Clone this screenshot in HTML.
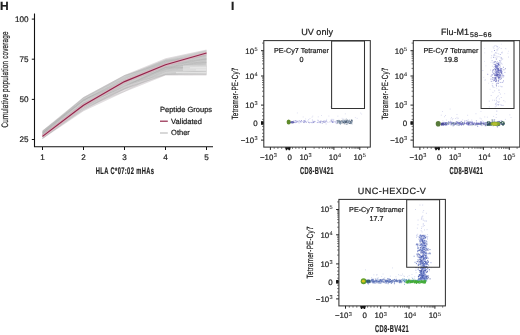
<!DOCTYPE html>
<html><head><meta charset="utf-8"><style>
html,body{margin:0;padding:0;background:#fff;width:520px;height:335px;overflow:hidden}
svg{display:block;will-change:transform}
text{text-rendering:geometricPrecision;font-family:"Liberation Sans",sans-serif;fill:#1e1e1e;stroke:#1e1e1e;stroke-width:0.22px}
</style></head><body>
<svg width="520" height="335" viewBox="0 0 520 335">
<defs><filter id="bl" x="-5%" y="-5%" width="110%" height="110%"><feGaussianBlur stdDeviation="0.35"/></filter></defs>
<rect width="520" height="335" fill="#fff"/>

<text x="0.1" y="10.1" font-size="12" font-weight="700" fill="#000">H</text>
<polygon points="42.5,130.4 83.5,97.0 124.5,75.0 165.5,58.3 206.5,49.5 206.5,75.4 165.5,75.6 124.5,92.0 83.5,111.2 42.5,139.0" fill="#e2dee0" stroke="none"/>
<polygon points="42.5,131.3 83.5,98.0 124.5,76.2 165.5,59.4 206.5,50.6 206.5,74.5 165.5,74.6 124.5,86.0 83.5,107.0 42.5,137.4" fill="#d2d2d2" stroke="none"/>
<g fill="none" stroke="#a0a0a0" stroke-opacity="0.13" stroke-width="0.9" stroke-linejoin="round"><polyline points="42.5,135.5 83.5,102.9 124.5,88.4 165.5,67.8 206.5,66.1"/><polyline points="42.5,134.3 83.5,105.8 124.5,82.0 165.5,67.2 206.5,60.9"/><polyline points="42.5,134.5 83.5,105.7 124.5,82.7 165.5,66.4 206.5,62.3"/><polyline points="42.5,138.4 83.5,109.6 124.5,89.0 165.5,73.6 206.5,71.0"/><polyline points="42.5,135.6 83.5,105.7 124.5,86.3 165.5,67.9 206.5,67.1"/><polyline points="42.5,138.4 83.5,108.0 124.5,91.4 165.5,70.0 206.5,70.4"/><polyline points="42.5,133.8 83.5,99.4 124.5,82.8 165.5,61.7 206.5,54.7"/><polyline points="42.5,133.0 83.5,100.1 124.5,78.8 165.5,61.1 206.5,58.3"/><polyline points="42.5,131.0 83.5,97.6 124.5,75.6 165.5,62.6 206.5,50.6"/><polyline points="42.5,134.7 83.5,103.7 124.5,82.6 165.5,67.1 206.5,62.0"/><polyline points="42.5,136.6 83.5,107.1 124.5,87.9 165.5,69.1 206.5,68.2"/><polyline points="42.5,131.3 83.5,99.8 124.5,80.6 165.5,61.1 206.5,56.3"/><polyline points="42.5,138.4 83.5,109.2 124.5,88.9 165.5,74.6 206.5,73.0"/><polyline points="42.5,136.1 83.5,108.2 124.5,83.8 165.5,74.6 206.5,70.1"/><polyline points="42.5,131.0 83.5,100.6 124.5,78.5 165.5,60.0 206.5,56.0"/><polyline points="42.5,132.8 83.5,101.3 124.5,81.6 165.5,65.1 206.5,58.8"/><polyline points="42.5,136.6 83.5,106.5 124.5,91.4 165.5,71.5 206.5,64.2"/><polyline points="42.5,132.6 83.5,98.3 124.5,77.4 165.5,61.2 206.5,57.1"/><polyline points="42.5,131.6 83.5,98.1 124.5,75.6 165.5,60.4 206.5,55.1"/><polyline points="42.5,138.4 83.5,108.1 124.5,88.2 165.5,74.6 206.5,74.5"/><polyline points="42.5,132.5 83.5,98.5 124.5,75.6 165.5,63.7 206.5,58.9"/><polyline points="42.5,132.4 83.5,101.0 124.5,83.0 165.5,64.8 206.5,61.8"/><polyline points="42.5,134.5 83.5,104.1 124.5,86.8 165.5,65.2 206.5,57.9"/><polyline points="42.5,132.8 83.5,103.1 124.5,81.8 165.5,65.3 206.5,53.0"/><polyline points="42.5,134.0 83.5,99.7 124.5,80.4 165.5,62.4 206.5,59.4"/><polyline points="42.5,135.4 83.5,106.4 124.5,88.9 165.5,70.5 206.5,63.1"/><polyline points="42.5,134.4 83.5,100.7 124.5,80.0 165.5,63.7 206.5,55.5"/><polyline points="42.5,135.8 83.5,103.5 124.5,87.0 165.5,67.7 206.5,62.6"/><polyline points="42.5,132.7 83.5,100.1 124.5,81.9 165.5,63.2 206.5,62.1"/><polyline points="42.5,134.6 83.5,110.4 124.5,85.8 165.5,67.6 206.5,66.7"/><polyline points="42.5,133.3 83.5,97.6 124.5,75.6 165.5,62.3 206.5,53.7"/><polyline points="42.5,131.0 83.5,100.2 124.5,75.9 165.5,61.0 206.5,52.1"/><polyline points="42.5,135.8 83.5,103.5 124.5,85.4 165.5,68.5 206.5,67.2"/><polyline points="42.5,136.6 83.5,106.5 124.5,88.7 165.5,68.9 206.5,65.5"/><polyline points="42.5,134.5 83.5,104.2 124.5,84.2 165.5,67.8 206.5,62.7"/><polyline points="42.5,131.8 83.5,97.6 124.5,76.6 165.5,59.4 206.5,50.6"/><polyline points="42.5,132.8 83.5,100.7 124.5,78.1 165.5,63.8 206.5,55.1"/><polyline points="42.5,137.4 83.5,108.1 124.5,89.1 165.5,71.4 206.5,69.6"/><polyline points="42.5,134.4 83.5,106.4 124.5,87.6 165.5,66.8 206.5,59.0"/><polyline points="42.5,136.5 83.5,105.4 124.5,86.5 165.5,67.2 206.5,63.9"/><polyline points="42.5,138.4 83.5,109.6 124.5,88.3 165.5,74.6 206.5,74.5"/><polyline points="42.5,135.2 83.5,104.3 124.5,83.8 165.5,65.4 206.5,59.7"/><polyline points="42.5,133.2 83.5,103.0 124.5,80.2 165.5,69.8 206.5,54.3"/><polyline points="42.5,138.4 83.5,108.5 124.5,89.2 165.5,74.6 206.5,72.0"/><polyline points="42.5,133.0 83.5,107.1 124.5,80.6 165.5,65.8 206.5,59.1"/><polyline points="42.5,135.7 83.5,104.5 124.5,86.0 165.5,69.5 206.5,60.2"/></g>
<path d="M183,65.5 H206.5 V71 H183 Z" fill="#e0e0e0" fill-opacity="0.8"/>
<path d="M176,72.7 H206.5 M190,67.8 H206.5 M196,69.9 H206.5" stroke="#ececec" stroke-width="0.9"/>
<polyline points="42.5,136.4 83.5,105.2 124.5,81.6 165.5,64.8 206.5,53.0" fill="none" stroke="#e6aec0" stroke-opacity="0.7" stroke-width="2.8" stroke-linejoin="round"/>
<polyline points="42.5,136.4 83.5,105.2 124.5,81.6 165.5,64.8 206.5,53.0" fill="none" stroke="#92264a" stroke-width="1.15" stroke-linejoin="round"/>
<path d="M34.5,13.4 V147.3 M34,146.8 H213" stroke="#111" stroke-width="1.1" fill="none"/>
<path d="M31.8,19.1 H34.5" stroke="#111" stroke-width="1"/>
<text x="28.6" y="21.8" font-size="8.1" text-anchor="end">100</text>
<path d="M31.8,59.2 H34.5" stroke="#111" stroke-width="1"/>
<text x="28.6" y="62.0" font-size="8.1" text-anchor="end">75</text>
<path d="M31.8,99.4 H34.5" stroke="#111" stroke-width="1"/>
<text x="28.6" y="102.1" font-size="8.1" text-anchor="end">50</text>
<path d="M31.8,139.5 H34.5" stroke="#111" stroke-width="1"/>
<text x="28.6" y="142.2" font-size="8.1" text-anchor="end">25</text>
<path d="M42.5,147 V150" stroke="#111" stroke-width="1"/>
<text x="42.5" y="160.3" font-size="8.1" text-anchor="middle">1</text>
<path d="M83.5,147 V150" stroke="#111" stroke-width="1"/>
<text x="83.5" y="160.3" font-size="8.1" text-anchor="middle">2</text>
<path d="M124.5,147 V150" stroke="#111" stroke-width="1"/>
<text x="124.5" y="160.3" font-size="8.1" text-anchor="middle">3</text>
<path d="M165.5,147 V150" stroke="#111" stroke-width="1"/>
<text x="165.5" y="160.3" font-size="8.1" text-anchor="middle">4</text>
<path d="M206.5,147 V150" stroke="#111" stroke-width="1"/>
<text x="206.5" y="160.3" font-size="8.1" text-anchor="middle">5</text>
<text transform="translate(95.8,173.8) scale(0.6,1)" font-size="9.6" font-weight="700" letter-spacing="0.62" fill="#1a1a1a" stroke="#1a1a1a" stroke-width="0.1">HLA C*07:02 mHAs</text>
<text transform="translate(8.2,127.4) rotate(-90) scale(0.668,1)" font-size="9.4" letter-spacing="0.33" fill="#222" stroke="#222" stroke-width="0.3">Cumulative population coverage</text>
<text x="160" y="112.2" font-size="7.5">Peptide Groups</text>
<path d="M160,121.2 H167.8" stroke="#92264a" stroke-width="1.2"/>
<text x="171.1" y="123.7" font-size="7.5">Validated</text>
<path d="M160,133 H167.8" stroke="#cfcfcf" stroke-width="1.6"/>
<text x="171.1" y="135.4" font-size="7.5">Other</text>
<text x="230.9" y="10.1" font-size="12" font-weight="700" fill="#000">I</text>
<text x="317.1" y="34.8" font-size="9.1" text-anchor="middle" letter-spacing="0">UV only</text>
<g filter="url(#bl)">
<rect x="311.9" y="119.5" width="1.0" height="1.0" fill="#9c9cdc" fill-opacity="0.5"/>
<rect x="312.5" y="120.7" width="1.0" height="1.0" fill="#9c9cdc" fill-opacity="0.5"/>
<rect x="314.4" y="120.9" width="1.0" height="1.0" fill="#9c9cdc" fill-opacity="0.5"/>
<rect x="314.5" y="121.1" width="1.0" height="1.0" fill="#9c9cdc" fill-opacity="0.5"/>
<rect x="319.8" y="121.5" width="1.0" height="1.0" fill="#9c9cdc" fill-opacity="0.5"/>
<rect x="305.2" y="121.0" width="1.0" height="1.0" fill="#9c9cdc" fill-opacity="0.5"/>
<rect x="295.6" y="121.9" width="1.0" height="1.0" fill="#9c9cdc" fill-opacity="0.5"/>
<rect x="293.4" y="120.1" width="1.0" height="1.0" fill="#9c9cdc" fill-opacity="0.5"/>
<rect x="335.7" y="122.7" width="1.0" height="1.0" fill="#9c9cdc" fill-opacity="0.5"/>
<rect x="319.2" y="121.1" width="1.0" height="1.0" fill="#9c9cdc" fill-opacity="0.5"/>
<rect x="298.6" y="122.5" width="1.0" height="1.0" fill="#9c9cdc" fill-opacity="0.5"/>
<rect x="294.2" y="121.5" width="1.0" height="1.0" fill="#9c9cdc" fill-opacity="0.5"/>
<rect x="300.1" y="121.4" width="1.0" height="1.0" fill="#9c9cdc" fill-opacity="0.5"/>
<rect x="312.4" y="121.6" width="1.0" height="1.0" fill="#9c9cdc" fill-opacity="0.5"/>
<rect x="311.3" y="122.0" width="1.0" height="1.0" fill="#9c9cdc" fill-opacity="0.5"/>
<rect x="320.3" y="120.5" width="1.0" height="1.0" fill="#9c9cdc" fill-opacity="0.5"/>
<rect x="314.0" y="120.9" width="1.0" height="1.0" fill="#9c9cdc" fill-opacity="0.5"/>
<rect x="304.0" y="120.6" width="1.0" height="1.0" fill="#9c9cdc" fill-opacity="0.5"/>
<rect x="336.4" y="123.1" width="1.0" height="1.0" fill="#9c9cdc" fill-opacity="0.5"/>
<rect x="323.4" y="121.4" width="1.0" height="1.0" fill="#9c9cdc" fill-opacity="0.5"/>
<rect x="305.7" y="121.5" width="1.0" height="1.0" fill="#9c9cdc" fill-opacity="0.5"/>
<rect x="294.7" y="122.1" width="1.0" height="1.0" fill="#9c9cdc" fill-opacity="0.5"/>
<rect x="326.0" y="120.0" width="1.0" height="1.0" fill="#9c9cdc" fill-opacity="0.5"/>
<rect x="308.9" y="122.4" width="1.0" height="1.0" fill="#9c9cdc" fill-opacity="0.5"/>
<rect x="334.6" y="121.4" width="1.0" height="1.0" fill="#9c9cdc" fill-opacity="0.5"/>
<rect x="300.9" y="121.4" width="1.0" height="1.0" fill="#9c9cdc" fill-opacity="0.5"/>
<rect x="332.5" y="118.9" width="1.0" height="1.0" fill="#9c9cdc" fill-opacity="0.5"/>
<rect x="309.4" y="121.9" width="1.0" height="1.0" fill="#9c9cdc" fill-opacity="0.5"/>
<rect x="294.8" y="120.3" width="1.0" height="1.0" fill="#9c9cdc" fill-opacity="0.5"/>
<rect x="303.6" y="120.3" width="1.0" height="1.0" fill="#9c9cdc" fill-opacity="0.5"/>
<rect x="295.4" y="120.2" width="1.0" height="1.0" fill="#9c9cdc" fill-opacity="0.5"/>
<rect x="325.6" y="123.4" width="1.0" height="1.0" fill="#9c9cdc" fill-opacity="0.5"/>
<rect x="296.8" y="121.4" width="1.0" height="1.0" fill="#9c9cdc" fill-opacity="0.5"/>
<rect x="294.2" y="121.8" width="1.0" height="1.0" fill="#9c9cdc" fill-opacity="0.5"/>
<rect x="327.4" y="121.9" width="1.0" height="1.0" fill="#9c9cdc" fill-opacity="0.5"/>
<rect x="311.6" y="122.4" width="1.0" height="1.0" fill="#9c9cdc" fill-opacity="0.5"/>
<rect x="300.1" y="121.3" width="1.0" height="1.0" fill="#9c9cdc" fill-opacity="0.5"/>
<rect x="320.5" y="120.9" width="1.0" height="1.0" fill="#9c9cdc" fill-opacity="0.5"/>
<rect x="296.7" y="120.9" width="1.0" height="1.0" fill="#9c9cdc" fill-opacity="0.5"/>
<rect x="303.6" y="121.7" width="1.0" height="1.0" fill="#9c9cdc" fill-opacity="0.5"/>
<rect x="335.2" y="121.7" width="1.0" height="1.0" fill="#9c9cdc" fill-opacity="0.5"/>
<rect x="331.3" y="120.7" width="1.0" height="1.0" fill="#9c9cdc" fill-opacity="0.5"/>
<rect x="301.0" y="120.0" width="1.0" height="1.0" fill="#9c9cdc" fill-opacity="0.5"/>
<rect x="320.4" y="122.5" width="1.0" height="1.0" fill="#9c9cdc" fill-opacity="0.5"/>
<rect x="296.0" y="122.0" width="1.0" height="1.0" fill="#9c9cdc" fill-opacity="0.5"/>
<rect x="303.1" y="121.4" width="1.0" height="1.0" fill="#9c9cdc" fill-opacity="0.5"/>
<rect x="326.3" y="121.0" width="1.0" height="1.0" fill="#9c9cdc" fill-opacity="0.5"/>
<rect x="294.8" y="122.1" width="1.0" height="1.0" fill="#9c9cdc" fill-opacity="0.5"/>
<rect x="295.6" y="120.8" width="1.0" height="1.0" fill="#9c9cdc" fill-opacity="0.5"/>
<rect x="318.6" y="121.1" width="1.0" height="1.0" fill="#9c9cdc" fill-opacity="0.5"/>
<rect x="308.2" y="119.2" width="1.0" height="1.0" fill="#9c9cdc" fill-opacity="0.5"/>
<rect x="313.3" y="122.1" width="1.0" height="1.0" fill="#9c9cdc" fill-opacity="0.5"/>
<rect x="317.4" y="121.8" width="1.0" height="1.0" fill="#9c9cdc" fill-opacity="0.5"/>
<rect x="298.4" y="121.0" width="1.0" height="1.0" fill="#9c9cdc" fill-opacity="0.5"/>
<rect x="332.4" y="121.7" width="1.0" height="1.0" fill="#9c9cdc" fill-opacity="0.5"/>
<rect x="300.0" y="120.8" width="1.0" height="1.0" fill="#9c9cdc" fill-opacity="0.5"/>
<rect x="324.8" y="122.0" width="1.0" height="1.0" fill="#9c9cdc" fill-opacity="0.5"/>
<rect x="334.3" y="121.2" width="1.0" height="1.0" fill="#9c9cdc" fill-opacity="0.5"/>
<rect x="331.2" y="120.7" width="1.0" height="1.0" fill="#9c9cdc" fill-opacity="0.5"/>
<rect x="296.2" y="120.8" width="1.0" height="1.0" fill="#9c9cdc" fill-opacity="0.5"/>
<rect x="293.2" y="122.0" width="1.0" height="1.0" fill="#9c9cdc" fill-opacity="0.5"/>
<rect x="323.2" y="121.2" width="1.0" height="1.0" fill="#9c9cdc" fill-opacity="0.5"/>
<rect x="303.1" y="121.9" width="1.0" height="1.0" fill="#9c9cdc" fill-opacity="0.5"/>
<rect x="304.7" y="120.3" width="1.0" height="1.0" fill="#9c9cdc" fill-opacity="0.5"/>
<rect x="299.4" y="121.3" width="1.0" height="1.0" fill="#9c9cdc" fill-opacity="0.5"/>
<rect x="301.8" y="121.1" width="1.0" height="1.0" fill="#9c9cdc" fill-opacity="0.5"/>
<rect x="316.7" y="122.1" width="1.0" height="1.0" fill="#9c9cdc" fill-opacity="0.5"/>
<rect x="304.1" y="120.4" width="1.0" height="1.0" fill="#9c9cdc" fill-opacity="0.5"/>
<rect x="332.8" y="121.4" width="1.0" height="1.0" fill="#9c9cdc" fill-opacity="0.5"/>
<rect x="303.6" y="121.6" width="1.0" height="1.0" fill="#9c9cdc" fill-opacity="0.5"/>
<rect x="311.6" y="121.9" width="1.0" height="1.0" fill="#9c9cdc" fill-opacity="0.5"/>
<rect x="308.1" y="121.6" width="1.0" height="1.0" fill="#9c9cdc" fill-opacity="0.5"/>
<rect x="317.2" y="122.0" width="1.0" height="1.0" fill="#9c9cdc" fill-opacity="0.5"/>
<rect x="331.6" y="122.0" width="1.0" height="1.0" fill="#9c9cdc" fill-opacity="0.5"/>
<rect x="335.6" y="120.6" width="1.0" height="1.0" fill="#9c9cdc" fill-opacity="0.5"/>
<rect x="317.8" y="120.2" width="1.0" height="1.0" fill="#9c9cdc" fill-opacity="0.5"/>
<rect x="297.8" y="121.6" width="1.0" height="1.0" fill="#9c9cdc" fill-opacity="0.5"/>
<rect x="332.5" y="121.4" width="1.0" height="1.0" fill="#9c9cdc" fill-opacity="0.5"/>
<rect x="323.0" y="121.6" width="1.0" height="1.0" fill="#9c9cdc" fill-opacity="0.5"/>
<rect x="320.1" y="121.4" width="1.0" height="1.0" fill="#9c9cdc" fill-opacity="0.5"/>
<rect x="313.2" y="121.3" width="1.0" height="1.0" fill="#9c9cdc" fill-opacity="0.5"/>
<rect x="336.5" y="120.6" width="1.0" height="1.0" fill="#9c9cdc" fill-opacity="0.5"/>
<rect x="294.9" y="120.0" width="1.0" height="1.0" fill="#9c9cdc" fill-opacity="0.5"/>
<rect x="332.0" y="121.0" width="1.0" height="1.0" fill="#9c9cdc" fill-opacity="0.5"/>
<rect x="324.7" y="120.9" width="1.0" height="1.0" fill="#9c9cdc" fill-opacity="0.5"/>
<rect x="332.7" y="119.9" width="1.0" height="1.0" fill="#9c9cdc" fill-opacity="0.5"/>
<rect x="307.3" y="120.6" width="1.0" height="1.0" fill="#9c9cdc" fill-opacity="0.5"/>
<rect x="330.7" y="119.6" width="1.0" height="1.0" fill="#9c9cdc" fill-opacity="0.5"/>
<rect x="310.3" y="121.9" width="1.0" height="1.0" fill="#9c9cdc" fill-opacity="0.5"/>
<rect x="317.3" y="119.7" width="1.0" height="1.0" fill="#9c9cdc" fill-opacity="0.5"/>
<rect x="320.5" y="120.7" width="1.0" height="1.0" fill="#6a6ab8" fill-opacity="0.45"/>
<rect x="319.9" y="122.0" width="1.0" height="1.0" fill="#6a6ab8" fill-opacity="0.45"/>
<rect x="298.7" y="120.0" width="1.0" height="1.0" fill="#6a6ab8" fill-opacity="0.45"/>
<rect x="330.7" y="119.7" width="1.0" height="1.0" fill="#6a6ab8" fill-opacity="0.45"/>
<rect x="324.6" y="120.5" width="1.0" height="1.0" fill="#6a6ab8" fill-opacity="0.45"/>
<rect x="318.7" y="122.1" width="1.0" height="1.0" fill="#6a6ab8" fill-opacity="0.45"/>
<rect x="313.1" y="121.6" width="1.0" height="1.0" fill="#6a6ab8" fill-opacity="0.45"/>
<rect x="325.5" y="121.2" width="1.0" height="1.0" fill="#6a6ab8" fill-opacity="0.45"/>
<rect x="296.7" y="120.8" width="1.0" height="1.0" fill="#6a6ab8" fill-opacity="0.45"/>
<rect x="304.7" y="120.9" width="1.0" height="1.0" fill="#6a6ab8" fill-opacity="0.45"/>
<rect x="323.4" y="120.4" width="1.0" height="1.0" fill="#6a6ab8" fill-opacity="0.45"/>
<rect x="332.3" y="121.4" width="1.0" height="1.0" fill="#6a6ab8" fill-opacity="0.45"/>
<rect x="305.7" y="122.0" width="1.0" height="1.0" fill="#6a6ab8" fill-opacity="0.45"/>
<rect x="322.6" y="121.4" width="1.0" height="1.0" fill="#6a6ab8" fill-opacity="0.45"/>
<rect x="303.6" y="122.1" width="1.0" height="1.0" fill="#6a6ab8" fill-opacity="0.45"/>
<rect x="321.9" y="122.7" width="1.0" height="1.0" fill="#6a6ab8" fill-opacity="0.45"/>
<rect x="313.2" y="121.9" width="1.0" height="1.0" fill="#6a6ab8" fill-opacity="0.45"/>
<rect x="322.1" y="121.0" width="1.0" height="1.0" fill="#6a6ab8" fill-opacity="0.45"/>
<rect x="303.4" y="120.2" width="1.0" height="1.0" fill="#6a6ab8" fill-opacity="0.45"/>
<rect x="332.1" y="121.9" width="1.0" height="1.0" fill="#6a6ab8" fill-opacity="0.45"/>
<rect x="330.7" y="120.7" width="1.0" height="1.0" fill="#6a6ab8" fill-opacity="0.45"/>
<rect x="308.2" y="122.0" width="1.0" height="1.0" fill="#6a6ab8" fill-opacity="0.45"/>
<rect x="300.9" y="120.1" width="1.0" height="1.0" fill="#6a6ab8" fill-opacity="0.45"/>
<rect x="329.4" y="121.4" width="1.0" height="1.0" fill="#6a6ab8" fill-opacity="0.45"/>
<rect x="323.9" y="121.9" width="1.0" height="1.0" fill="#6a6ab8" fill-opacity="0.45"/>
<rect x="339.1" y="121.2" width="1.0" height="1.0" fill="#3e4e68" fill-opacity="0.6"/>
<rect x="343.5" y="121.3" width="1.0" height="1.0" fill="#3e4e68" fill-opacity="0.6"/>
<rect x="342.9" y="122.0" width="1.0" height="1.0" fill="#3e4e68" fill-opacity="0.6"/>
<rect x="346.2" y="120.6" width="1.0" height="1.0" fill="#3e4e68" fill-opacity="0.6"/>
<rect x="349.5" y="121.4" width="1.0" height="1.0" fill="#3e4e68" fill-opacity="0.6"/>
<rect x="351.7" y="121.1" width="1.0" height="1.0" fill="#3e4e68" fill-opacity="0.6"/>
<rect x="337.0" y="121.5" width="1.0" height="1.0" fill="#3e4e68" fill-opacity="0.6"/>
<rect x="350.0" y="122.8" width="1.0" height="1.0" fill="#3e4e68" fill-opacity="0.6"/>
<rect x="345.3" y="121.8" width="1.0" height="1.0" fill="#3e4e68" fill-opacity="0.6"/>
<rect x="341.3" y="121.4" width="1.0" height="1.0" fill="#3e4e68" fill-opacity="0.6"/>
<rect x="338.6" y="121.2" width="1.0" height="1.0" fill="#3e4e68" fill-opacity="0.6"/>
<rect x="343.5" y="123.1" width="1.0" height="1.0" fill="#3e4e68" fill-opacity="0.6"/>
<rect x="340.2" y="121.7" width="1.0" height="1.0" fill="#3e4e68" fill-opacity="0.6"/>
<rect x="338.7" y="122.6" width="1.0" height="1.0" fill="#3e4e68" fill-opacity="0.6"/>
<rect x="343.4" y="121.8" width="1.0" height="1.0" fill="#3e4e68" fill-opacity="0.6"/>
<rect x="346.3" y="120.5" width="1.0" height="1.0" fill="#3e4e68" fill-opacity="0.6"/>
<rect x="351.4" y="120.0" width="1.0" height="1.0" fill="#3e4e68" fill-opacity="0.6"/>
<rect x="347.1" y="121.7" width="1.0" height="1.0" fill="#3e4e68" fill-opacity="0.6"/>
<rect x="339.3" y="122.4" width="1.0" height="1.0" fill="#3e4e68" fill-opacity="0.6"/>
<rect x="336.7" y="120.0" width="1.0" height="1.0" fill="#3e4e68" fill-opacity="0.6"/>
<rect x="339.3" y="121.6" width="1.0" height="1.0" fill="#3e4e68" fill-opacity="0.6"/>
<rect x="340.7" y="120.6" width="1.0" height="1.0" fill="#3e4e68" fill-opacity="0.6"/>
<rect x="344.6" y="122.5" width="1.0" height="1.0" fill="#3e4e68" fill-opacity="0.6"/>
<rect x="346.0" y="121.4" width="1.0" height="1.0" fill="#3e4e68" fill-opacity="0.6"/>
<rect x="348.8" y="120.5" width="1.0" height="1.0" fill="#3e4e68" fill-opacity="0.6"/>
<rect x="350.5" y="123.2" width="1.0" height="1.0" fill="#3e4e68" fill-opacity="0.6"/>
<rect x="347.7" y="122.5" width="1.0" height="1.0" fill="#3e4e68" fill-opacity="0.6"/>
<rect x="338.5" y="120.2" width="1.0" height="1.0" fill="#3e4e68" fill-opacity="0.6"/>
<rect x="350.6" y="121.8" width="1.0" height="1.0" fill="#3e4e68" fill-opacity="0.6"/>
<rect x="342.3" y="119.7" width="1.0" height="1.0" fill="#3e4e68" fill-opacity="0.6"/>
<rect x="348.8" y="120.6" width="1.0" height="1.0" fill="#3e4e68" fill-opacity="0.6"/>
<rect x="351.1" y="120.1" width="1.0" height="1.0" fill="#3e4e68" fill-opacity="0.6"/>
<rect x="339.7" y="121.7" width="1.0" height="1.0" fill="#3e4e68" fill-opacity="0.6"/>
<rect x="347.7" y="121.9" width="1.0" height="1.0" fill="#3e4e68" fill-opacity="0.6"/>
<rect x="347.6" y="120.2" width="1.0" height="1.0" fill="#3e4e68" fill-opacity="0.6"/>
<rect x="339.8" y="123.4" width="1.0" height="1.0" fill="#3e4e68" fill-opacity="0.6"/>
<rect x="351.6" y="119.9" width="1.0" height="1.0" fill="#3e4e68" fill-opacity="0.6"/>
<rect x="344.8" y="121.6" width="1.0" height="1.0" fill="#3e4e68" fill-opacity="0.6"/>
<rect x="350.6" y="120.6" width="1.0" height="1.0" fill="#3e4e68" fill-opacity="0.6"/>
<rect x="349.8" y="121.2" width="1.0" height="1.0" fill="#3e4e68" fill-opacity="0.6"/>
<rect x="343.3" y="121.7" width="1.0" height="1.0" fill="#3e4e68" fill-opacity="0.6"/>
<rect x="345.0" y="121.5" width="1.0" height="1.0" fill="#3e4e68" fill-opacity="0.6"/>
<rect x="336.9" y="120.4" width="1.0" height="1.0" fill="#3e4e68" fill-opacity="0.6"/>
<rect x="349.0" y="122.9" width="1.0" height="1.0" fill="#3e4e68" fill-opacity="0.6"/>
<rect x="339.2" y="122.0" width="1.0" height="1.0" fill="#3e4e68" fill-opacity="0.6"/>
<rect x="341.7" y="121.5" width="1.0" height="1.0" fill="#3e4e68" fill-opacity="0.6"/>
<rect x="338.8" y="120.9" width="1.0" height="1.0" fill="#3e4e68" fill-opacity="0.6"/>
<rect x="344.5" y="121.1" width="1.0" height="1.0" fill="#3e4e68" fill-opacity="0.6"/>
<rect x="347.2" y="119.7" width="1.0" height="1.0" fill="#3e4e68" fill-opacity="0.6"/>
<rect x="351.2" y="119.2" width="1.0" height="1.0" fill="#3e4e68" fill-opacity="0.6"/>
<rect x="337.8" y="121.5" width="1.0" height="1.0" fill="#3e4e68" fill-opacity="0.6"/>
<rect x="339.9" y="120.7" width="1.0" height="1.0" fill="#3e4e68" fill-opacity="0.6"/>
<rect x="347.8" y="121.3" width="1.0" height="1.0" fill="#3e4e68" fill-opacity="0.6"/>
<rect x="346.4" y="119.7" width="1.0" height="1.0" fill="#3e4e68" fill-opacity="0.6"/>
<rect x="345.2" y="121.2" width="1.0" height="1.0" fill="#3e4e68" fill-opacity="0.6"/>
<rect x="341.3" y="120.1" width="1.0" height="1.0" fill="#3e4e68" fill-opacity="0.6"/>
<rect x="350.5" y="122.6" width="1.0" height="1.0" fill="#3e4e68" fill-opacity="0.6"/>
<rect x="339.7" y="122.8" width="1.0" height="1.0" fill="#3e4e68" fill-opacity="0.6"/>
<rect x="344.6" y="119.5" width="1.0" height="1.0" fill="#3e4e68" fill-opacity="0.6"/>
<rect x="345.4" y="121.7" width="1.0" height="1.0" fill="#3e4e68" fill-opacity="0.6"/>
<rect x="344.3" y="122.5" width="1.0" height="1.0" fill="#3e4e68" fill-opacity="0.6"/>
<rect x="345.9" y="123.7" width="1.0" height="1.0" fill="#3e4e68" fill-opacity="0.6"/>
<rect x="344.5" y="121.8" width="1.0" height="1.0" fill="#3e4e68" fill-opacity="0.6"/>
<rect x="342.7" y="121.8" width="1.0" height="1.0" fill="#3e4e68" fill-opacity="0.6"/>
<rect x="344.1" y="120.3" width="1.0" height="1.0" fill="#3e4e68" fill-opacity="0.6"/>
<rect x="347.2" y="122.4" width="1.0" height="1.0" fill="#3e4e68" fill-opacity="0.6"/>
<rect x="342.9" y="121.9" width="1.0" height="1.0" fill="#3e4e68" fill-opacity="0.6"/>
<rect x="351.3" y="122.0" width="1.0" height="1.0" fill="#3e4e68" fill-opacity="0.6"/>
<rect x="343.8" y="121.1" width="1.0" height="1.0" fill="#3e4e68" fill-opacity="0.6"/>
<rect x="338.5" y="119.9" width="1.0" height="1.0" fill="#3e4e68" fill-opacity="0.6"/>
<rect x="350.5" y="122.1" width="1.0" height="1.0" fill="#3e4e68" fill-opacity="0.6"/>
<rect x="343.9" y="121.2" width="1.0" height="1.0" fill="#3e4e68" fill-opacity="0.6"/>
<rect x="346.1" y="121.9" width="1.0" height="1.0" fill="#3e4e68" fill-opacity="0.6"/>
<rect x="350.8" y="122.5" width="1.0" height="1.0" fill="#3e4e68" fill-opacity="0.6"/>
<rect x="336.9" y="122.5" width="1.0" height="1.0" fill="#3e4e68" fill-opacity="0.6"/>
<rect x="339.5" y="121.6" width="1.0" height="1.0" fill="#3e4e68" fill-opacity="0.6"/>
<rect x="341.5" y="122.8" width="1.0" height="1.0" fill="#3e4e68" fill-opacity="0.6"/>
<rect x="342.0" y="121.1" width="1.0" height="1.0" fill="#3e4e68" fill-opacity="0.6"/>
<rect x="347.8" y="121.1" width="1.0" height="1.0" fill="#3e4e68" fill-opacity="0.6"/>
<rect x="338.4" y="120.7" width="1.0" height="1.0" fill="#3e4e68" fill-opacity="0.6"/>
<rect x="339.6" y="121.4" width="1.0" height="1.0" fill="#3e4e68" fill-opacity="0.6"/>
<rect x="344.7" y="120.6" width="1.0" height="1.0" fill="#3e4e68" fill-opacity="0.6"/>
<rect x="342.9" y="121.7" width="1.0" height="1.0" fill="#3e4e68" fill-opacity="0.6"/>
<rect x="344.7" y="121.7" width="1.0" height="1.0" fill="#3e4e68" fill-opacity="0.6"/>
<rect x="346.3" y="121.9" width="1.0" height="1.0" fill="#3e4e68" fill-opacity="0.6"/>
<rect x="346.4" y="119.7" width="1.0" height="1.0" fill="#3e4e68" fill-opacity="0.6"/>
<rect x="346.0" y="121.1" width="1.0" height="1.0" fill="#3e4e68" fill-opacity="0.6"/>
<rect x="349.8" y="121.6" width="1.0" height="1.0" fill="#3e4e68" fill-opacity="0.6"/>
<rect x="349.1" y="122.9" width="1.0" height="1.0" fill="#3e4e68" fill-opacity="0.6"/>
<rect x="350.5" y="121.1" width="1.0" height="1.0" fill="#3e4e68" fill-opacity="0.6"/>
<rect x="350.8" y="122.3" width="1.0" height="1.0" fill="#8aa0b8" fill-opacity="0.55"/>
<rect x="339.9" y="123.7" width="1.0" height="1.0" fill="#8aa0b8" fill-opacity="0.55"/>
<rect x="338.6" y="121.4" width="1.0" height="1.0" fill="#8aa0b8" fill-opacity="0.55"/>
<rect x="340.2" y="121.3" width="1.0" height="1.0" fill="#8aa0b8" fill-opacity="0.55"/>
<rect x="338.0" y="120.6" width="1.0" height="1.0" fill="#8aa0b8" fill-opacity="0.55"/>
<rect x="349.4" y="119.7" width="1.0" height="1.0" fill="#8aa0b8" fill-opacity="0.55"/>
<rect x="338.5" y="122.3" width="1.0" height="1.0" fill="#8aa0b8" fill-opacity="0.55"/>
<rect x="342.7" y="121.3" width="1.0" height="1.0" fill="#8aa0b8" fill-opacity="0.55"/>
<rect x="339.6" y="121.2" width="1.0" height="1.0" fill="#8aa0b8" fill-opacity="0.55"/>
<rect x="347.1" y="123.9" width="1.0" height="1.0" fill="#8aa0b8" fill-opacity="0.55"/>
<rect x="338.3" y="119.9" width="1.0" height="1.0" fill="#8aa0b8" fill-opacity="0.55"/>
<rect x="344.3" y="121.5" width="1.0" height="1.0" fill="#8aa0b8" fill-opacity="0.55"/>
<rect x="347.1" y="120.1" width="1.0" height="1.0" fill="#8aa0b8" fill-opacity="0.55"/>
<rect x="339.4" y="121.9" width="1.0" height="1.0" fill="#8aa0b8" fill-opacity="0.55"/>
<rect x="337.1" y="121.6" width="1.0" height="1.0" fill="#8aa0b8" fill-opacity="0.55"/>
<rect x="345.1" y="120.0" width="1.0" height="1.0" fill="#8aa0b8" fill-opacity="0.55"/>
<rect x="338.8" y="121.3" width="1.0" height="1.0" fill="#8aa0b8" fill-opacity="0.55"/>
<rect x="339.4" y="122.0" width="1.0" height="1.0" fill="#8aa0b8" fill-opacity="0.55"/>
<rect x="351.8" y="123.4" width="1.0" height="1.0" fill="#8aa0b8" fill-opacity="0.55"/>
<rect x="350.9" y="121.7" width="1.0" height="1.0" fill="#8aa0b8" fill-opacity="0.55"/>
<rect x="351.2" y="121.6" width="1.0" height="1.0" fill="#8aa0b8" fill-opacity="0.55"/>
<rect x="343.7" y="121.5" width="1.0" height="1.0" fill="#8aa0b8" fill-opacity="0.55"/>
<rect x="343.7" y="120.4" width="1.0" height="1.0" fill="#8aa0b8" fill-opacity="0.55"/>
<rect x="344.5" y="120.1" width="1.0" height="1.0" fill="#8aa0b8" fill-opacity="0.55"/>
<rect x="336.7" y="122.0" width="1.0" height="1.0" fill="#8aa0b8" fill-opacity="0.55"/>
<rect x="347.4" y="121.8" width="1.0" height="1.0" fill="#8aa0b8" fill-opacity="0.55"/>
<rect x="343.5" y="120.8" width="1.0" height="1.0" fill="#8aa0b8" fill-opacity="0.55"/>
<rect x="348.0" y="120.8" width="1.0" height="1.0" fill="#8aa0b8" fill-opacity="0.55"/>
<rect x="339.1" y="121.8" width="1.0" height="1.0" fill="#8aa0b8" fill-opacity="0.55"/>
<rect x="344.4" y="123.7" width="1.0" height="1.0" fill="#8aa0b8" fill-opacity="0.55"/>
<rect x="348.9" y="121.6" width="1.0" height="1.0" fill="#8aa0b8" fill-opacity="0.55"/>
<rect x="347.4" y="122.4" width="1.0" height="1.0" fill="#8aa0b8" fill-opacity="0.55"/>
<rect x="342.8" y="120.2" width="1.0" height="1.0" fill="#8aa0b8" fill-opacity="0.55"/>
<rect x="345.8" y="118.3" width="1.0" height="1.0" fill="#8aa0b8" fill-opacity="0.55"/>
<rect x="349.0" y="121.3" width="1.0" height="1.0" fill="#8aa0b8" fill-opacity="0.55"/>
<rect x="340.5" y="122.9" width="1.0" height="1.0" fill="#8aa0b8" fill-opacity="0.55"/>
<rect x="348.6" y="120.4" width="1.0" height="1.0" fill="#8aa0b8" fill-opacity="0.55"/>
<rect x="349.1" y="119.5" width="1.0" height="1.0" fill="#8aa0b8" fill-opacity="0.55"/>
<rect x="350.1" y="122.7" width="1.0" height="1.0" fill="#8aa0b8" fill-opacity="0.55"/>
<rect x="347.3" y="121.6" width="1.0" height="1.0" fill="#8aa0b8" fill-opacity="0.55"/>
<rect x="342.8" y="119.5" width="1.0" height="1.0" fill="#8aa0b8" fill-opacity="0.55"/>
<rect x="347.7" y="122.3" width="1.0" height="1.0" fill="#8aa0b8" fill-opacity="0.55"/>
<rect x="343.8" y="121.8" width="1.0" height="1.0" fill="#8aa0b8" fill-opacity="0.55"/>
<rect x="336.7" y="120.4" width="1.0" height="1.0" fill="#8aa0b8" fill-opacity="0.55"/>
<rect x="346.2" y="122.6" width="1.0" height="1.0" fill="#8aa0b8" fill-opacity="0.55"/>
<rect x="340.1" y="122.9" width="1.0" height="1.0" fill="#8aa0b8" fill-opacity="0.55"/>
<rect x="341.7" y="120.8" width="1.0" height="1.0" fill="#8aa0b8" fill-opacity="0.55"/>
<rect x="346.7" y="120.2" width="1.0" height="1.0" fill="#8aa0b8" fill-opacity="0.55"/>
<rect x="342.5" y="120.8" width="1.0" height="1.0" fill="#8aa0b8" fill-opacity="0.55"/>
<rect x="352.0" y="120.3" width="1.0" height="1.0" fill="#8aa0b8" fill-opacity="0.55"/>
<rect x="344.9" y="113.4" width="0.9" height="0.9" fill="#b8bce4" fill-opacity="0.5"/>
<rect x="360.2" y="112.6" width="0.9" height="0.9" fill="#b8bce4" fill-opacity="0.5"/>
<rect x="343.3" y="118.5" width="0.9" height="0.9" fill="#b8bce4" fill-opacity="0.5"/>
<rect x="309.5" y="118.1" width="0.9" height="0.9" fill="#b8bce4" fill-opacity="0.5"/>
<rect x="305.2" y="118.5" width="0.9" height="0.9" fill="#b8bce4" fill-opacity="0.5"/>
<rect x="317.8" y="116.4" width="0.9" height="0.9" fill="#b8bce4" fill-opacity="0.5"/>
<rect x="354.9" y="117.2" width="0.9" height="0.9" fill="#b8bce4" fill-opacity="0.5"/>
<rect x="330.1" y="106.4" width="0.9" height="0.9" fill="#b8bce4" fill-opacity="0.5"/>
<rect x="331.3" y="118.8" width="0.9" height="0.9" fill="#b8bce4" fill-opacity="0.5"/>
<rect x="361.2" y="113.6" width="0.9" height="0.9" fill="#b8bce4" fill-opacity="0.5"/>
<rect x="296.9" y="112.5" width="0.9" height="0.9" fill="#b8bce4" fill-opacity="0.5"/>
<rect x="333.4" y="119.4" width="0.9" height="0.9" fill="#b8bce4" fill-opacity="0.5"/>
<rect x="356.7" y="117.9" width="0.9" height="0.9" fill="#b8bce4" fill-opacity="0.5"/>
<rect x="302.7" y="116.5" width="0.9" height="0.9" fill="#b8bce4" fill-opacity="0.5"/>
<rect x="326.2" y="118.9" width="0.9" height="0.9" fill="#b8bce4" fill-opacity="0.5"/>
<rect x="334.3" y="108.2" width="0.9" height="0.9" fill="#b8bce4" fill-opacity="0.5"/>
<rect x="321.0" y="115.1" width="0.9" height="0.9" fill="#b8bce4" fill-opacity="0.5"/>
<rect x="328.4" y="115.6" width="0.9" height="0.9" fill="#b8bce4" fill-opacity="0.5"/>
<rect x="311.6" y="116.7" width="0.9" height="0.9" fill="#b8bce4" fill-opacity="0.5"/>
<rect x="337.4" y="115.7" width="0.9" height="0.9" fill="#b8bce4" fill-opacity="0.5"/>
<rect x="341.7" y="117.9" width="0.9" height="0.9" fill="#b8bce4" fill-opacity="0.5"/>
<rect x="312.3" y="115.7" width="0.9" height="0.9" fill="#b8bce4" fill-opacity="0.5"/>
<ellipse cx="288.7" cy="122.0" rx="2.1" ry="2.5" fill="#5e8a2c" fill-opacity="1"/>
<ellipse cx="292.3" cy="122.3" rx="1.9" ry="1.2" fill="#3a3a96" fill-opacity="0.75"/>
</g>
<rect x="263.8" y="40.6" width="106.5" height="106.5" fill="none" stroke="#333" stroke-width="1.05"/>
<path d="M331.6,40.9 V108.4 H364.5 V40.9 Z" fill="none" stroke="#333" stroke-width="1.05"/>
<path d="M270.4,147.1 v2.8" stroke="#222" stroke-width="1"/>
<path d="M289.2,147.1 v2.8" stroke="#222" stroke-width="1"/>
<path d="M305.6,147.1 v2.8" stroke="#222" stroke-width="1"/>
<path d="M333.9,147.1 v2.8" stroke="#222" stroke-width="1"/>
<path d="M359.8,147.1 v2.8" stroke="#222" stroke-width="1"/>
<path d="M263.8,140.1 h-2.8" stroke="#222" stroke-width="1"/>
<path d="M263.8,123.0 h-2.8" stroke="#222" stroke-width="1"/>
<path d="M263.8,105.1 h-2.8" stroke="#222" stroke-width="1"/>
<path d="M263.8,76.0 h-2.8" stroke="#222" stroke-width="1"/>
<path d="M263.8,50.7 h-2.8" stroke="#222" stroke-width="1"/>
<path d="M314.1,147.1 v1.7" stroke="#444" stroke-width="0.8"/>
<path d="M263.8,96.3 h-1.7" stroke="#444" stroke-width="0.8"/>
<path d="M319.1,147.1 v1.7" stroke="#444" stroke-width="0.8"/>
<path d="M263.8,91.2 h-1.7" stroke="#444" stroke-width="0.8"/>
<path d="M322.6,147.1 v1.7" stroke="#444" stroke-width="0.8"/>
<path d="M263.8,87.6 h-1.7" stroke="#444" stroke-width="0.8"/>
<path d="M325.4,147.1 v1.7" stroke="#444" stroke-width="0.8"/>
<path d="M263.8,84.8 h-1.7" stroke="#444" stroke-width="0.8"/>
<path d="M327.6,147.1 v1.7" stroke="#444" stroke-width="0.8"/>
<path d="M263.8,82.5 h-1.7" stroke="#444" stroke-width="0.8"/>
<path d="M329.5,147.1 v1.7" stroke="#444" stroke-width="0.8"/>
<path d="M263.8,80.5 h-1.7" stroke="#444" stroke-width="0.8"/>
<path d="M331.2,147.1 v1.7" stroke="#444" stroke-width="0.8"/>
<path d="M263.8,78.8 h-1.7" stroke="#444" stroke-width="0.8"/>
<path d="M332.6,147.1 v1.7" stroke="#444" stroke-width="0.8"/>
<path d="M263.8,77.3 h-1.7" stroke="#444" stroke-width="0.8"/>
<path d="M341.7,147.1 v1.7" stroke="#444" stroke-width="0.8"/>
<path d="M263.8,68.4 h-1.7" stroke="#444" stroke-width="0.8"/>
<path d="M346.3,147.1 v1.7" stroke="#444" stroke-width="0.8"/>
<path d="M263.8,63.9 h-1.7" stroke="#444" stroke-width="0.8"/>
<path d="M349.5,147.1 v1.7" stroke="#444" stroke-width="0.8"/>
<path d="M263.8,60.8 h-1.7" stroke="#444" stroke-width="0.8"/>
<path d="M352.0,147.1 v1.7" stroke="#444" stroke-width="0.8"/>
<path d="M263.8,58.3 h-1.7" stroke="#444" stroke-width="0.8"/>
<path d="M354.1,147.1 v1.7" stroke="#444" stroke-width="0.8"/>
<path d="M263.8,56.3 h-1.7" stroke="#444" stroke-width="0.8"/>
<path d="M355.8,147.1 v1.7" stroke="#444" stroke-width="0.8"/>
<path d="M263.8,54.6 h-1.7" stroke="#444" stroke-width="0.8"/>
<path d="M357.3,147.1 v1.7" stroke="#444" stroke-width="0.8"/>
<path d="M263.8,53.2 h-1.7" stroke="#444" stroke-width="0.8"/>
<path d="M358.6,147.1 v1.7" stroke="#444" stroke-width="0.8"/>
<path d="M263.8,51.9 h-1.7" stroke="#444" stroke-width="0.8"/>
<path d="M367.6,147.1 v1.7" stroke="#444" stroke-width="0.8"/>
<path d="M263.8,43.1 h-1.7" stroke="#444" stroke-width="0.8"/>
<path d="M292.5,147.1 v1.7" stroke="#444" stroke-width="0.8"/>
<path d="M263.8,119.4 h-1.7" stroke="#444" stroke-width="0.8"/>
<path d="M295.8,147.1 v1.7" stroke="#444" stroke-width="0.8"/>
<path d="M263.8,115.8 h-1.7" stroke="#444" stroke-width="0.8"/>
<path d="M299.0,147.1 v1.7" stroke="#444" stroke-width="0.8"/>
<path d="M263.8,112.3 h-1.7" stroke="#444" stroke-width="0.8"/>
<path d="M302.3,147.1 v1.7" stroke="#444" stroke-width="0.8"/>
<path d="M263.8,108.7 h-1.7" stroke="#444" stroke-width="0.8"/>
<path d="M285.4,147.1 v1.7" stroke="#444" stroke-width="0.8"/>
<path d="M263.8,126.4 h-1.7" stroke="#444" stroke-width="0.8"/>
<path d="M281.7,147.1 v1.7" stroke="#444" stroke-width="0.8"/>
<path d="M263.8,129.8 h-1.7" stroke="#444" stroke-width="0.8"/>
<path d="M277.9,147.1 v1.7" stroke="#444" stroke-width="0.8"/>
<path d="M263.8,133.3 h-1.7" stroke="#444" stroke-width="0.8"/>
<path d="M274.2,147.1 v1.7" stroke="#444" stroke-width="0.8"/>
<path d="M263.8,136.7 h-1.7" stroke="#444" stroke-width="0.8"/>
<text x="259.9" y="159.6" font-size="7.9">−10<tspan dx="0.4" dy="-2.9" font-size="5.6" stroke-width="0.05">3</tspan></text>
<text x="289.6" y="159.6" font-size="7.9" text-anchor="middle">0</text>
<text x="299.4" y="159.6" font-size="7.9">10<tspan dx="0.4" dy="-2.9" font-size="5.6" stroke-width="0.05">3</tspan></text>
<text x="328.8" y="159.6" font-size="7.9">10<tspan dx="0.4" dy="-2.9" font-size="5.6" stroke-width="0.05">4</tspan></text>
<text x="353.6" y="159.6" font-size="7.9">10<tspan dx="0.4" dy="-2.9" font-size="5.6" stroke-width="0.05">5</tspan></text>
<text x="257.6" y="142.9" font-size="7.9" text-anchor="end">−10<tspan dx="0.4" dy="-2.9" font-size="5.6" stroke-width="0.05">3</tspan></text>
<text x="257.6" y="125.8" font-size="7.9" text-anchor="end">0</text>
<text x="257.6" y="107.9" font-size="7.9" text-anchor="end">10<tspan dx="0.4" dy="-2.9" font-size="5.6" stroke-width="0.05">3</tspan></text>
<text x="257.6" y="78.8" font-size="7.9" text-anchor="end">10<tspan dx="0.4" dy="-2.9" font-size="5.6" stroke-width="0.05">4</tspan></text>
<text x="257.6" y="53.5" font-size="7.9" text-anchor="end">10<tspan dx="0.4" dy="-2.9" font-size="5.6" stroke-width="0.05">5</tspan></text>
<text transform="translate(300.0,173.5) scale(0.57,1)" font-size="10.0" font-weight="700" letter-spacing="0.6" fill="#262626" stroke="none">CD8-BV421</text>
<text transform="translate(238.2,119.6) rotate(-90) scale(0.69,1)" font-size="9.0" letter-spacing="0.4" fill="#222" stroke="#222" stroke-width="0.25">Tetramer-PE-Cy7</text>
<text x="301.5" y="53.2" font-size="7.2" text-anchor="middle">PE-Cy7 Tetramer</text>
<text x="301.5" y="62.0" font-size="7.2" text-anchor="middle">0</text>
<path d="M285.4,147.3 h5.4 l-0.8,3 h-1.2 l-0.9,-1.6 l-0.9,1.6 h-1.2 z" fill="#151515"/>
<rect x="261.0" y="121.2" width="2.4" height="3.6" fill="#151515"/>
<text x="441" y="34.8" font-size="9.0">Flu-M1<tspan dx="0.9" dy="2.4" font-size="6.9" letter-spacing="0.6">58–66</tspan></text>
<g filter="url(#bl)">
<rect x="442.5" y="123.1" width="1.1" height="1.1" fill="#7c7cc8" fill-opacity="0.6"/>
<rect x="448.1" y="123.1" width="1.1" height="1.1" fill="#7c7cc8" fill-opacity="0.6"/>
<rect x="484.4" y="122.1" width="1.1" height="1.1" fill="#7c7cc8" fill-opacity="0.6"/>
<rect x="477.1" y="125.9" width="1.1" height="1.1" fill="#7c7cc8" fill-opacity="0.6"/>
<rect x="486.7" y="124.0" width="1.1" height="1.1" fill="#7c7cc8" fill-opacity="0.6"/>
<rect x="444.1" y="123.9" width="1.1" height="1.1" fill="#7c7cc8" fill-opacity="0.6"/>
<rect x="463.9" y="122.5" width="1.1" height="1.1" fill="#7c7cc8" fill-opacity="0.6"/>
<rect x="488.1" y="123.1" width="1.1" height="1.1" fill="#7c7cc8" fill-opacity="0.6"/>
<rect x="486.4" y="124.3" width="1.1" height="1.1" fill="#7c7cc8" fill-opacity="0.6"/>
<rect x="475.9" y="120.3" width="1.1" height="1.1" fill="#7c7cc8" fill-opacity="0.6"/>
<rect x="480.5" y="123.6" width="1.1" height="1.1" fill="#7c7cc8" fill-opacity="0.6"/>
<rect x="470.0" y="124.1" width="1.1" height="1.1" fill="#7c7cc8" fill-opacity="0.6"/>
<rect x="462.8" y="124.0" width="1.1" height="1.1" fill="#7c7cc8" fill-opacity="0.6"/>
<rect x="450.4" y="124.2" width="1.1" height="1.1" fill="#7c7cc8" fill-opacity="0.6"/>
<rect x="446.5" y="123.4" width="1.1" height="1.1" fill="#7c7cc8" fill-opacity="0.6"/>
<rect x="462.2" y="122.5" width="1.1" height="1.1" fill="#7c7cc8" fill-opacity="0.6"/>
<rect x="453.3" y="122.1" width="1.1" height="1.1" fill="#7c7cc8" fill-opacity="0.6"/>
<rect x="469.0" y="121.5" width="1.1" height="1.1" fill="#7c7cc8" fill-opacity="0.6"/>
<rect x="466.5" y="123.9" width="1.1" height="1.1" fill="#7c7cc8" fill-opacity="0.6"/>
<rect x="489.3" y="124.6" width="1.1" height="1.1" fill="#7c7cc8" fill-opacity="0.6"/>
<rect x="452.1" y="122.6" width="1.1" height="1.1" fill="#7c7cc8" fill-opacity="0.6"/>
<rect x="446.0" y="124.4" width="1.1" height="1.1" fill="#7c7cc8" fill-opacity="0.6"/>
<rect x="471.1" y="122.0" width="1.1" height="1.1" fill="#7c7cc8" fill-opacity="0.6"/>
<rect x="458.1" y="122.8" width="1.1" height="1.1" fill="#7c7cc8" fill-opacity="0.6"/>
<rect x="468.1" y="124.6" width="1.1" height="1.1" fill="#7c7cc8" fill-opacity="0.6"/>
<rect x="469.4" y="121.9" width="1.1" height="1.1" fill="#7c7cc8" fill-opacity="0.6"/>
<rect x="449.8" y="121.8" width="1.1" height="1.1" fill="#7c7cc8" fill-opacity="0.6"/>
<rect x="452.6" y="125.3" width="1.1" height="1.1" fill="#7c7cc8" fill-opacity="0.6"/>
<rect x="483.5" y="122.8" width="1.1" height="1.1" fill="#7c7cc8" fill-opacity="0.6"/>
<rect x="442.4" y="123.8" width="1.1" height="1.1" fill="#7c7cc8" fill-opacity="0.6"/>
<rect x="461.3" y="123.3" width="1.1" height="1.1" fill="#7c7cc8" fill-opacity="0.6"/>
<rect x="471.0" y="124.0" width="1.1" height="1.1" fill="#7c7cc8" fill-opacity="0.6"/>
<rect x="444.0" y="123.8" width="1.1" height="1.1" fill="#7c7cc8" fill-opacity="0.6"/>
<rect x="444.7" y="122.5" width="1.1" height="1.1" fill="#7c7cc8" fill-opacity="0.6"/>
<rect x="471.4" y="121.9" width="1.1" height="1.1" fill="#7c7cc8" fill-opacity="0.6"/>
<rect x="458.7" y="122.4" width="1.1" height="1.1" fill="#7c7cc8" fill-opacity="0.6"/>
<rect x="457.3" y="123.1" width="1.1" height="1.1" fill="#7c7cc8" fill-opacity="0.6"/>
<rect x="476.9" y="123.3" width="1.1" height="1.1" fill="#7c7cc8" fill-opacity="0.6"/>
<rect x="446.3" y="122.7" width="1.1" height="1.1" fill="#7c7cc8" fill-opacity="0.6"/>
<rect x="480.1" y="121.8" width="1.1" height="1.1" fill="#7c7cc8" fill-opacity="0.6"/>
<rect x="450.9" y="121.8" width="1.1" height="1.1" fill="#7c7cc8" fill-opacity="0.6"/>
<rect x="461.2" y="123.0" width="1.1" height="1.1" fill="#7c7cc8" fill-opacity="0.6"/>
<rect x="458.5" y="124.9" width="1.1" height="1.1" fill="#7c7cc8" fill-opacity="0.6"/>
<rect x="472.5" y="123.9" width="1.1" height="1.1" fill="#7c7cc8" fill-opacity="0.6"/>
<rect x="467.3" y="123.0" width="1.1" height="1.1" fill="#7c7cc8" fill-opacity="0.6"/>
<rect x="477.0" y="124.0" width="1.1" height="1.1" fill="#7c7cc8" fill-opacity="0.6"/>
<rect x="458.5" y="122.5" width="1.1" height="1.1" fill="#7c7cc8" fill-opacity="0.6"/>
<rect x="445.2" y="123.3" width="1.1" height="1.1" fill="#7c7cc8" fill-opacity="0.6"/>
<rect x="444.5" y="122.8" width="1.1" height="1.1" fill="#7c7cc8" fill-opacity="0.6"/>
<rect x="468.1" y="121.5" width="1.1" height="1.1" fill="#7c7cc8" fill-opacity="0.6"/>
<rect x="455.1" y="123.2" width="1.1" height="1.1" fill="#7c7cc8" fill-opacity="0.6"/>
<rect x="478.4" y="123.7" width="1.1" height="1.1" fill="#7c7cc8" fill-opacity="0.6"/>
<rect x="472.9" y="123.4" width="1.1" height="1.1" fill="#7c7cc8" fill-opacity="0.6"/>
<rect x="444.5" y="122.5" width="1.1" height="1.1" fill="#7c7cc8" fill-opacity="0.6"/>
<rect x="474.5" y="124.6" width="1.1" height="1.1" fill="#7c7cc8" fill-opacity="0.6"/>
<rect x="454.3" y="123.6" width="1.1" height="1.1" fill="#7c7cc8" fill-opacity="0.6"/>
<rect x="476.0" y="123.8" width="1.1" height="1.1" fill="#7c7cc8" fill-opacity="0.6"/>
<rect x="458.4" y="124.2" width="1.1" height="1.1" fill="#7c7cc8" fill-opacity="0.6"/>
<rect x="468.3" y="124.1" width="1.1" height="1.1" fill="#7c7cc8" fill-opacity="0.6"/>
<rect x="485.5" y="125.1" width="1.1" height="1.1" fill="#7c7cc8" fill-opacity="0.6"/>
<rect x="461.9" y="122.2" width="1.1" height="1.1" fill="#7c7cc8" fill-opacity="0.6"/>
<rect x="479.8" y="122.8" width="1.1" height="1.1" fill="#7c7cc8" fill-opacity="0.6"/>
<rect x="460.0" y="123.9" width="1.1" height="1.1" fill="#7c7cc8" fill-opacity="0.6"/>
<rect x="486.2" y="123.6" width="1.1" height="1.1" fill="#7c7cc8" fill-opacity="0.6"/>
<rect x="458.2" y="122.6" width="1.1" height="1.1" fill="#7c7cc8" fill-opacity="0.6"/>
<rect x="458.4" y="122.4" width="1.1" height="1.1" fill="#7c7cc8" fill-opacity="0.6"/>
<rect x="459.4" y="123.8" width="1.1" height="1.1" fill="#7c7cc8" fill-opacity="0.6"/>
<rect x="450.0" y="121.4" width="1.1" height="1.1" fill="#7c7cc8" fill-opacity="0.6"/>
<rect x="466.9" y="122.4" width="1.1" height="1.1" fill="#7c7cc8" fill-opacity="0.6"/>
<rect x="481.4" y="122.5" width="1.1" height="1.1" fill="#7c7cc8" fill-opacity="0.6"/>
<rect x="477.6" y="122.8" width="1.1" height="1.1" fill="#7c7cc8" fill-opacity="0.6"/>
<rect x="483.6" y="123.0" width="1.1" height="1.1" fill="#7c7cc8" fill-opacity="0.6"/>
<rect x="465.7" y="123.3" width="1.1" height="1.1" fill="#7c7cc8" fill-opacity="0.6"/>
<rect x="467.1" y="120.7" width="1.1" height="1.1" fill="#7c7cc8" fill-opacity="0.6"/>
<rect x="472.4" y="122.0" width="1.1" height="1.1" fill="#7c7cc8" fill-opacity="0.6"/>
<rect x="479.9" y="124.2" width="1.1" height="1.1" fill="#7c7cc8" fill-opacity="0.6"/>
<rect x="479.1" y="123.5" width="1.1" height="1.1" fill="#7c7cc8" fill-opacity="0.6"/>
<rect x="444.6" y="124.5" width="1.1" height="1.1" fill="#7c7cc8" fill-opacity="0.6"/>
<rect x="484.5" y="123.9" width="1.1" height="1.1" fill="#7c7cc8" fill-opacity="0.6"/>
<rect x="444.6" y="122.7" width="1.1" height="1.1" fill="#7c7cc8" fill-opacity="0.6"/>
<rect x="477.0" y="122.6" width="1.1" height="1.1" fill="#7c7cc8" fill-opacity="0.6"/>
<rect x="472.3" y="123.1" width="1.1" height="1.1" fill="#7c7cc8" fill-opacity="0.6"/>
<rect x="478.0" y="123.8" width="1.1" height="1.1" fill="#7c7cc8" fill-opacity="0.6"/>
<rect x="466.0" y="123.1" width="1.1" height="1.1" fill="#7c7cc8" fill-opacity="0.6"/>
<rect x="457.0" y="122.1" width="1.1" height="1.1" fill="#7c7cc8" fill-opacity="0.6"/>
<rect x="487.9" y="122.5" width="1.1" height="1.1" fill="#7c7cc8" fill-opacity="0.6"/>
<rect x="466.8" y="122.0" width="1.1" height="1.1" fill="#7c7cc8" fill-opacity="0.6"/>
<rect x="475.8" y="122.5" width="1.1" height="1.1" fill="#7c7cc8" fill-opacity="0.6"/>
<rect x="460.6" y="120.9" width="1.1" height="1.1" fill="#7c7cc8" fill-opacity="0.6"/>
<rect x="480.9" y="122.1" width="1.1" height="1.1" fill="#7c7cc8" fill-opacity="0.6"/>
<rect x="479.9" y="121.4" width="1.1" height="1.1" fill="#7c7cc8" fill-opacity="0.6"/>
<rect x="481.3" y="125.0" width="1.1" height="1.1" fill="#7c7cc8" fill-opacity="0.6"/>
<rect x="471.8" y="121.4" width="1.1" height="1.1" fill="#7c7cc8" fill-opacity="0.6"/>
<rect x="466.1" y="122.6" width="1.1" height="1.1" fill="#7c7cc8" fill-opacity="0.6"/>
<rect x="461.1" y="121.3" width="1.1" height="1.1" fill="#7c7cc8" fill-opacity="0.6"/>
<rect x="461.1" y="124.0" width="1.1" height="1.1" fill="#7c7cc8" fill-opacity="0.6"/>
<rect x="489.0" y="124.4" width="1.1" height="1.1" fill="#7c7cc8" fill-opacity="0.6"/>
<rect x="458.9" y="123.4" width="1.1" height="1.1" fill="#7c7cc8" fill-opacity="0.6"/>
<rect x="461.3" y="123.6" width="1.1" height="1.1" fill="#7c7cc8" fill-opacity="0.6"/>
<rect x="454.8" y="123.4" width="1.1" height="1.1" fill="#7c7cc8" fill-opacity="0.6"/>
<rect x="455.6" y="123.0" width="1.1" height="1.1" fill="#7c7cc8" fill-opacity="0.6"/>
<rect x="446.1" y="122.0" width="1.1" height="1.1" fill="#7c7cc8" fill-opacity="0.6"/>
<rect x="449.2" y="121.7" width="1.1" height="1.1" fill="#7c7cc8" fill-opacity="0.6"/>
<rect x="443.5" y="121.8" width="1.1" height="1.1" fill="#7c7cc8" fill-opacity="0.6"/>
<rect x="485.0" y="123.4" width="1.1" height="1.1" fill="#7c7cc8" fill-opacity="0.6"/>
<rect x="442.2" y="123.5" width="1.1" height="1.1" fill="#7c7cc8" fill-opacity="0.6"/>
<rect x="451.1" y="123.5" width="1.1" height="1.1" fill="#7c7cc8" fill-opacity="0.6"/>
<rect x="452.0" y="122.8" width="1.1" height="1.1" fill="#7c7cc8" fill-opacity="0.6"/>
<rect x="451.4" y="121.7" width="1.1" height="1.1" fill="#7c7cc8" fill-opacity="0.6"/>
<rect x="449.5" y="122.9" width="1.1" height="1.1" fill="#7c7cc8" fill-opacity="0.6"/>
<rect x="477.6" y="123.7" width="1.1" height="1.1" fill="#7c7cc8" fill-opacity="0.6"/>
<rect x="455.7" y="121.3" width="1.1" height="1.1" fill="#7c7cc8" fill-opacity="0.6"/>
<rect x="463.9" y="122.5" width="1.1" height="1.1" fill="#7c7cc8" fill-opacity="0.6"/>
<rect x="453.2" y="124.7" width="1.1" height="1.1" fill="#7c7cc8" fill-opacity="0.6"/>
<rect x="457.2" y="121.6" width="1.1" height="1.1" fill="#7c7cc8" fill-opacity="0.6"/>
<rect x="467.3" y="124.2" width="1.1" height="1.1" fill="#7c7cc8" fill-opacity="0.6"/>
<rect x="451.3" y="122.7" width="1.1" height="1.1" fill="#7c7cc8" fill-opacity="0.6"/>
<rect x="442.9" y="124.8" width="1.1" height="1.1" fill="#7c7cc8" fill-opacity="0.6"/>
<rect x="459.3" y="122.5" width="1.1" height="1.1" fill="#7c7cc8" fill-opacity="0.6"/>
<rect x="466.3" y="122.3" width="1.1" height="1.1" fill="#7c7cc8" fill-opacity="0.6"/>
<rect x="489.0" y="123.0" width="1.1" height="1.1" fill="#7c7cc8" fill-opacity="0.6"/>
<rect x="472.7" y="123.1" width="1.1" height="1.1" fill="#7c7cc8" fill-opacity="0.6"/>
<rect x="463.6" y="123.2" width="1.1" height="1.1" fill="#7c7cc8" fill-opacity="0.6"/>
<rect x="458.7" y="123.5" width="1.1" height="1.1" fill="#7c7cc8" fill-opacity="0.6"/>
<rect x="470.1" y="121.5" width="1.1" height="1.1" fill="#7c7cc8" fill-opacity="0.6"/>
<rect x="448.2" y="123.5" width="1.1" height="1.1" fill="#7c7cc8" fill-opacity="0.6"/>
<rect x="453.2" y="123.8" width="1.1" height="1.1" fill="#7c7cc8" fill-opacity="0.6"/>
<rect x="483.0" y="121.6" width="1.1" height="1.1" fill="#7c7cc8" fill-opacity="0.6"/>
<rect x="489.1" y="122.9" width="1.1" height="1.1" fill="#7c7cc8" fill-opacity="0.6"/>
<rect x="453.5" y="122.5" width="1.1" height="1.1" fill="#7c7cc8" fill-opacity="0.6"/>
<rect x="478.2" y="122.9" width="1.1" height="1.1" fill="#7c7cc8" fill-opacity="0.6"/>
<rect x="440.5" y="123.9" width="1.1" height="1.1" fill="#7c7cc8" fill-opacity="0.6"/>
<rect x="480.7" y="121.3" width="1.1" height="1.1" fill="#7c7cc8" fill-opacity="0.6"/>
<rect x="444.5" y="122.9" width="1.1" height="1.1" fill="#7c7cc8" fill-opacity="0.6"/>
<rect x="445.2" y="124.6" width="1.1" height="1.1" fill="#7c7cc8" fill-opacity="0.6"/>
<rect x="464.0" y="120.6" width="1.1" height="1.1" fill="#7c7cc8" fill-opacity="0.6"/>
<rect x="469.2" y="123.5" width="1.1" height="1.1" fill="#7c7cc8" fill-opacity="0.6"/>
<rect x="482.5" y="122.5" width="1.1" height="1.1" fill="#7c7cc8" fill-opacity="0.6"/>
<rect x="460.9" y="124.7" width="1.1" height="1.1" fill="#7c7cc8" fill-opacity="0.6"/>
<rect x="485.4" y="124.6" width="1.1" height="1.1" fill="#7c7cc8" fill-opacity="0.6"/>
<rect x="450.7" y="124.1" width="1.1" height="1.1" fill="#7c7cc8" fill-opacity="0.6"/>
<rect x="467.1" y="122.5" width="1.1" height="1.1" fill="#7c7cc8" fill-opacity="0.6"/>
<rect x="481.2" y="123.0" width="1.1" height="1.1" fill="#7c7cc8" fill-opacity="0.6"/>
<rect x="455.7" y="122.9" width="1.1" height="1.1" fill="#7c7cc8" fill-opacity="0.6"/>
<rect x="455.4" y="123.4" width="1.1" height="1.1" fill="#7c7cc8" fill-opacity="0.6"/>
<rect x="463.3" y="122.8" width="1.1" height="1.1" fill="#7c7cc8" fill-opacity="0.6"/>
<rect x="474.1" y="122.1" width="1.1" height="1.1" fill="#7c7cc8" fill-opacity="0.6"/>
<rect x="445.6" y="122.2" width="1.1" height="1.1" fill="#7c7cc8" fill-opacity="0.6"/>
<rect x="487.8" y="123.7" width="1.1" height="1.1" fill="#7c7cc8" fill-opacity="0.6"/>
<rect x="481.1" y="123.0" width="1.1" height="1.1" fill="#7c7cc8" fill-opacity="0.6"/>
<rect x="458.9" y="122.9" width="1.1" height="1.1" fill="#7c7cc8" fill-opacity="0.6"/>
<rect x="475.2" y="123.2" width="1.1" height="1.1" fill="#7c7cc8" fill-opacity="0.6"/>
<rect x="462.9" y="124.3" width="1.1" height="1.1" fill="#7c7cc8" fill-opacity="0.6"/>
<rect x="441.0" y="124.8" width="1.1" height="1.1" fill="#7c7cc8" fill-opacity="0.6"/>
<rect x="450.6" y="123.0" width="1.1" height="1.1" fill="#7c7cc8" fill-opacity="0.6"/>
<rect x="470.6" y="122.8" width="1.1" height="1.1" fill="#7c7cc8" fill-opacity="0.6"/>
<rect x="466.9" y="124.0" width="1.1" height="1.1" fill="#7c7cc8" fill-opacity="0.6"/>
<rect x="455.1" y="122.5" width="1.1" height="1.1" fill="#7c7cc8" fill-opacity="0.6"/>
<rect x="473.1" y="123.9" width="1.1" height="1.1" fill="#7c7cc8" fill-opacity="0.6"/>
<rect x="453.0" y="123.6" width="1.1" height="1.1" fill="#7c7cc8" fill-opacity="0.6"/>
<rect x="456.6" y="124.6" width="1.1" height="1.1" fill="#7c7cc8" fill-opacity="0.6"/>
<rect x="486.8" y="121.6" width="1.1" height="1.1" fill="#7c7cc8" fill-opacity="0.6"/>
<rect x="456.7" y="122.4" width="1.1" height="1.1" fill="#7c7cc8" fill-opacity="0.6"/>
<rect x="481.0" y="123.5" width="1.1" height="1.1" fill="#7c7cc8" fill-opacity="0.6"/>
<rect x="445.1" y="123.4" width="1.1" height="1.1" fill="#7c7cc8" fill-opacity="0.6"/>
<rect x="473.7" y="122.9" width="1.1" height="1.1" fill="#7c7cc8" fill-opacity="0.6"/>
<rect x="460.2" y="122.4" width="1.1" height="1.1" fill="#7c7cc8" fill-opacity="0.6"/>
<rect x="481.5" y="122.7" width="1.1" height="1.1" fill="#7c7cc8" fill-opacity="0.6"/>
<rect x="451.6" y="122.8" width="1.1" height="1.1" fill="#7c7cc8" fill-opacity="0.6"/>
<rect x="448.1" y="123.8" width="1.1" height="1.1" fill="#7c7cc8" fill-opacity="0.6"/>
<rect x="444.0" y="123.8" width="1.1" height="1.1" fill="#7c7cc8" fill-opacity="0.6"/>
<rect x="485.6" y="122.0" width="1.1" height="1.1" fill="#7c7cc8" fill-opacity="0.6"/>
<rect x="472.2" y="123.6" width="1.1" height="1.1" fill="#7c7cc8" fill-opacity="0.6"/>
<rect x="478.0" y="123.5" width="1.1" height="1.1" fill="#7c7cc8" fill-opacity="0.6"/>
<rect x="456.7" y="122.2" width="1.1" height="1.1" fill="#7c7cc8" fill-opacity="0.6"/>
<rect x="460.6" y="124.1" width="1.1" height="1.1" fill="#7c7cc8" fill-opacity="0.6"/>
<rect x="474.7" y="123.1" width="1.1" height="1.1" fill="#7c7cc8" fill-opacity="0.6"/>
<rect x="488.6" y="123.4" width="1.1" height="1.1" fill="#7c7cc8" fill-opacity="0.6"/>
<rect x="470.3" y="121.6" width="1.1" height="1.1" fill="#7c7cc8" fill-opacity="0.6"/>
<rect x="441.4" y="122.6" width="1.1" height="1.1" fill="#7c7cc8" fill-opacity="0.6"/>
<rect x="472.3" y="123.8" width="1.1" height="1.1" fill="#7c7cc8" fill-opacity="0.6"/>
<rect x="445.7" y="122.2" width="1.1" height="1.1" fill="#7c7cc8" fill-opacity="0.6"/>
<rect x="479.1" y="123.9" width="1.1" height="1.1" fill="#7c7cc8" fill-opacity="0.6"/>
<rect x="480.9" y="122.6" width="1.1" height="1.1" fill="#7c7cc8" fill-opacity="0.6"/>
<rect x="478.0" y="122.7" width="1.1" height="1.1" fill="#7c7cc8" fill-opacity="0.6"/>
<rect x="484.7" y="122.2" width="1.1" height="1.1" fill="#7c7cc8" fill-opacity="0.6"/>
<rect x="465.0" y="122.8" width="1.1" height="1.1" fill="#7c7cc8" fill-opacity="0.6"/>
<rect x="447.4" y="122.4" width="1.1" height="1.1" fill="#7c7cc8" fill-opacity="0.6"/>
<rect x="465.7" y="120.2" width="1.1" height="1.1" fill="#7c7cc8" fill-opacity="0.6"/>
<rect x="475.5" y="123.4" width="1.1" height="1.1" fill="#7c7cc8" fill-opacity="0.6"/>
<rect x="486.7" y="122.5" width="1.1" height="1.1" fill="#7c7cc8" fill-opacity="0.6"/>
<rect x="471.2" y="123.2" width="1.1" height="1.1" fill="#7c7cc8" fill-opacity="0.6"/>
<rect x="452.4" y="123.4" width="1.1" height="1.1" fill="#7c7cc8" fill-opacity="0.6"/>
<rect x="468.7" y="122.8" width="1.1" height="1.1" fill="#7c7cc8" fill-opacity="0.6"/>
<rect x="486.0" y="122.2" width="1.1" height="1.1" fill="#7c7cc8" fill-opacity="0.6"/>
<rect x="458.1" y="122.5" width="1.1" height="1.1" fill="#7c7cc8" fill-opacity="0.6"/>
<rect x="488.2" y="123.2" width="1.1" height="1.1" fill="#7c7cc8" fill-opacity="0.6"/>
<rect x="447.1" y="124.1" width="1.1" height="1.1" fill="#7c7cc8" fill-opacity="0.6"/>
<rect x="467.9" y="122.3" width="1.1" height="1.1" fill="#7c7cc8" fill-opacity="0.6"/>
<rect x="467.9" y="122.9" width="1.1" height="1.1" fill="#7c7cc8" fill-opacity="0.6"/>
<rect x="487.1" y="124.8" width="1.0" height="1.0" fill="#4a4aa4" fill-opacity="0.55"/>
<rect x="479.3" y="122.8" width="1.0" height="1.0" fill="#4a4aa4" fill-opacity="0.55"/>
<rect x="479.6" y="122.9" width="1.0" height="1.0" fill="#4a4aa4" fill-opacity="0.55"/>
<rect x="455.5" y="123.6" width="1.0" height="1.0" fill="#4a4aa4" fill-opacity="0.55"/>
<rect x="468.3" y="122.7" width="1.0" height="1.0" fill="#4a4aa4" fill-opacity="0.55"/>
<rect x="479.9" y="123.5" width="1.0" height="1.0" fill="#4a4aa4" fill-opacity="0.55"/>
<rect x="445.9" y="124.0" width="1.0" height="1.0" fill="#4a4aa4" fill-opacity="0.55"/>
<rect x="443.9" y="124.1" width="1.0" height="1.0" fill="#4a4aa4" fill-opacity="0.55"/>
<rect x="484.8" y="125.2" width="1.0" height="1.0" fill="#4a4aa4" fill-opacity="0.55"/>
<rect x="472.1" y="122.7" width="1.0" height="1.0" fill="#4a4aa4" fill-opacity="0.55"/>
<rect x="475.7" y="124.2" width="1.0" height="1.0" fill="#4a4aa4" fill-opacity="0.55"/>
<rect x="459.7" y="121.9" width="1.0" height="1.0" fill="#4a4aa4" fill-opacity="0.55"/>
<rect x="443.2" y="122.3" width="1.0" height="1.0" fill="#4a4aa4" fill-opacity="0.55"/>
<rect x="451.5" y="122.7" width="1.0" height="1.0" fill="#4a4aa4" fill-opacity="0.55"/>
<rect x="459.9" y="123.2" width="1.0" height="1.0" fill="#4a4aa4" fill-opacity="0.55"/>
<rect x="468.1" y="123.5" width="1.0" height="1.0" fill="#4a4aa4" fill-opacity="0.55"/>
<rect x="454.4" y="124.0" width="1.0" height="1.0" fill="#4a4aa4" fill-opacity="0.55"/>
<rect x="468.1" y="122.5" width="1.0" height="1.0" fill="#4a4aa4" fill-opacity="0.55"/>
<rect x="444.2" y="124.1" width="1.0" height="1.0" fill="#4a4aa4" fill-opacity="0.55"/>
<rect x="472.7" y="124.3" width="1.0" height="1.0" fill="#4a4aa4" fill-opacity="0.55"/>
<rect x="469.5" y="124.7" width="1.0" height="1.0" fill="#4a4aa4" fill-opacity="0.55"/>
<rect x="463.6" y="122.2" width="1.0" height="1.0" fill="#4a4aa4" fill-opacity="0.55"/>
<rect x="473.5" y="123.7" width="1.0" height="1.0" fill="#4a4aa4" fill-opacity="0.55"/>
<rect x="476.6" y="123.1" width="1.0" height="1.0" fill="#4a4aa4" fill-opacity="0.55"/>
<rect x="487.3" y="122.2" width="1.0" height="1.0" fill="#4a4aa4" fill-opacity="0.55"/>
<rect x="480.2" y="123.6" width="1.0" height="1.0" fill="#4a4aa4" fill-opacity="0.55"/>
<rect x="462.0" y="122.5" width="1.0" height="1.0" fill="#4a4aa4" fill-opacity="0.55"/>
<rect x="468.0" y="123.9" width="1.0" height="1.0" fill="#4a4aa4" fill-opacity="0.55"/>
<rect x="466.1" y="122.6" width="1.0" height="1.0" fill="#4a4aa4" fill-opacity="0.55"/>
<rect x="462.0" y="123.7" width="1.0" height="1.0" fill="#4a4aa4" fill-opacity="0.55"/>
<rect x="445.0" y="122.7" width="1.0" height="1.0" fill="#4a4aa4" fill-opacity="0.55"/>
<rect x="475.2" y="124.2" width="1.0" height="1.0" fill="#4a4aa4" fill-opacity="0.55"/>
<rect x="469.4" y="122.3" width="1.0" height="1.0" fill="#4a4aa4" fill-opacity="0.55"/>
<rect x="476.3" y="122.7" width="1.0" height="1.0" fill="#4a4aa4" fill-opacity="0.55"/>
<rect x="445.6" y="124.1" width="1.0" height="1.0" fill="#4a4aa4" fill-opacity="0.55"/>
<rect x="448.1" y="122.2" width="1.0" height="1.0" fill="#4a4aa4" fill-opacity="0.55"/>
<rect x="460.4" y="123.4" width="1.0" height="1.0" fill="#4a4aa4" fill-opacity="0.55"/>
<rect x="444.8" y="122.8" width="1.0" height="1.0" fill="#4a4aa4" fill-opacity="0.55"/>
<rect x="453.3" y="122.2" width="1.0" height="1.0" fill="#4a4aa4" fill-opacity="0.55"/>
<rect x="456.3" y="122.6" width="1.0" height="1.0" fill="#4a4aa4" fill-opacity="0.55"/>
<rect x="445.6" y="123.5" width="1.0" height="1.0" fill="#4a4aa4" fill-opacity="0.55"/>
<rect x="483.5" y="124.3" width="1.0" height="1.0" fill="#4a4aa4" fill-opacity="0.55"/>
<rect x="481.5" y="122.9" width="1.0" height="1.0" fill="#4a4aa4" fill-opacity="0.55"/>
<rect x="461.5" y="123.3" width="1.0" height="1.0" fill="#4a4aa4" fill-opacity="0.55"/>
<rect x="476.1" y="122.6" width="1.0" height="1.0" fill="#4a4aa4" fill-opacity="0.55"/>
<rect x="468.0" y="123.4" width="1.0" height="1.0" fill="#4a4aa4" fill-opacity="0.55"/>
<rect x="478.2" y="122.9" width="1.0" height="1.0" fill="#4a4aa4" fill-opacity="0.55"/>
<rect x="448.1" y="121.2" width="1.0" height="1.0" fill="#4a4aa4" fill-opacity="0.55"/>
<rect x="442.5" y="122.6" width="1.0" height="1.0" fill="#4a4aa4" fill-opacity="0.55"/>
<rect x="453.5" y="122.9" width="1.0" height="1.0" fill="#4a4aa4" fill-opacity="0.55"/>
<rect x="445.3" y="123.8" width="1.0" height="1.0" fill="#4a4aa4" fill-opacity="0.55"/>
<rect x="482.8" y="123.4" width="1.0" height="1.0" fill="#4a4aa4" fill-opacity="0.55"/>
<rect x="458.5" y="122.4" width="1.0" height="1.0" fill="#4a4aa4" fill-opacity="0.55"/>
<rect x="468.8" y="123.3" width="1.0" height="1.0" fill="#4a4aa4" fill-opacity="0.55"/>
<rect x="482.9" y="123.2" width="1.0" height="1.0" fill="#4a4aa4" fill-opacity="0.55"/>
<rect x="456.4" y="121.2" width="1.0" height="1.0" fill="#4a4aa4" fill-opacity="0.55"/>
<rect x="486.5" y="123.1" width="1.0" height="1.0" fill="#4a4aa4" fill-opacity="0.55"/>
<rect x="463.8" y="123.3" width="1.0" height="1.0" fill="#4a4aa4" fill-opacity="0.55"/>
<rect x="484.0" y="123.7" width="1.0" height="1.0" fill="#4a4aa4" fill-opacity="0.55"/>
<rect x="482.9" y="123.6" width="1.0" height="1.0" fill="#4a4aa4" fill-opacity="0.55"/>
<rect x="458.4" y="124.7" width="1.0" height="1.0" fill="#5a8a6a" fill-opacity="0.45"/>
<rect x="463.3" y="124.0" width="1.0" height="1.0" fill="#5a8a6a" fill-opacity="0.45"/>
<rect x="485.3" y="124.7" width="1.0" height="1.0" fill="#5a8a6a" fill-opacity="0.45"/>
<rect x="452.0" y="122.7" width="1.0" height="1.0" fill="#5a8a6a" fill-opacity="0.45"/>
<rect x="480.5" y="122.7" width="1.0" height="1.0" fill="#5a8a6a" fill-opacity="0.45"/>
<rect x="445.6" y="124.2" width="1.0" height="1.0" fill="#5a8a6a" fill-opacity="0.45"/>
<rect x="456.6" y="124.0" width="1.0" height="1.0" fill="#5a8a6a" fill-opacity="0.45"/>
<rect x="481.3" y="124.1" width="1.0" height="1.0" fill="#5a8a6a" fill-opacity="0.45"/>
<rect x="449.2" y="122.1" width="1.0" height="1.0" fill="#5a8a6a" fill-opacity="0.45"/>
<rect x="472.7" y="124.0" width="1.0" height="1.0" fill="#5a8a6a" fill-opacity="0.45"/>
<rect x="446.8" y="122.7" width="1.0" height="1.0" fill="#5a8a6a" fill-opacity="0.45"/>
<rect x="452.9" y="122.6" width="1.0" height="1.0" fill="#5a8a6a" fill-opacity="0.45"/>
<rect x="451.8" y="124.4" width="1.0" height="1.0" fill="#5a8a6a" fill-opacity="0.45"/>
<rect x="451.1" y="123.2" width="1.0" height="1.0" fill="#5a8a6a" fill-opacity="0.45"/>
<rect x="476.7" y="124.4" width="1.0" height="1.0" fill="#5a8a6a" fill-opacity="0.45"/>
<rect x="459.1" y="122.1" width="1.0" height="1.0" fill="#5a8a6a" fill-opacity="0.45"/>
<rect x="468.3" y="121.5" width="1.0" height="1.0" fill="#5a8a6a" fill-opacity="0.45"/>
<rect x="453.1" y="122.5" width="1.0" height="1.0" fill="#5a8a6a" fill-opacity="0.45"/>
<rect x="471.5" y="125.1" width="1.0" height="1.0" fill="#5a8a6a" fill-opacity="0.45"/>
<rect x="455.1" y="122.9" width="1.0" height="1.0" fill="#5a8a6a" fill-opacity="0.45"/>
<rect x="484.8" y="122.8" width="1.0" height="1.0" fill="#5a8a6a" fill-opacity="0.45"/>
<rect x="462.0" y="122.0" width="1.0" height="1.0" fill="#5a8a6a" fill-opacity="0.45"/>
<rect x="445.4" y="122.9" width="1.0" height="1.0" fill="#5a8a6a" fill-opacity="0.45"/>
<rect x="468.7" y="123.0" width="1.0" height="1.0" fill="#5a8a6a" fill-opacity="0.45"/>
<rect x="477.2" y="123.8" width="1.0" height="1.0" fill="#5a8a6a" fill-opacity="0.45"/>
<rect x="447.2" y="122.8" width="1.0" height="1.0" fill="#5a8a6a" fill-opacity="0.45"/>
<rect x="453.8" y="124.6" width="1.0" height="1.0" fill="#5a8a6a" fill-opacity="0.45"/>
<rect x="455.2" y="122.5" width="1.0" height="1.0" fill="#5a8a6a" fill-opacity="0.45"/>
<rect x="481.2" y="122.9" width="1.0" height="1.0" fill="#5a8a6a" fill-opacity="0.45"/>
<rect x="485.0" y="124.1" width="1.0" height="1.0" fill="#5a8a6a" fill-opacity="0.45"/>
<rect x="493.6" y="119.8" width="0.9" height="0.9" fill="#b0b4e0" fill-opacity="0.55"/>
<rect x="467.2" y="114.8" width="0.9" height="0.9" fill="#b0b4e0" fill-opacity="0.55"/>
<rect x="452.5" y="118.1" width="0.9" height="0.9" fill="#b0b4e0" fill-opacity="0.55"/>
<rect x="479.6" y="117.7" width="0.9" height="0.9" fill="#b0b4e0" fill-opacity="0.55"/>
<rect x="486.9" y="116.7" width="0.9" height="0.9" fill="#b0b4e0" fill-opacity="0.55"/>
<rect x="495.9" y="114.1" width="0.9" height="0.9" fill="#b0b4e0" fill-opacity="0.55"/>
<rect x="500.4" y="120.4" width="0.9" height="0.9" fill="#b0b4e0" fill-opacity="0.55"/>
<rect x="488.8" y="106.5" width="0.9" height="0.9" fill="#b0b4e0" fill-opacity="0.55"/>
<rect x="452.1" y="119.3" width="0.9" height="0.9" fill="#b0b4e0" fill-opacity="0.55"/>
<rect x="495.7" y="117.0" width="0.9" height="0.9" fill="#b0b4e0" fill-opacity="0.55"/>
<rect x="456.5" y="114.1" width="0.9" height="0.9" fill="#b0b4e0" fill-opacity="0.55"/>
<rect x="471.3" y="119.6" width="0.9" height="0.9" fill="#b0b4e0" fill-opacity="0.55"/>
<rect x="496.5" y="110.7" width="0.9" height="0.9" fill="#b0b4e0" fill-opacity="0.55"/>
<rect x="456.5" y="116.9" width="0.9" height="0.9" fill="#b0b4e0" fill-opacity="0.55"/>
<rect x="481.3" y="120.9" width="0.9" height="0.9" fill="#b0b4e0" fill-opacity="0.55"/>
<rect x="475.5" y="113.3" width="0.9" height="0.9" fill="#b0b4e0" fill-opacity="0.55"/>
<rect x="491.0" y="119.4" width="0.9" height="0.9" fill="#b0b4e0" fill-opacity="0.55"/>
<rect x="480.8" y="118.5" width="0.9" height="0.9" fill="#b0b4e0" fill-opacity="0.55"/>
<rect x="450.5" y="118.4" width="0.9" height="0.9" fill="#b0b4e0" fill-opacity="0.55"/>
<rect x="440.8" y="114.7" width="0.9" height="0.9" fill="#b0b4e0" fill-opacity="0.55"/>
<rect x="471.4" y="121.0" width="0.9" height="0.9" fill="#b0b4e0" fill-opacity="0.55"/>
<rect x="458.5" y="120.5" width="0.9" height="0.9" fill="#b0b4e0" fill-opacity="0.55"/>
<rect x="504.9" y="118.9" width="0.9" height="0.9" fill="#b0b4e0" fill-opacity="0.55"/>
<rect x="480.5" y="110.9" width="0.9" height="0.9" fill="#b0b4e0" fill-opacity="0.55"/>
<rect x="456.7" y="118.3" width="0.9" height="0.9" fill="#b0b4e0" fill-opacity="0.55"/>
<rect x="450.1" y="120.5" width="0.9" height="0.9" fill="#b0b4e0" fill-opacity="0.55"/>
<rect x="462.2" y="119.5" width="0.9" height="0.9" fill="#b0b4e0" fill-opacity="0.55"/>
<rect x="484.3" y="116.5" width="0.9" height="0.9" fill="#b0b4e0" fill-opacity="0.55"/>
<rect x="481.9" y="120.4" width="0.9" height="0.9" fill="#b0b4e0" fill-opacity="0.55"/>
<rect x="445.9" y="119.6" width="0.9" height="0.9" fill="#b0b4e0" fill-opacity="0.55"/>
<rect x="457.9" y="117.8" width="0.9" height="0.9" fill="#b0b4e0" fill-opacity="0.55"/>
<rect x="451.1" y="117.0" width="0.9" height="0.9" fill="#b0b4e0" fill-opacity="0.55"/>
<rect x="496.2" y="110.6" width="0.9" height="0.9" fill="#b0b4e0" fill-opacity="0.55"/>
<rect x="444.0" y="116.3" width="0.9" height="0.9" fill="#b0b4e0" fill-opacity="0.55"/>
<rect x="455.1" y="118.1" width="0.9" height="0.9" fill="#b0b4e0" fill-opacity="0.55"/>
<rect x="509.4" y="114.4" width="0.9" height="0.9" fill="#b0b4e0" fill-opacity="0.55"/>
<rect x="494.4" y="119.3" width="0.9" height="0.9" fill="#b0b4e0" fill-opacity="0.55"/>
<rect x="510.6" y="117.1" width="0.9" height="0.9" fill="#b0b4e0" fill-opacity="0.55"/>
<rect x="493.2" y="115.9" width="0.9" height="0.9" fill="#b0b4e0" fill-opacity="0.55"/>
<rect x="442.4" y="120.4" width="0.9" height="0.9" fill="#b0b4e0" fill-opacity="0.55"/>
<rect x="449.7" y="108.6" width="0.9" height="0.9" fill="#b0b4e0" fill-opacity="0.55"/>
<rect x="467.8" y="119.3" width="0.9" height="0.9" fill="#b0b4e0" fill-opacity="0.55"/>
<rect x="445.1" y="115.1" width="0.9" height="0.9" fill="#b0b4e0" fill-opacity="0.55"/>
<rect x="442.0" y="111.0" width="0.9" height="0.9" fill="#b0b4e0" fill-opacity="0.55"/>
<rect x="492.4" y="120.9" width="0.9" height="0.9" fill="#b0b4e0" fill-opacity="0.55"/>
<rect x="490.5" y="123.0" width="1.1" height="1.1" fill="#2c5848" fill-opacity="0.75"/>
<rect x="490.7" y="124.6" width="1.1" height="1.1" fill="#2c5848" fill-opacity="0.75"/>
<rect x="494.5" y="124.1" width="1.1" height="1.1" fill="#2c5848" fill-opacity="0.75"/>
<rect x="492.3" y="122.6" width="1.1" height="1.1" fill="#2c5848" fill-opacity="0.75"/>
<rect x="503.6" y="122.8" width="1.1" height="1.1" fill="#2c5848" fill-opacity="0.75"/>
<rect x="493.5" y="122.8" width="1.1" height="1.1" fill="#2c5848" fill-opacity="0.75"/>
<rect x="497.8" y="124.1" width="1.1" height="1.1" fill="#2c5848" fill-opacity="0.75"/>
<rect x="498.6" y="123.4" width="1.1" height="1.1" fill="#2c5848" fill-opacity="0.75"/>
<rect x="501.6" y="120.9" width="1.1" height="1.1" fill="#2c5848" fill-opacity="0.75"/>
<rect x="494.5" y="121.7" width="1.1" height="1.1" fill="#2c5848" fill-opacity="0.75"/>
<rect x="493.3" y="123.7" width="1.1" height="1.1" fill="#2c5848" fill-opacity="0.75"/>
<rect x="500.1" y="122.1" width="1.1" height="1.1" fill="#2c5848" fill-opacity="0.75"/>
<rect x="490.2" y="122.6" width="1.1" height="1.1" fill="#2c5848" fill-opacity="0.75"/>
<rect x="496.1" y="123.7" width="1.1" height="1.1" fill="#2c5848" fill-opacity="0.75"/>
<rect x="489.3" y="123.3" width="1.1" height="1.1" fill="#2c5848" fill-opacity="0.75"/>
<rect x="494.6" y="123.8" width="1.1" height="1.1" fill="#2c5848" fill-opacity="0.75"/>
<rect x="491.8" y="119.5" width="1.1" height="1.1" fill="#2c5848" fill-opacity="0.75"/>
<rect x="498.3" y="124.3" width="1.1" height="1.1" fill="#2c5848" fill-opacity="0.75"/>
<rect x="501.5" y="123.4" width="1.1" height="1.1" fill="#2c5848" fill-opacity="0.75"/>
<rect x="487.7" y="124.2" width="1.1" height="1.1" fill="#2c5848" fill-opacity="0.75"/>
<rect x="498.5" y="122.4" width="1.1" height="1.1" fill="#2c5848" fill-opacity="0.75"/>
<rect x="486.8" y="123.8" width="1.1" height="1.1" fill="#2c5848" fill-opacity="0.75"/>
<rect x="489.6" y="123.0" width="1.1" height="1.1" fill="#2c5848" fill-opacity="0.75"/>
<rect x="502.6" y="124.2" width="1.1" height="1.1" fill="#2c5848" fill-opacity="0.75"/>
<rect x="499.0" y="122.9" width="1.1" height="1.1" fill="#2c5848" fill-opacity="0.75"/>
<rect x="489.1" y="124.2" width="1.1" height="1.1" fill="#2c5848" fill-opacity="0.75"/>
<rect x="502.8" y="121.7" width="1.1" height="1.1" fill="#2c5848" fill-opacity="0.75"/>
<rect x="499.1" y="124.6" width="1.1" height="1.1" fill="#2c5848" fill-opacity="0.75"/>
<rect x="502.3" y="124.1" width="1.1" height="1.1" fill="#2c5848" fill-opacity="0.75"/>
<rect x="493.2" y="123.2" width="1.1" height="1.1" fill="#2c5848" fill-opacity="0.75"/>
<rect x="487.9" y="123.8" width="1.1" height="1.1" fill="#2c5848" fill-opacity="0.75"/>
<rect x="499.9" y="122.3" width="1.1" height="1.1" fill="#2c5848" fill-opacity="0.75"/>
<rect x="495.5" y="124.2" width="1.1" height="1.1" fill="#2c5848" fill-opacity="0.75"/>
<rect x="490.6" y="123.5" width="1.1" height="1.1" fill="#2c5848" fill-opacity="0.75"/>
<rect x="487.2" y="124.0" width="1.1" height="1.1" fill="#2c5848" fill-opacity="0.75"/>
<rect x="487.0" y="124.4" width="1.1" height="1.1" fill="#2c5848" fill-opacity="0.75"/>
<rect x="491.9" y="121.7" width="1.1" height="1.1" fill="#2c5848" fill-opacity="0.75"/>
<rect x="488.8" y="123.7" width="1.1" height="1.1" fill="#2c5848" fill-opacity="0.75"/>
<rect x="498.8" y="122.9" width="1.1" height="1.1" fill="#2c5848" fill-opacity="0.75"/>
<rect x="498.1" y="125.0" width="1.1" height="1.1" fill="#2c5848" fill-opacity="0.75"/>
<rect x="489.0" y="123.3" width="1.1" height="1.1" fill="#2c5848" fill-opacity="0.75"/>
<rect x="498.9" y="124.0" width="1.1" height="1.1" fill="#2c5848" fill-opacity="0.75"/>
<rect x="493.5" y="121.2" width="1.1" height="1.1" fill="#2c5848" fill-opacity="0.75"/>
<rect x="490.4" y="124.6" width="1.1" height="1.1" fill="#2c5848" fill-opacity="0.75"/>
<rect x="491.6" y="122.6" width="1.1" height="1.1" fill="#2c5848" fill-opacity="0.75"/>
<rect x="487.2" y="123.7" width="1.1" height="1.1" fill="#2c5848" fill-opacity="0.75"/>
<rect x="486.9" y="122.0" width="1.1" height="1.1" fill="#2c5848" fill-opacity="0.75"/>
<rect x="500.6" y="121.9" width="1.1" height="1.1" fill="#2c5848" fill-opacity="0.75"/>
<rect x="503.5" y="122.5" width="1.1" height="1.1" fill="#2c5848" fill-opacity="0.75"/>
<rect x="502.5" y="124.8" width="1.1" height="1.1" fill="#2c5848" fill-opacity="0.75"/>
<rect x="490.2" y="122.4" width="1.1" height="1.1" fill="#2c5848" fill-opacity="0.75"/>
<rect x="503.2" y="121.4" width="1.1" height="1.1" fill="#2c5848" fill-opacity="0.75"/>
<rect x="501.6" y="123.2" width="1.1" height="1.1" fill="#2c5848" fill-opacity="0.75"/>
<rect x="488.0" y="124.7" width="1.1" height="1.1" fill="#2c5848" fill-opacity="0.75"/>
<rect x="493.9" y="122.7" width="1.1" height="1.1" fill="#2c5848" fill-opacity="0.75"/>
<rect x="493.2" y="123.3" width="1.1" height="1.1" fill="#2c5848" fill-opacity="0.75"/>
<rect x="492.2" y="122.1" width="1.1" height="1.1" fill="#2c5848" fill-opacity="0.75"/>
<rect x="489.2" y="123.1" width="1.1" height="1.1" fill="#2c5848" fill-opacity="0.75"/>
<rect x="493.5" y="122.3" width="1.1" height="1.1" fill="#2c5848" fill-opacity="0.75"/>
<rect x="498.1" y="123.2" width="1.1" height="1.1" fill="#2c5848" fill-opacity="0.75"/>
<rect x="490.6" y="124.0" width="1.1" height="1.1" fill="#2c5848" fill-opacity="0.75"/>
<rect x="493.8" y="123.7" width="1.1" height="1.1" fill="#2c5848" fill-opacity="0.75"/>
<rect x="489.1" y="121.4" width="1.1" height="1.1" fill="#2c5848" fill-opacity="0.75"/>
<rect x="496.1" y="122.1" width="1.1" height="1.1" fill="#2c5848" fill-opacity="0.75"/>
<rect x="498.7" y="124.2" width="1.1" height="1.1" fill="#2c5848" fill-opacity="0.75"/>
<rect x="492.8" y="123.2" width="1.1" height="1.1" fill="#2c5848" fill-opacity="0.75"/>
<rect x="487.6" y="122.7" width="1.1" height="1.1" fill="#2c5848" fill-opacity="0.75"/>
<rect x="495.1" y="123.3" width="1.1" height="1.1" fill="#2c5848" fill-opacity="0.75"/>
<rect x="496.7" y="122.0" width="1.1" height="1.1" fill="#2c5848" fill-opacity="0.75"/>
<rect x="490.9" y="123.3" width="1.1" height="1.1" fill="#2c5848" fill-opacity="0.75"/>
<rect x="486.9" y="121.6" width="1.1" height="1.1" fill="#2c5848" fill-opacity="0.75"/>
<rect x="496.4" y="125.1" width="1.1" height="1.1" fill="#2c5848" fill-opacity="0.75"/>
<rect x="491.0" y="122.7" width="1.1" height="1.1" fill="#2c5848" fill-opacity="0.75"/>
<rect x="494.7" y="122.4" width="1.1" height="1.1" fill="#2c5848" fill-opacity="0.75"/>
<rect x="497.2" y="124.1" width="1.1" height="1.1" fill="#2c5848" fill-opacity="0.75"/>
<rect x="496.5" y="122.7" width="1.1" height="1.1" fill="#2c5848" fill-opacity="0.75"/>
<rect x="502.9" y="123.3" width="1.1" height="1.1" fill="#2c5848" fill-opacity="0.75"/>
<rect x="497.3" y="121.4" width="1.1" height="1.1" fill="#2c5848" fill-opacity="0.75"/>
<rect x="493.6" y="122.2" width="1.1" height="1.1" fill="#2c5848" fill-opacity="0.75"/>
<rect x="501.0" y="123.5" width="1.1" height="1.1" fill="#2c5848" fill-opacity="0.75"/>
<rect x="501.8" y="121.1" width="1.1" height="1.1" fill="#2c5848" fill-opacity="0.75"/>
<rect x="487.1" y="124.8" width="1.1" height="1.1" fill="#2c5848" fill-opacity="0.75"/>
<rect x="488.8" y="122.0" width="1.1" height="1.1" fill="#2c5848" fill-opacity="0.75"/>
<rect x="492.8" y="123.0" width="1.1" height="1.1" fill="#2c5848" fill-opacity="0.75"/>
<rect x="503.5" y="123.5" width="1.1" height="1.1" fill="#2c5848" fill-opacity="0.75"/>
<rect x="490.4" y="123.7" width="1.1" height="1.1" fill="#2c5848" fill-opacity="0.75"/>
<rect x="498.4" y="123.1" width="1.1" height="1.1" fill="#2c5848" fill-opacity="0.75"/>
<rect x="496.0" y="123.1" width="1.1" height="1.1" fill="#2c5848" fill-opacity="0.75"/>
<rect x="493.3" y="123.1" width="1.1" height="1.1" fill="#2c5848" fill-opacity="0.75"/>
<rect x="497.8" y="124.4" width="1.1" height="1.1" fill="#2c5848" fill-opacity="0.75"/>
<rect x="496.0" y="122.0" width="1.1" height="1.1" fill="#2c5848" fill-opacity="0.75"/>
<rect x="501.0" y="122.0" width="1.1" height="1.1" fill="#2c5848" fill-opacity="0.75"/>
<rect x="503.4" y="122.5" width="1.1" height="1.1" fill="#2c5848" fill-opacity="0.75"/>
<rect x="502.0" y="124.0" width="1.1" height="1.1" fill="#2c5848" fill-opacity="0.75"/>
<rect x="491.9" y="122.7" width="1.1" height="1.1" fill="#2c5848" fill-opacity="0.75"/>
<rect x="498.5" y="121.2" width="1.1" height="1.1" fill="#2c5848" fill-opacity="0.75"/>
<rect x="503.3" y="123.4" width="1.1" height="1.1" fill="#2c5848" fill-opacity="0.75"/>
<rect x="497.3" y="122.4" width="1.1" height="1.1" fill="#2c5848" fill-opacity="0.75"/>
<rect x="495.0" y="122.0" width="1.1" height="1.1" fill="#2c5848" fill-opacity="0.75"/>
<rect x="491.4" y="122.6" width="1.1" height="1.1" fill="#2c5848" fill-opacity="0.75"/>
<rect x="499.6" y="122.2" width="1.1" height="1.1" fill="#2c5848" fill-opacity="0.75"/>
<rect x="490.8" y="122.9" width="1.1" height="1.1" fill="#2c5848" fill-opacity="0.75"/>
<rect x="492.1" y="123.7" width="1.1" height="1.1" fill="#2c5848" fill-opacity="0.75"/>
<rect x="488.7" y="124.3" width="1.1" height="1.1" fill="#2c5848" fill-opacity="0.75"/>
<rect x="487.6" y="123.6" width="1.1" height="1.1" fill="#2c5848" fill-opacity="0.75"/>
<rect x="498.8" y="123.3" width="1.1" height="1.1" fill="#2c5848" fill-opacity="0.75"/>
<rect x="488.4" y="121.1" width="1.1" height="1.1" fill="#2c5848" fill-opacity="0.75"/>
<rect x="494.9" y="123.7" width="1.1" height="1.1" fill="#2c5848" fill-opacity="0.75"/>
<rect x="489.3" y="124.7" width="1.1" height="1.1" fill="#2c5848" fill-opacity="0.75"/>
<rect x="487.4" y="121.2" width="1.1" height="1.1" fill="#2c5848" fill-opacity="0.75"/>
<rect x="491.6" y="120.8" width="1.0" height="1.0" fill="#383888" fill-opacity="0.65"/>
<rect x="493.8" y="123.0" width="1.0" height="1.0" fill="#383888" fill-opacity="0.65"/>
<rect x="499.0" y="123.1" width="1.0" height="1.0" fill="#383888" fill-opacity="0.65"/>
<rect x="492.7" y="125.2" width="1.0" height="1.0" fill="#383888" fill-opacity="0.65"/>
<rect x="492.8" y="123.2" width="1.0" height="1.0" fill="#383888" fill-opacity="0.65"/>
<rect x="500.8" y="120.6" width="1.0" height="1.0" fill="#383888" fill-opacity="0.65"/>
<rect x="496.6" y="121.3" width="1.0" height="1.0" fill="#383888" fill-opacity="0.65"/>
<rect x="497.5" y="124.1" width="1.0" height="1.0" fill="#383888" fill-opacity="0.65"/>
<rect x="500.8" y="123.3" width="1.0" height="1.0" fill="#383888" fill-opacity="0.65"/>
<rect x="493.5" y="122.5" width="1.0" height="1.0" fill="#383888" fill-opacity="0.65"/>
<rect x="498.2" y="123.2" width="1.0" height="1.0" fill="#383888" fill-opacity="0.65"/>
<rect x="487.7" y="123.9" width="1.0" height="1.0" fill="#383888" fill-opacity="0.65"/>
<rect x="496.9" y="126.3" width="1.0" height="1.0" fill="#383888" fill-opacity="0.65"/>
<rect x="489.6" y="121.9" width="1.0" height="1.0" fill="#383888" fill-opacity="0.65"/>
<rect x="498.5" y="121.5" width="1.0" height="1.0" fill="#383888" fill-opacity="0.65"/>
<rect x="493.8" y="124.0" width="1.0" height="1.0" fill="#383888" fill-opacity="0.65"/>
<rect x="502.4" y="123.5" width="1.0" height="1.0" fill="#383888" fill-opacity="0.65"/>
<rect x="498.9" y="123.1" width="1.0" height="1.0" fill="#383888" fill-opacity="0.65"/>
<rect x="489.4" y="124.1" width="1.0" height="1.0" fill="#383888" fill-opacity="0.65"/>
<rect x="499.2" y="123.4" width="1.0" height="1.0" fill="#383888" fill-opacity="0.65"/>
<rect x="503.4" y="123.9" width="1.0" height="1.0" fill="#383888" fill-opacity="0.65"/>
<rect x="487.9" y="123.9" width="1.0" height="1.0" fill="#383888" fill-opacity="0.65"/>
<rect x="496.2" y="121.9" width="1.0" height="1.0" fill="#383888" fill-opacity="0.65"/>
<rect x="492.4" y="123.2" width="1.0" height="1.0" fill="#383888" fill-opacity="0.65"/>
<rect x="500.3" y="123.7" width="1.0" height="1.0" fill="#383888" fill-opacity="0.65"/>
<rect x="493.8" y="122.2" width="1.0" height="1.0" fill="#383888" fill-opacity="0.65"/>
<rect x="497.4" y="123.5" width="1.0" height="1.0" fill="#383888" fill-opacity="0.65"/>
<rect x="493.7" y="119.5" width="1.0" height="1.0" fill="#383888" fill-opacity="0.65"/>
<rect x="498.6" y="120.9" width="1.0" height="1.0" fill="#383888" fill-opacity="0.65"/>
<rect x="489.9" y="122.4" width="1.0" height="1.0" fill="#383888" fill-opacity="0.65"/>
<ellipse cx="495.3" cy="123.8" rx="4.8" ry="2.1" fill="#8aac2c" fill-opacity="0.95"/>
<ellipse cx="494.8" cy="123.9" rx="2.6" ry="1.3" fill="#bcc030" fill-opacity="0.9"/>
<ellipse cx="438.2" cy="123.8" rx="2.5" ry="2.8" fill="#587a3a" fill-opacity="1"/>
<ellipse cx="442.4" cy="123.9" rx="1.7" ry="1.5" fill="#30307e" fill-opacity="0.8"/>
<rect x="497.7" y="74.3" width="1.0" height="1.0" fill="#4a4ca8" fill-opacity="0.55"/>
<rect x="499.4" y="66.8" width="1.0" height="1.0" fill="#5a5cb8" fill-opacity="0.55"/>
<rect x="496.8" y="72.6" width="1.0" height="1.0" fill="#7478c8" fill-opacity="0.55"/>
<rect x="495.0" y="69.3" width="1.0" height="1.0" fill="#4a4ca8" fill-opacity="0.55"/>
<rect x="496.8" y="76.1" width="1.0" height="1.0" fill="#4a4ca8" fill-opacity="0.55"/>
<rect x="498.2" y="79.3" width="1.0" height="1.0" fill="#7478c8" fill-opacity="0.55"/>
<rect x="498.1" y="72.3" width="1.0" height="1.0" fill="#4a4ca8" fill-opacity="0.55"/>
<rect x="497.0" y="71.0" width="1.0" height="1.0" fill="#4a4ca8" fill-opacity="0.55"/>
<rect x="487.2" y="73.8" width="1.0" height="1.0" fill="#5a5cb8" fill-opacity="0.55"/>
<rect x="500.1" y="71.2" width="1.0" height="1.0" fill="#5a5cb8" fill-opacity="0.55"/>
<rect x="492.6" y="77.5" width="1.0" height="1.0" fill="#4a4ca8" fill-opacity="0.55"/>
<rect x="495.2" y="69.9" width="1.0" height="1.0" fill="#7478c8" fill-opacity="0.55"/>
<rect x="494.9" y="63.9" width="1.0" height="1.0" fill="#4a4ca8" fill-opacity="0.55"/>
<rect x="498.0" y="76.5" width="1.0" height="1.0" fill="#5a5cb8" fill-opacity="0.55"/>
<rect x="500.2" y="71.2" width="1.0" height="1.0" fill="#7478c8" fill-opacity="0.55"/>
<rect x="502.6" y="75.2" width="1.0" height="1.0" fill="#5a5cb8" fill-opacity="0.55"/>
<rect x="492.9" y="69.1" width="1.0" height="1.0" fill="#4a4ca8" fill-opacity="0.55"/>
<rect x="494.0" y="79.9" width="1.0" height="1.0" fill="#4a4ca8" fill-opacity="0.55"/>
<rect x="500.1" y="74.3" width="1.0" height="1.0" fill="#5a5cb8" fill-opacity="0.55"/>
<rect x="499.6" y="73.9" width="1.0" height="1.0" fill="#7478c8" fill-opacity="0.55"/>
<rect x="496.9" y="76.4" width="1.0" height="1.0" fill="#7478c8" fill-opacity="0.55"/>
<rect x="494.6" y="71.7" width="1.0" height="1.0" fill="#7478c8" fill-opacity="0.55"/>
<rect x="499.4" y="61.7" width="1.0" height="1.0" fill="#5a5cb8" fill-opacity="0.55"/>
<rect x="500.2" y="68.6" width="1.0" height="1.0" fill="#7478c8" fill-opacity="0.55"/>
<rect x="491.9" y="79.1" width="1.0" height="1.0" fill="#7478c8" fill-opacity="0.55"/>
<rect x="500.9" y="72.8" width="1.0" height="1.0" fill="#5a5cb8" fill-opacity="0.55"/>
<rect x="495.0" y="80.8" width="1.0" height="1.0" fill="#7478c8" fill-opacity="0.55"/>
<rect x="494.2" y="61.6" width="1.0" height="1.0" fill="#4a4ca8" fill-opacity="0.55"/>
<rect x="494.9" y="66.4" width="1.0" height="1.0" fill="#4a4ca8" fill-opacity="0.55"/>
<rect x="496.0" y="85.4" width="1.0" height="1.0" fill="#4a4ca8" fill-opacity="0.55"/>
<rect x="495.2" y="68.7" width="1.0" height="1.0" fill="#5a5cb8" fill-opacity="0.55"/>
<rect x="497.0" y="67.0" width="1.0" height="1.0" fill="#7478c8" fill-opacity="0.55"/>
<rect x="498.8" y="75.6" width="1.0" height="1.0" fill="#5a5cb8" fill-opacity="0.55"/>
<rect x="497.7" y="74.3" width="1.0" height="1.0" fill="#5a5cb8" fill-opacity="0.55"/>
<rect x="495.8" y="74.5" width="1.0" height="1.0" fill="#5a5cb8" fill-opacity="0.55"/>
<rect x="500.5" y="72.0" width="1.0" height="1.0" fill="#4a4ca8" fill-opacity="0.55"/>
<rect x="503.0" y="80.4" width="1.0" height="1.0" fill="#5a5cb8" fill-opacity="0.55"/>
<rect x="498.9" y="72.0" width="1.0" height="1.0" fill="#5a5cb8" fill-opacity="0.55"/>
<rect x="497.1" y="68.4" width="1.0" height="1.0" fill="#4a4ca8" fill-opacity="0.55"/>
<rect x="490.4" y="78.6" width="1.0" height="1.0" fill="#5a5cb8" fill-opacity="0.55"/>
<rect x="492.1" y="71.6" width="1.0" height="1.0" fill="#5a5cb8" fill-opacity="0.55"/>
<rect x="497.5" y="69.2" width="1.0" height="1.0" fill="#4a4ca8" fill-opacity="0.55"/>
<rect x="499.5" y="69.6" width="1.0" height="1.0" fill="#5a5cb8" fill-opacity="0.55"/>
<rect x="497.7" y="63.7" width="1.0" height="1.0" fill="#5a5cb8" fill-opacity="0.55"/>
<rect x="499.6" y="78.9" width="1.0" height="1.0" fill="#4a4ca8" fill-opacity="0.55"/>
<rect x="497.9" y="70.3" width="1.0" height="1.0" fill="#7478c8" fill-opacity="0.55"/>
<rect x="492.6" y="62.4" width="1.0" height="1.0" fill="#7478c8" fill-opacity="0.55"/>
<rect x="494.7" y="65.9" width="1.0" height="1.0" fill="#7478c8" fill-opacity="0.55"/>
<rect x="498.4" y="70.0" width="1.0" height="1.0" fill="#7478c8" fill-opacity="0.55"/>
<rect x="495.9" y="64.9" width="1.0" height="1.0" fill="#7478c8" fill-opacity="0.55"/>
<rect x="491.7" y="74.0" width="1.0" height="1.0" fill="#7478c8" fill-opacity="0.55"/>
<rect x="497.6" y="80.2" width="1.0" height="1.0" fill="#7478c8" fill-opacity="0.55"/>
<rect x="503.4" y="75.4" width="1.0" height="1.0" fill="#7478c8" fill-opacity="0.55"/>
<rect x="494.9" y="66.4" width="1.0" height="1.0" fill="#7478c8" fill-opacity="0.55"/>
<rect x="498.0" y="72.1" width="1.0" height="1.0" fill="#4a4ca8" fill-opacity="0.55"/>
<rect x="499.0" y="77.5" width="1.0" height="1.0" fill="#4a4ca8" fill-opacity="0.55"/>
<rect x="496.9" y="65.9" width="1.0" height="1.0" fill="#7478c8" fill-opacity="0.55"/>
<rect x="493.5" y="73.1" width="1.0" height="1.0" fill="#5a5cb8" fill-opacity="0.55"/>
<rect x="498.1" y="69.0" width="1.0" height="1.0" fill="#4a4ca8" fill-opacity="0.55"/>
<rect x="498.5" y="74.2" width="1.0" height="1.0" fill="#7478c8" fill-opacity="0.55"/>
<rect x="497.5" y="68.0" width="1.0" height="1.0" fill="#5a5cb8" fill-opacity="0.55"/>
<rect x="498.1" y="64.1" width="1.0" height="1.0" fill="#4a4ca8" fill-opacity="0.55"/>
<rect x="502.5" y="76.7" width="1.0" height="1.0" fill="#7478c8" fill-opacity="0.55"/>
<rect x="495.2" y="78.1" width="1.0" height="1.0" fill="#4a4ca8" fill-opacity="0.55"/>
<rect x="493.7" y="73.8" width="1.0" height="1.0" fill="#4a4ca8" fill-opacity="0.55"/>
<rect x="497.9" y="76.5" width="1.0" height="1.0" fill="#7478c8" fill-opacity="0.55"/>
<rect x="497.2" y="74.6" width="1.0" height="1.0" fill="#4a4ca8" fill-opacity="0.55"/>
<rect x="497.9" y="64.2" width="1.0" height="1.0" fill="#5a5cb8" fill-opacity="0.55"/>
<rect x="500.2" y="74.8" width="1.0" height="1.0" fill="#5a5cb8" fill-opacity="0.55"/>
<rect x="497.6" y="63.4" width="1.0" height="1.0" fill="#5a5cb8" fill-opacity="0.55"/>
<rect x="497.6" y="67.9" width="1.0" height="1.0" fill="#4a4ca8" fill-opacity="0.55"/>
<rect x="498.2" y="76.8" width="1.0" height="1.0" fill="#4a4ca8" fill-opacity="0.55"/>
<rect x="499.1" y="70.2" width="1.0" height="1.0" fill="#4a4ca8" fill-opacity="0.55"/>
<rect x="498.5" y="74.3" width="1.0" height="1.0" fill="#4a4ca8" fill-opacity="0.55"/>
<rect x="501.4" y="73.4" width="1.0" height="1.0" fill="#4a4ca8" fill-opacity="0.55"/>
<rect x="498.0" y="70.0" width="1.0" height="1.0" fill="#7478c8" fill-opacity="0.55"/>
<rect x="498.2" y="80.3" width="1.0" height="1.0" fill="#7478c8" fill-opacity="0.55"/>
<rect x="500.8" y="69.9" width="1.0" height="1.0" fill="#4a4ca8" fill-opacity="0.55"/>
<rect x="493.2" y="79.8" width="1.0" height="1.0" fill="#7478c8" fill-opacity="0.55"/>
<rect x="495.5" y="79.9" width="1.0" height="1.0" fill="#4a4ca8" fill-opacity="0.55"/>
<rect x="496.0" y="67.8" width="1.0" height="1.0" fill="#5a5cb8" fill-opacity="0.55"/>
<rect x="497.7" y="74.6" width="1.0" height="1.0" fill="#7478c8" fill-opacity="0.55"/>
<rect x="496.4" y="70.6" width="1.0" height="1.0" fill="#4a4ca8" fill-opacity="0.55"/>
<rect x="502.2" y="81.8" width="1.0" height="1.0" fill="#7478c8" fill-opacity="0.55"/>
<rect x="495.3" y="67.6" width="1.0" height="1.0" fill="#5a5cb8" fill-opacity="0.55"/>
<rect x="501.5" y="71.2" width="1.0" height="1.0" fill="#7478c8" fill-opacity="0.55"/>
<rect x="495.9" y="58.6" width="1.0" height="1.0" fill="#4a4ca8" fill-opacity="0.55"/>
<rect x="497.4" y="73.9" width="1.0" height="1.0" fill="#4a4ca8" fill-opacity="0.55"/>
<rect x="492.3" y="77.0" width="1.0" height="1.0" fill="#4a4ca8" fill-opacity="0.55"/>
<rect x="496.8" y="74.9" width="1.0" height="1.0" fill="#5a5cb8" fill-opacity="0.55"/>
<rect x="499.6" y="69.4" width="1.0" height="1.0" fill="#7478c8" fill-opacity="0.55"/>
<rect x="494.2" y="75.2" width="1.0" height="1.0" fill="#5a5cb8" fill-opacity="0.55"/>
<rect x="495.8" y="84.4" width="1.0" height="1.0" fill="#4a4ca8" fill-opacity="0.55"/>
<rect x="498.2" y="70.7" width="1.0" height="1.0" fill="#7478c8" fill-opacity="0.55"/>
<rect x="490.6" y="75.7" width="1.0" height="1.0" fill="#4a4ca8" fill-opacity="0.55"/>
<rect x="498.0" y="77.9" width="1.0" height="1.0" fill="#5a5cb8" fill-opacity="0.55"/>
<rect x="496.1" y="72.3" width="1.0" height="1.0" fill="#4a4ca8" fill-opacity="0.55"/>
<rect x="495.2" y="79.0" width="1.0" height="1.0" fill="#7478c8" fill-opacity="0.55"/>
<rect x="499.4" y="70.0" width="1.0" height="1.0" fill="#7478c8" fill-opacity="0.55"/>
<rect x="501.1" y="72.2" width="1.0" height="1.0" fill="#5a5cb8" fill-opacity="0.55"/>
<rect x="495.8" y="73.3" width="1.0" height="1.0" fill="#4a4ca8" fill-opacity="0.55"/>
<rect x="495.3" y="74.9" width="1.0" height="1.0" fill="#5a5cb8" fill-opacity="0.55"/>
<rect x="499.5" y="60.1" width="1.0" height="1.0" fill="#7478c8" fill-opacity="0.55"/>
<rect x="500.5" y="77.3" width="1.0" height="1.0" fill="#4a4ca8" fill-opacity="0.55"/>
<rect x="498.1" y="69.8" width="1.0" height="1.0" fill="#4a4ca8" fill-opacity="0.55"/>
<rect x="497.8" y="71.7" width="1.0" height="1.0" fill="#7478c8" fill-opacity="0.55"/>
<rect x="495.8" y="66.3" width="1.0" height="1.0" fill="#5a5cb8" fill-opacity="0.55"/>
<rect x="496.3" y="68.2" width="1.0" height="1.0" fill="#5a5cb8" fill-opacity="0.55"/>
<rect x="495.0" y="77.0" width="1.0" height="1.0" fill="#4a4ca8" fill-opacity="0.55"/>
<rect x="492.9" y="72.7" width="1.0" height="1.0" fill="#5a5cb8" fill-opacity="0.55"/>
<rect x="504.9" y="68.2" width="1.0" height="1.0" fill="#4a4ca8" fill-opacity="0.55"/>
<rect x="495.2" y="73.4" width="1.0" height="1.0" fill="#7478c8" fill-opacity="0.55"/>
<rect x="494.0" y="50.0" width="1.0" height="1.0" fill="#5a5cb8" fill-opacity="0.55"/>
<rect x="501.3" y="71.5" width="1.0" height="1.0" fill="#7478c8" fill-opacity="0.55"/>
<rect x="500.3" y="68.2" width="1.0" height="1.0" fill="#7478c8" fill-opacity="0.55"/>
<rect x="497.8" y="77.5" width="1.0" height="1.0" fill="#5a5cb8" fill-opacity="0.55"/>
<rect x="495.8" y="71.2" width="1.0" height="1.0" fill="#5a5cb8" fill-opacity="0.55"/>
<rect x="504.4" y="71.9" width="1.0" height="1.0" fill="#7478c8" fill-opacity="0.55"/>
<rect x="493.7" y="64.0" width="1.0" height="1.0" fill="#4a4ca8" fill-opacity="0.55"/>
<rect x="493.1" y="56.8" width="1.0" height="1.0" fill="#4a4ca8" fill-opacity="0.55"/>
<rect x="497.3" y="68.3" width="1.0" height="1.0" fill="#4a4ca8" fill-opacity="0.55"/>
<rect x="498.7" y="76.7" width="1.0" height="1.0" fill="#4a4ca8" fill-opacity="0.55"/>
<rect x="502.9" y="66.8" width="1.0" height="1.0" fill="#5a5cb8" fill-opacity="0.55"/>
<rect x="499.4" y="75.7" width="1.0" height="1.0" fill="#7478c8" fill-opacity="0.55"/>
<rect x="495.7" y="70.8" width="1.0" height="1.0" fill="#5a5cb8" fill-opacity="0.55"/>
<rect x="496.0" y="78.8" width="1.0" height="1.0" fill="#5a5cb8" fill-opacity="0.55"/>
<rect x="499.0" y="73.5" width="1.0" height="1.0" fill="#7478c8" fill-opacity="0.55"/>
<rect x="500.1" y="75.6" width="1.0" height="1.0" fill="#4a4ca8" fill-opacity="0.55"/>
<rect x="495.8" y="75.4" width="1.0" height="1.0" fill="#7478c8" fill-opacity="0.55"/>
<rect x="496.3" y="72.6" width="1.0" height="1.0" fill="#5a5cb8" fill-opacity="0.55"/>
<rect x="495.6" y="69.4" width="1.0" height="1.0" fill="#5a5cb8" fill-opacity="0.55"/>
<rect x="491.6" y="74.7" width="1.0" height="1.0" fill="#5a5cb8" fill-opacity="0.55"/>
<rect x="498.4" y="64.3" width="1.0" height="1.0" fill="#5a5cb8" fill-opacity="0.55"/>
<rect x="500.6" y="70.0" width="1.0" height="1.0" fill="#4a4ca8" fill-opacity="0.55"/>
<rect x="491.6" y="60.2" width="1.0" height="1.0" fill="#7478c8" fill-opacity="0.55"/>
<rect x="500.0" y="70.0" width="1.0" height="1.0" fill="#5a5cb8" fill-opacity="0.55"/>
<rect x="497.8" y="83.0" width="1.0" height="1.0" fill="#5a5cb8" fill-opacity="0.55"/>
<rect x="496.7" y="61.3" width="1.0" height="1.0" fill="#5a5cb8" fill-opacity="0.55"/>
<rect x="496.0" y="80.2" width="1.0" height="1.0" fill="#4a4ca8" fill-opacity="0.55"/>
<rect x="499.0" y="75.0" width="1.0" height="1.0" fill="#7478c8" fill-opacity="0.55"/>
<rect x="493.6" y="61.6" width="1.0" height="1.0" fill="#5a5cb8" fill-opacity="0.55"/>
<rect x="495.2" y="75.0" width="1.0" height="1.0" fill="#5a5cb8" fill-opacity="0.55"/>
<rect x="497.0" y="74.7" width="1.0" height="1.0" fill="#4a4ca8" fill-opacity="0.55"/>
<rect x="495.5" y="78.1" width="1.0" height="1.0" fill="#7478c8" fill-opacity="0.55"/>
<rect x="500.8" y="71.1" width="1.0" height="1.0" fill="#5a5cb8" fill-opacity="0.55"/>
<rect x="494.0" y="68.3" width="1.0" height="1.0" fill="#5a5cb8" fill-opacity="0.55"/>
<rect x="495.2" y="74.9" width="1.0" height="1.0" fill="#7478c8" fill-opacity="0.55"/>
<rect x="495.4" y="68.8" width="1.0" height="1.0" fill="#5a5cb8" fill-opacity="0.55"/>
<rect x="494.1" y="74.7" width="1.0" height="1.0" fill="#4a4ca8" fill-opacity="0.55"/>
<rect x="495.5" y="66.8" width="1.0" height="1.0" fill="#5a5cb8" fill-opacity="0.55"/>
<rect x="502.3" y="75.3" width="1.0" height="1.0" fill="#5a5cb8" fill-opacity="0.55"/>
<rect x="498.6" y="77.0" width="1.0" height="1.0" fill="#4a4ca8" fill-opacity="0.55"/>
<rect x="495.4" y="74.2" width="1.0" height="1.0" fill="#5a5cb8" fill-opacity="0.55"/>
<rect x="496.9" y="69.9" width="1.0" height="1.0" fill="#4a4ca8" fill-opacity="0.55"/>
<rect x="495.0" y="72.0" width="1.0" height="1.0" fill="#7478c8" fill-opacity="0.55"/>
<rect x="492.5" y="69.7" width="1.0" height="1.0" fill="#4a4ca8" fill-opacity="0.55"/>
<rect x="490.8" y="80.9" width="1.0" height="1.0" fill="#5a5cb8" fill-opacity="0.55"/>
<rect x="496.1" y="65.9" width="1.0" height="1.0" fill="#5a5cb8" fill-opacity="0.55"/>
<rect x="494.5" y="78.1" width="1.0" height="1.0" fill="#4a4ca8" fill-opacity="0.55"/>
<rect x="498.2" y="67.7" width="1.0" height="1.0" fill="#7478c8" fill-opacity="0.55"/>
<rect x="498.8" y="72.9" width="1.0" height="1.0" fill="#5a5cb8" fill-opacity="0.55"/>
<rect x="492.3" y="70.4" width="1.0" height="1.0" fill="#5a5cb8" fill-opacity="0.55"/>
<rect x="498.3" y="68.0" width="1.0" height="1.0" fill="#7478c8" fill-opacity="0.55"/>
<rect x="496.4" y="83.0" width="1.0" height="1.0" fill="#4a4ca8" fill-opacity="0.55"/>
<rect x="495.4" y="66.5" width="1.0" height="1.0" fill="#5a5cb8" fill-opacity="0.55"/>
<rect x="496.1" y="81.1" width="1.0" height="1.0" fill="#5a5cb8" fill-opacity="0.55"/>
<rect x="495.4" y="74.3" width="1.0" height="1.0" fill="#4a4ca8" fill-opacity="0.55"/>
<rect x="495.9" y="76.5" width="1.0" height="1.0" fill="#5a5cb8" fill-opacity="0.55"/>
<rect x="498.1" y="62.4" width="1.0" height="1.0" fill="#5a5cb8" fill-opacity="0.55"/>
<rect x="500.5" y="71.5" width="1.0" height="1.0" fill="#4a4ca8" fill-opacity="0.55"/>
<rect x="494.5" y="65.7" width="1.0" height="1.0" fill="#4a4ca8" fill-opacity="0.55"/>
<rect x="496.7" y="70.4" width="1.0" height="1.0" fill="#7478c8" fill-opacity="0.55"/>
<rect x="497.2" y="62.9" width="1.0" height="1.0" fill="#5a5cb8" fill-opacity="0.55"/>
<rect x="498.6" y="64.9" width="1.0" height="1.0" fill="#4a4ca8" fill-opacity="0.55"/>
<rect x="493.5" y="54.6" width="1.0" height="1.0" fill="#5a5cb8" fill-opacity="0.55"/>
<rect x="497.7" y="73.9" width="1.0" height="1.0" fill="#7478c8" fill-opacity="0.55"/>
<rect x="497.1" y="65.2" width="1.0" height="1.0" fill="#4a4ca8" fill-opacity="0.55"/>
<rect x="494.8" y="61.0" width="1.0" height="1.0" fill="#4a4ca8" fill-opacity="0.55"/>
<rect x="495.1" y="81.1" width="1.0" height="1.0" fill="#5a5cb8" fill-opacity="0.55"/>
<rect x="500.8" y="57.5" width="1.0" height="1.0" fill="#4a4ca8" fill-opacity="0.55"/>
<rect x="495.3" y="64.4" width="1.0" height="1.0" fill="#5a5cb8" fill-opacity="0.55"/>
<rect x="496.3" y="65.2" width="1.0" height="1.0" fill="#7478c8" fill-opacity="0.55"/>
<rect x="500.7" y="69.1" width="1.0" height="1.0" fill="#5a5cb8" fill-opacity="0.55"/>
<rect x="499.2" y="74.8" width="1.0" height="1.0" fill="#5a5cb8" fill-opacity="0.55"/>
<rect x="497.9" y="68.7" width="1.0" height="1.0" fill="#4a4ca8" fill-opacity="0.55"/>
<rect x="496.4" y="71.8" width="1.0" height="1.0" fill="#4a4ca8" fill-opacity="0.55"/>
<rect x="498.9" y="69.7" width="1.0" height="1.0" fill="#7478c8" fill-opacity="0.55"/>
<rect x="500.1" y="68.2" width="1.0" height="1.0" fill="#7478c8" fill-opacity="0.55"/>
<rect x="498.1" y="64.1" width="1.0" height="1.0" fill="#4a4ca8" fill-opacity="0.55"/>
<rect x="500.9" y="78.1" width="1.0" height="1.0" fill="#5a5cb8" fill-opacity="0.55"/>
<rect x="497.5" y="65.8" width="1.0" height="1.0" fill="#5a5cb8" fill-opacity="0.55"/>
<rect x="496.1" y="74.7" width="1.0" height="1.0" fill="#4a4ca8" fill-opacity="0.55"/>
<rect x="493.4" y="79.7" width="1.0" height="1.0" fill="#7478c8" fill-opacity="0.55"/>
<rect x="494.2" y="77.0" width="1.0" height="1.0" fill="#4a4ca8" fill-opacity="0.55"/>
<rect x="494.7" y="78.2" width="1.0" height="1.0" fill="#4a4ca8" fill-opacity="0.55"/>
<rect x="496.3" y="65.2" width="1.0" height="1.0" fill="#5a5cb8" fill-opacity="0.55"/>
<rect x="496.4" y="67.0" width="1.0" height="1.0" fill="#4a4ca8" fill-opacity="0.55"/>
<rect x="495.3" y="76.9" width="1.0" height="1.0" fill="#5a5cb8" fill-opacity="0.55"/>
<rect x="497.1" y="73.9" width="1.0" height="1.0" fill="#4a4ca8" fill-opacity="0.55"/>
<rect x="493.8" y="78.7" width="1.0" height="1.0" fill="#4a4ca8" fill-opacity="0.55"/>
<rect x="498.0" y="70.2" width="1.0" height="1.0" fill="#5a5cb8" fill-opacity="0.55"/>
<rect x="503.4" y="69.3" width="1.0" height="1.0" fill="#4a4ca8" fill-opacity="0.55"/>
<rect x="496.0" y="73.6" width="1.0" height="1.0" fill="#5a5cb8" fill-opacity="0.55"/>
<rect x="497.1" y="68.5" width="1.0" height="1.0" fill="#4a4ca8" fill-opacity="0.55"/>
<rect x="495.4" y="71.5" width="1.0" height="1.0" fill="#7478c8" fill-opacity="0.55"/>
<rect x="496.1" y="74.6" width="1.0" height="1.0" fill="#4a4ca8" fill-opacity="0.55"/>
<rect x="496.3" y="74.7" width="1.0" height="1.0" fill="#4a4ca8" fill-opacity="0.55"/>
<rect x="497.6" y="68.7" width="1.0" height="1.0" fill="#5a5cb8" fill-opacity="0.55"/>
<rect x="497.5" y="75.7" width="1.0" height="1.0" fill="#7478c8" fill-opacity="0.55"/>
<rect x="496.9" y="65.5" width="1.0" height="1.0" fill="#5a5cb8" fill-opacity="0.55"/>
<rect x="497.5" y="62.9" width="1.0" height="1.0" fill="#4a4ca8" fill-opacity="0.55"/>
<rect x="496.1" y="65.8" width="1.0" height="1.0" fill="#7478c8" fill-opacity="0.55"/>
<rect x="498.5" y="63.2" width="1.0" height="1.0" fill="#7478c8" fill-opacity="0.55"/>
<rect x="498.5" y="71.1" width="1.0" height="1.0" fill="#4a4ca8" fill-opacity="0.55"/>
<rect x="500.7" y="72.5" width="1.0" height="1.0" fill="#4a4ca8" fill-opacity="0.55"/>
<rect x="495.9" y="66.9" width="1.0" height="1.0" fill="#7478c8" fill-opacity="0.55"/>
<rect x="499.4" y="77.0" width="1.0" height="1.0" fill="#4a4ca8" fill-opacity="0.55"/>
<rect x="502.2" y="73.6" width="1.0" height="1.0" fill="#7478c8" fill-opacity="0.55"/>
<rect x="498.8" y="76.8" width="1.0" height="1.0" fill="#7478c8" fill-opacity="0.55"/>
<rect x="499.5" y="64.4" width="1.0" height="1.0" fill="#7478c8" fill-opacity="0.55"/>
<rect x="497.6" y="67.8" width="1.0" height="1.0" fill="#7478c8" fill-opacity="0.55"/>
<rect x="496.0" y="63.2" width="1.0" height="1.0" fill="#7478c8" fill-opacity="0.55"/>
<rect x="497.0" y="73.7" width="1.0" height="1.0" fill="#4a4ca8" fill-opacity="0.55"/>
<rect x="495.0" y="64.9" width="1.0" height="1.0" fill="#4a4ca8" fill-opacity="0.55"/>
<rect x="494.4" y="73.3" width="1.0" height="1.0" fill="#7478c8" fill-opacity="0.55"/>
<rect x="498.0" y="80.6" width="1.0" height="1.0" fill="#4a4ca8" fill-opacity="0.55"/>
<rect x="494.6" y="69.1" width="1.0" height="1.0" fill="#5a5cb8" fill-opacity="0.55"/>
<rect x="500.4" y="75.2" width="1.0" height="1.0" fill="#7478c8" fill-opacity="0.55"/>
<rect x="501.1" y="68.0" width="1.0" height="1.0" fill="#5a5cb8" fill-opacity="0.55"/>
<rect x="497.0" y="72.0" width="1.0" height="1.0" fill="#7478c8" fill-opacity="0.55"/>
<rect x="497.9" y="104.1" width="0.9" height="0.9" fill="#9a9ed8" fill-opacity="0.5"/>
<rect x="500.0" y="65.8" width="0.9" height="0.9" fill="#9a9ed8" fill-opacity="0.5"/>
<rect x="501.8" y="52.4" width="0.9" height="0.9" fill="#9a9ed8" fill-opacity="0.5"/>
<rect x="495.1" y="52.4" width="0.9" height="0.9" fill="#9a9ed8" fill-opacity="0.5"/>
<rect x="501.6" y="69.6" width="0.9" height="0.9" fill="#9a9ed8" fill-opacity="0.5"/>
<rect x="502.8" y="104.9" width="0.9" height="0.9" fill="#9a9ed8" fill-opacity="0.5"/>
<rect x="500.7" y="105.0" width="0.9" height="0.9" fill="#9a9ed8" fill-opacity="0.5"/>
<rect x="494.6" y="71.1" width="0.9" height="0.9" fill="#9a9ed8" fill-opacity="0.5"/>
<rect x="501.5" y="86.4" width="0.9" height="0.9" fill="#9a9ed8" fill-opacity="0.5"/>
<rect x="499.6" y="82.1" width="0.9" height="0.9" fill="#9a9ed8" fill-opacity="0.5"/>
<rect x="498.0" y="101.8" width="0.9" height="0.9" fill="#9a9ed8" fill-opacity="0.5"/>
<rect x="495.6" y="52.3" width="0.9" height="0.9" fill="#9a9ed8" fill-opacity="0.5"/>
<rect x="496.4" y="55.7" width="0.9" height="0.9" fill="#9a9ed8" fill-opacity="0.5"/>
<rect x="495.9" y="102.8" width="0.9" height="0.9" fill="#9a9ed8" fill-opacity="0.5"/>
<rect x="503.3" y="100.2" width="0.9" height="0.9" fill="#9a9ed8" fill-opacity="0.5"/>
<rect x="500.8" y="59.7" width="0.9" height="0.9" fill="#9a9ed8" fill-opacity="0.5"/>
<rect x="496.5" y="57.4" width="0.9" height="0.9" fill="#9a9ed8" fill-opacity="0.5"/>
<rect x="498.8" y="77.6" width="0.9" height="0.9" fill="#9a9ed8" fill-opacity="0.5"/>
<rect x="498.9" y="98.5" width="0.9" height="0.9" fill="#9a9ed8" fill-opacity="0.5"/>
<rect x="499.9" y="93.6" width="0.9" height="0.9" fill="#9a9ed8" fill-opacity="0.5"/>
<rect x="500.2" y="81.9" width="0.9" height="0.9" fill="#9a9ed8" fill-opacity="0.5"/>
<rect x="485.1" y="79.5" width="0.9" height="0.9" fill="#9a9ed8" fill-opacity="0.5"/>
<rect x="495.9" y="100.1" width="0.9" height="0.9" fill="#9a9ed8" fill-opacity="0.5"/>
<rect x="498.8" y="92.0" width="0.9" height="0.9" fill="#9a9ed8" fill-opacity="0.5"/>
<rect x="498.2" y="53.4" width="0.9" height="0.9" fill="#9a9ed8" fill-opacity="0.5"/>
<rect x="495.9" y="62.3" width="0.9" height="0.9" fill="#9a9ed8" fill-opacity="0.5"/>
<rect x="500.5" y="62.5" width="0.9" height="0.9" fill="#9a9ed8" fill-opacity="0.5"/>
<rect x="496.5" y="52.9" width="0.9" height="0.9" fill="#9a9ed8" fill-opacity="0.5"/>
<rect x="491.2" y="55.3" width="0.9" height="0.9" fill="#9a9ed8" fill-opacity="0.5"/>
<rect x="492.5" y="91.9" width="0.9" height="0.9" fill="#9a9ed8" fill-opacity="0.5"/>
<rect x="499.8" y="85.8" width="0.9" height="0.9" fill="#9a9ed8" fill-opacity="0.5"/>
<rect x="498.5" y="103.9" width="0.9" height="0.9" fill="#9a9ed8" fill-opacity="0.5"/>
<rect x="494.7" y="57.2" width="0.9" height="0.9" fill="#9a9ed8" fill-opacity="0.5"/>
<rect x="498.3" y="65.6" width="0.9" height="0.9" fill="#9a9ed8" fill-opacity="0.5"/>
<rect x="490.8" y="57.4" width="0.9" height="0.9" fill="#9a9ed8" fill-opacity="0.5"/>
<rect x="501.6" y="58.8" width="0.9" height="0.9" fill="#9a9ed8" fill-opacity="0.5"/>
<rect x="492.8" y="46.6" width="0.9" height="0.9" fill="#9a9ed8" fill-opacity="0.5"/>
<rect x="501.0" y="76.4" width="0.9" height="0.9" fill="#9a9ed8" fill-opacity="0.5"/>
<rect x="491.9" y="65.7" width="0.9" height="0.9" fill="#9a9ed8" fill-opacity="0.5"/>
<rect x="490.0" y="69.6" width="0.9" height="0.9" fill="#9a9ed8" fill-opacity="0.5"/>
<rect x="497.7" y="56.2" width="0.9" height="0.9" fill="#9a9ed8" fill-opacity="0.5"/>
<rect x="500.6" y="57.5" width="0.9" height="0.9" fill="#9a9ed8" fill-opacity="0.5"/>
<rect x="498.9" y="101.4" width="0.9" height="0.9" fill="#9a9ed8" fill-opacity="0.5"/>
<rect x="501.7" y="82.0" width="0.9" height="0.9" fill="#9a9ed8" fill-opacity="0.5"/>
<rect x="492.6" y="81.1" width="0.9" height="0.9" fill="#9a9ed8" fill-opacity="0.5"/>
<rect x="494.6" y="45.0" width="0.9" height="0.9" fill="#9a9ed8" fill-opacity="0.5"/>
<rect x="500.7" y="63.1" width="0.9" height="0.9" fill="#9a9ed8" fill-opacity="0.5"/>
<rect x="498.5" y="90.1" width="0.9" height="0.9" fill="#9a9ed8" fill-opacity="0.5"/>
<rect x="499.4" y="56.4" width="0.9" height="0.9" fill="#9a9ed8" fill-opacity="0.5"/>
<rect x="497.3" y="49.4" width="0.9" height="0.9" fill="#9a9ed8" fill-opacity="0.5"/>
<rect x="492.9" y="86.7" width="0.9" height="0.9" fill="#9a9ed8" fill-opacity="0.5"/>
<rect x="496.7" y="46.4" width="0.9" height="0.9" fill="#9a9ed8" fill-opacity="0.5"/>
<rect x="500.2" y="78.6" width="0.9" height="0.9" fill="#9a9ed8" fill-opacity="0.5"/>
<rect x="500.8" y="48.0" width="0.9" height="0.9" fill="#9a9ed8" fill-opacity="0.5"/>
<rect x="505.3" y="48.2" width="0.9" height="0.9" fill="#9a9ed8" fill-opacity="0.5"/>
<rect x="482.4" y="70.0" width="0.9" height="0.9" fill="#9a9ed8" fill-opacity="0.5"/>
<rect x="498.0" y="85.8" width="0.9" height="0.9" fill="#9a9ed8" fill-opacity="0.5"/>
<rect x="508.0" y="56.6" width="0.9" height="0.9" fill="#9a9ed8" fill-opacity="0.5"/>
<rect x="488.8" y="100.7" width="0.9" height="0.9" fill="#9a9ed8" fill-opacity="0.5"/>
<rect x="493.5" y="47.8" width="0.9" height="0.9" fill="#9a9ed8" fill-opacity="0.5"/>
<rect x="497.8" y="104.9" width="0.9" height="0.9" fill="#9a9ed8" fill-opacity="0.5"/>
<rect x="496.1" y="45.6" width="0.9" height="0.9" fill="#9a9ed8" fill-opacity="0.5"/>
<rect x="494.9" y="103.7" width="0.9" height="0.9" fill="#9a9ed8" fill-opacity="0.5"/>
<rect x="497.7" y="47.8" width="0.9" height="0.9" fill="#9a9ed8" fill-opacity="0.5"/>
<rect x="494.2" y="53.6" width="0.9" height="0.9" fill="#9a9ed8" fill-opacity="0.5"/>
<rect x="496.9" y="63.6" width="0.9" height="0.9" fill="#9a9ed8" fill-opacity="0.5"/>
<rect x="501.0" y="52.3" width="0.9" height="0.9" fill="#9a9ed8" fill-opacity="0.5"/>
<rect x="501.7" y="63.7" width="0.9" height="0.9" fill="#9a9ed8" fill-opacity="0.5"/>
<rect x="497.2" y="46.2" width="0.9" height="0.9" fill="#9a9ed8" fill-opacity="0.5"/>
<rect x="502.3" y="58.5" width="0.9" height="0.9" fill="#9a9ed8" fill-opacity="0.5"/>
<rect x="500.8" y="97.0" width="0.9" height="0.9" fill="#9a9ed8" fill-opacity="0.5"/>
<rect x="493.2" y="66.7" width="0.9" height="0.9" fill="#9a9ed8" fill-opacity="0.5"/>
<rect x="498.5" y="89.3" width="0.9" height="0.9" fill="#9a9ed8" fill-opacity="0.5"/>
<rect x="495.8" y="98.4" width="0.9" height="0.9" fill="#9a9ed8" fill-opacity="0.5"/>
<rect x="495.9" y="105.5" width="0.9" height="0.9" fill="#9a9ed8" fill-opacity="0.5"/>
<rect x="491.4" y="51.3" width="0.9" height="0.9" fill="#9a9ed8" fill-opacity="0.5"/>
<rect x="494.2" y="63.8" width="0.9" height="0.9" fill="#9a9ed8" fill-opacity="0.5"/>
<rect x="495.3" y="76.4" width="0.9" height="0.9" fill="#9a9ed8" fill-opacity="0.5"/>
<rect x="490.7" y="95.0" width="0.9" height="0.9" fill="#9a9ed8" fill-opacity="0.5"/>
<rect x="499.0" y="60.0" width="0.9" height="0.9" fill="#9a9ed8" fill-opacity="0.5"/>
<rect x="496.4" y="49.4" width="0.9" height="0.9" fill="#9a9ed8" fill-opacity="0.5"/>
<rect x="496.2" y="101.6" width="0.9" height="0.9" fill="#9a9ed8" fill-opacity="0.5"/>
<rect x="501.7" y="105.0" width="0.9" height="0.9" fill="#9a9ed8" fill-opacity="0.5"/>
<rect x="494.6" y="55.3" width="0.9" height="0.9" fill="#9a9ed8" fill-opacity="0.5"/>
<rect x="495.7" y="104.4" width="0.9" height="0.9" fill="#9a9ed8" fill-opacity="0.5"/>
<rect x="495.5" y="74.0" width="0.9" height="0.9" fill="#9a9ed8" fill-opacity="0.5"/>
<rect x="494.0" y="99.8" width="0.9" height="0.9" fill="#9a9ed8" fill-opacity="0.5"/>
<rect x="494.8" y="106.4" width="0.9" height="0.9" fill="#9a9ed8" fill-opacity="0.5"/>
<rect x="498.7" y="74.3" width="0.9" height="0.9" fill="#9a9ed8" fill-opacity="0.5"/>
<rect x="497.2" y="73.1" width="0.9" height="0.9" fill="#9a9ed8" fill-opacity="0.5"/>
<rect x="492.3" y="86.3" width="0.9" height="0.9" fill="#9a9ed8" fill-opacity="0.5"/>
<rect x="498.5" y="77.8" width="0.9" height="0.9" fill="#9a9ed8" fill-opacity="0.5"/>
<rect x="500.2" y="61.3" width="0.9" height="0.9" fill="#9a9ed8" fill-opacity="0.5"/>
<rect x="497.8" y="95.4" width="0.9" height="0.9" fill="#9a9ed8" fill-opacity="0.5"/>
<rect x="500.5" y="104.1" width="0.9" height="0.9" fill="#9a9ed8" fill-opacity="0.5"/>
<rect x="497.3" y="104.1" width="0.9" height="0.9" fill="#9a9ed8" fill-opacity="0.5"/>
<rect x="497.5" y="82.1" width="0.9" height="0.9" fill="#9a9ed8" fill-opacity="0.5"/>
<rect x="497.1" y="65.1" width="0.9" height="0.9" fill="#9a9ed8" fill-opacity="0.5"/>
<rect x="500.0" y="54.0" width="0.9" height="0.9" fill="#9a9ed8" fill-opacity="0.5"/>
<rect x="496.2" y="97.0" width="0.9" height="0.9" fill="#9a9ed8" fill-opacity="0.5"/>
<rect x="495.7" y="79.0" width="0.9" height="0.9" fill="#9a9ed8" fill-opacity="0.5"/>
<rect x="494.2" y="90.4" width="0.9" height="0.9" fill="#9a9ed8" fill-opacity="0.5"/>
<rect x="499.7" y="54.0" width="0.9" height="0.9" fill="#9a9ed8" fill-opacity="0.5"/>
<rect x="500.5" y="82.1" width="0.9" height="0.9" fill="#9a9ed8" fill-opacity="0.5"/>
<rect x="494.4" y="70.6" width="0.9" height="0.9" fill="#9a9ed8" fill-opacity="0.5"/>
<rect x="495.3" y="103.4" width="0.9" height="0.9" fill="#9a9ed8" fill-opacity="0.5"/>
<rect x="494.5" y="74.5" width="0.9" height="0.9" fill="#9a9ed8" fill-opacity="0.5"/>
<rect x="492.2" y="99.7" width="0.9" height="0.9" fill="#9a9ed8" fill-opacity="0.5"/>
<rect x="492.2" y="85.0" width="0.9" height="0.9" fill="#9a9ed8" fill-opacity="0.5"/>
<rect x="497.7" y="101.5" width="0.9" height="0.9" fill="#9a9ed8" fill-opacity="0.5"/>
<rect x="504.7" y="101.4" width="0.9" height="0.9" fill="#b8bce6" fill-opacity="0.45"/>
<rect x="491.6" y="78.0" width="0.9" height="0.9" fill="#b8bce6" fill-opacity="0.45"/>
<rect x="494.3" y="87.1" width="0.9" height="0.9" fill="#b8bce6" fill-opacity="0.45"/>
<rect x="492.4" y="83.2" width="0.9" height="0.9" fill="#b8bce6" fill-opacity="0.45"/>
<rect x="500.9" y="43.7" width="0.9" height="0.9" fill="#b8bce6" fill-opacity="0.45"/>
<rect x="496.5" y="50.5" width="0.9" height="0.9" fill="#b8bce6" fill-opacity="0.45"/>
<rect x="504.2" y="93.2" width="0.9" height="0.9" fill="#b8bce6" fill-opacity="0.45"/>
<rect x="501.4" y="86.1" width="0.9" height="0.9" fill="#b8bce6" fill-opacity="0.45"/>
<rect x="501.8" y="68.4" width="0.9" height="0.9" fill="#b8bce6" fill-opacity="0.45"/>
<rect x="497.0" y="96.1" width="0.9" height="0.9" fill="#b8bce6" fill-opacity="0.45"/>
<rect x="499.0" y="47.0" width="0.9" height="0.9" fill="#b8bce6" fill-opacity="0.45"/>
<rect x="491.8" y="83.2" width="0.9" height="0.9" fill="#b8bce6" fill-opacity="0.45"/>
<rect x="484.3" y="52.4" width="0.9" height="0.9" fill="#b8bce6" fill-opacity="0.45"/>
<rect x="483.3" y="76.9" width="0.9" height="0.9" fill="#b8bce6" fill-opacity="0.45"/>
<rect x="484.0" y="60.9" width="0.9" height="0.9" fill="#b8bce6" fill-opacity="0.45"/>
<rect x="484.0" y="79.7" width="0.9" height="0.9" fill="#b8bce6" fill-opacity="0.45"/>
<rect x="494.1" y="46.1" width="0.9" height="0.9" fill="#b8bce6" fill-opacity="0.45"/>
<rect x="488.2" y="82.8" width="0.9" height="0.9" fill="#b8bce6" fill-opacity="0.45"/>
<rect x="485.5" y="65.4" width="0.9" height="0.9" fill="#b8bce6" fill-opacity="0.45"/>
<rect x="484.2" y="48.0" width="0.9" height="0.9" fill="#b8bce6" fill-opacity="0.45"/>
<rect x="507.5" y="52.9" width="0.9" height="0.9" fill="#b8bce6" fill-opacity="0.45"/>
<rect x="491.7" y="84.8" width="0.9" height="0.9" fill="#b8bce6" fill-opacity="0.45"/>
<rect x="497.1" y="101.0" width="0.9" height="0.9" fill="#b8bce6" fill-opacity="0.45"/>
<rect x="501.3" y="86.3" width="0.9" height="0.9" fill="#b8bce6" fill-opacity="0.45"/>
<rect x="495.5" y="62.1" width="0.9" height="0.9" fill="#b8bce6" fill-opacity="0.45"/>
<rect x="501.9" y="51.5" width="0.9" height="0.9" fill="#b8bce6" fill-opacity="0.45"/>
<rect x="489.7" y="88.8" width="0.9" height="0.9" fill="#b8bce6" fill-opacity="0.45"/>
<rect x="490.5" y="62.0" width="0.9" height="0.9" fill="#b8bce6" fill-opacity="0.45"/>
<rect x="508.1" y="50.8" width="0.9" height="0.9" fill="#b8bce6" fill-opacity="0.45"/>
<rect x="496.3" y="87.8" width="0.9" height="0.9" fill="#b8bce6" fill-opacity="0.45"/>
</g>
<rect x="413.3" y="40.6" width="106.5" height="106.5" fill="none" stroke="#333" stroke-width="1.05"/>
<path d="M481.1,40.9 V108.4 H514.0 V40.9 Z" fill="none" stroke="#333" stroke-width="1.05"/>
<path d="M419.9,147.1 v2.8" stroke="#222" stroke-width="1"/>
<path d="M438.7,147.1 v2.8" stroke="#222" stroke-width="1"/>
<path d="M455.1,147.1 v2.8" stroke="#222" stroke-width="1"/>
<path d="M483.4,147.1 v2.8" stroke="#222" stroke-width="1"/>
<path d="M509.3,147.1 v2.8" stroke="#222" stroke-width="1"/>
<path d="M413.3,140.1 h-2.8" stroke="#222" stroke-width="1"/>
<path d="M413.3,123.0 h-2.8" stroke="#222" stroke-width="1"/>
<path d="M413.3,105.1 h-2.8" stroke="#222" stroke-width="1"/>
<path d="M413.3,76.0 h-2.8" stroke="#222" stroke-width="1"/>
<path d="M413.3,50.7 h-2.8" stroke="#222" stroke-width="1"/>
<path d="M463.6,147.1 v1.7" stroke="#444" stroke-width="0.8"/>
<path d="M413.3,96.3 h-1.7" stroke="#444" stroke-width="0.8"/>
<path d="M468.6,147.1 v1.7" stroke="#444" stroke-width="0.8"/>
<path d="M413.3,91.2 h-1.7" stroke="#444" stroke-width="0.8"/>
<path d="M472.1,147.1 v1.7" stroke="#444" stroke-width="0.8"/>
<path d="M413.3,87.6 h-1.7" stroke="#444" stroke-width="0.8"/>
<path d="M474.9,147.1 v1.7" stroke="#444" stroke-width="0.8"/>
<path d="M413.3,84.8 h-1.7" stroke="#444" stroke-width="0.8"/>
<path d="M477.1,147.1 v1.7" stroke="#444" stroke-width="0.8"/>
<path d="M413.3,82.5 h-1.7" stroke="#444" stroke-width="0.8"/>
<path d="M479.0,147.1 v1.7" stroke="#444" stroke-width="0.8"/>
<path d="M413.3,80.5 h-1.7" stroke="#444" stroke-width="0.8"/>
<path d="M480.7,147.1 v1.7" stroke="#444" stroke-width="0.8"/>
<path d="M413.3,78.8 h-1.7" stroke="#444" stroke-width="0.8"/>
<path d="M482.1,147.1 v1.7" stroke="#444" stroke-width="0.8"/>
<path d="M413.3,77.3 h-1.7" stroke="#444" stroke-width="0.8"/>
<path d="M491.2,147.1 v1.7" stroke="#444" stroke-width="0.8"/>
<path d="M413.3,68.4 h-1.7" stroke="#444" stroke-width="0.8"/>
<path d="M495.8,147.1 v1.7" stroke="#444" stroke-width="0.8"/>
<path d="M413.3,63.9 h-1.7" stroke="#444" stroke-width="0.8"/>
<path d="M499.0,147.1 v1.7" stroke="#444" stroke-width="0.8"/>
<path d="M413.3,60.8 h-1.7" stroke="#444" stroke-width="0.8"/>
<path d="M501.5,147.1 v1.7" stroke="#444" stroke-width="0.8"/>
<path d="M413.3,58.3 h-1.7" stroke="#444" stroke-width="0.8"/>
<path d="M503.6,147.1 v1.7" stroke="#444" stroke-width="0.8"/>
<path d="M413.3,56.3 h-1.7" stroke="#444" stroke-width="0.8"/>
<path d="M505.3,147.1 v1.7" stroke="#444" stroke-width="0.8"/>
<path d="M413.3,54.6 h-1.7" stroke="#444" stroke-width="0.8"/>
<path d="M506.8,147.1 v1.7" stroke="#444" stroke-width="0.8"/>
<path d="M413.3,53.2 h-1.7" stroke="#444" stroke-width="0.8"/>
<path d="M508.1,147.1 v1.7" stroke="#444" stroke-width="0.8"/>
<path d="M413.3,51.9 h-1.7" stroke="#444" stroke-width="0.8"/>
<path d="M517.1,147.1 v1.7" stroke="#444" stroke-width="0.8"/>
<path d="M413.3,43.1 h-1.7" stroke="#444" stroke-width="0.8"/>
<path d="M442.0,147.1 v1.7" stroke="#444" stroke-width="0.8"/>
<path d="M413.3,119.4 h-1.7" stroke="#444" stroke-width="0.8"/>
<path d="M445.3,147.1 v1.7" stroke="#444" stroke-width="0.8"/>
<path d="M413.3,115.8 h-1.7" stroke="#444" stroke-width="0.8"/>
<path d="M448.5,147.1 v1.7" stroke="#444" stroke-width="0.8"/>
<path d="M413.3,112.3 h-1.7" stroke="#444" stroke-width="0.8"/>
<path d="M451.8,147.1 v1.7" stroke="#444" stroke-width="0.8"/>
<path d="M413.3,108.7 h-1.7" stroke="#444" stroke-width="0.8"/>
<path d="M434.9,147.1 v1.7" stroke="#444" stroke-width="0.8"/>
<path d="M413.3,126.4 h-1.7" stroke="#444" stroke-width="0.8"/>
<path d="M431.2,147.1 v1.7" stroke="#444" stroke-width="0.8"/>
<path d="M413.3,129.8 h-1.7" stroke="#444" stroke-width="0.8"/>
<path d="M427.4,147.1 v1.7" stroke="#444" stroke-width="0.8"/>
<path d="M413.3,133.3 h-1.7" stroke="#444" stroke-width="0.8"/>
<path d="M423.7,147.1 v1.7" stroke="#444" stroke-width="0.8"/>
<path d="M413.3,136.7 h-1.7" stroke="#444" stroke-width="0.8"/>
<text x="409.4" y="159.6" font-size="7.9">−10<tspan dx="0.4" dy="-2.9" font-size="5.6" stroke-width="0.05">3</tspan></text>
<text x="439.1" y="159.6" font-size="7.9" text-anchor="middle">0</text>
<text x="448.9" y="159.6" font-size="7.9">10<tspan dx="0.4" dy="-2.9" font-size="5.6" stroke-width="0.05">3</tspan></text>
<text x="478.3" y="159.6" font-size="7.9">10<tspan dx="0.4" dy="-2.9" font-size="5.6" stroke-width="0.05">4</tspan></text>
<text x="503.1" y="159.6" font-size="7.9">10<tspan dx="0.4" dy="-2.9" font-size="5.6" stroke-width="0.05">5</tspan></text>
<text x="407.1" y="142.9" font-size="7.9" text-anchor="end">−10<tspan dx="0.4" dy="-2.9" font-size="5.6" stroke-width="0.05">3</tspan></text>
<text x="407.1" y="125.8" font-size="7.9" text-anchor="end">0</text>
<text x="407.1" y="107.9" font-size="7.9" text-anchor="end">10<tspan dx="0.4" dy="-2.9" font-size="5.6" stroke-width="0.05">3</tspan></text>
<text x="407.1" y="78.8" font-size="7.9" text-anchor="end">10<tspan dx="0.4" dy="-2.9" font-size="5.6" stroke-width="0.05">4</tspan></text>
<text x="407.1" y="53.5" font-size="7.9" text-anchor="end">10<tspan dx="0.4" dy="-2.9" font-size="5.6" stroke-width="0.05">5</tspan></text>
<text transform="translate(449.5,173.5) scale(0.57,1)" font-size="10.0" font-weight="700" letter-spacing="0.6" fill="#262626" stroke="none">CD8-BV421</text>
<text transform="translate(387.7,119.6) rotate(-90) scale(0.69,1)" font-size="9.0" letter-spacing="0.4" fill="#222" stroke="#222" stroke-width="0.25">Tetramer-PE-Cy7</text>
<text x="451.0" y="53.2" font-size="7.2" text-anchor="middle">PE-Cy7 Tetramer</text>
<text x="451.0" y="62.0" font-size="7.2" text-anchor="middle">19.8</text>
<path d="M434.9,147.3 h5.4 l-0.8,3 h-1.2 l-0.9,-1.6 l-0.9,1.6 h-1.2 z" fill="#151515"/>
<rect x="410.5" y="121.2" width="2.4" height="3.6" fill="#151515"/>
<text x="392.1" y="193.9" font-size="9.1" text-anchor="middle" letter-spacing="0.45">UNC-HEXDC-V</text>
<g filter="url(#bl)">
<rect x="367.0" y="281.5" width="1.1" height="1.1" fill="#5068b0" fill-opacity="0.62"/>
<rect x="389.1" y="278.6" width="1.1" height="1.1" fill="#5068b0" fill-opacity="0.62"/>
<rect x="382.4" y="279.8" width="1.1" height="1.1" fill="#5068b0" fill-opacity="0.62"/>
<rect x="379.8" y="279.6" width="1.1" height="1.1" fill="#5068b0" fill-opacity="0.62"/>
<rect x="399.3" y="282.3" width="1.1" height="1.1" fill="#5068b0" fill-opacity="0.62"/>
<rect x="371.2" y="278.8" width="1.1" height="1.1" fill="#5068b0" fill-opacity="0.62"/>
<rect x="374.8" y="280.4" width="1.1" height="1.1" fill="#5068b0" fill-opacity="0.62"/>
<rect x="374.6" y="281.5" width="1.1" height="1.1" fill="#5068b0" fill-opacity="0.62"/>
<rect x="387.4" y="280.8" width="1.1" height="1.1" fill="#5068b0" fill-opacity="0.62"/>
<rect x="390.9" y="280.0" width="1.1" height="1.1" fill="#5068b0" fill-opacity="0.62"/>
<rect x="388.8" y="280.6" width="1.1" height="1.1" fill="#5068b0" fill-opacity="0.62"/>
<rect x="381.2" y="279.3" width="1.1" height="1.1" fill="#5068b0" fill-opacity="0.62"/>
<rect x="380.1" y="279.5" width="1.1" height="1.1" fill="#5068b0" fill-opacity="0.62"/>
<rect x="365.5" y="281.6" width="1.1" height="1.1" fill="#5068b0" fill-opacity="0.62"/>
<rect x="375.0" y="278.6" width="1.1" height="1.1" fill="#5068b0" fill-opacity="0.62"/>
<rect x="373.5" y="280.7" width="1.1" height="1.1" fill="#5068b0" fill-opacity="0.62"/>
<rect x="391.0" y="282.5" width="1.1" height="1.1" fill="#5068b0" fill-opacity="0.62"/>
<rect x="383.4" y="281.1" width="1.1" height="1.1" fill="#5068b0" fill-opacity="0.62"/>
<rect x="400.7" y="280.8" width="1.1" height="1.1" fill="#5068b0" fill-opacity="0.62"/>
<rect x="369.7" y="281.9" width="1.1" height="1.1" fill="#5068b0" fill-opacity="0.62"/>
<rect x="371.0" y="279.7" width="1.1" height="1.1" fill="#5068b0" fill-opacity="0.62"/>
<rect x="390.3" y="281.1" width="1.1" height="1.1" fill="#5068b0" fill-opacity="0.62"/>
<rect x="366.4" y="280.5" width="1.1" height="1.1" fill="#5068b0" fill-opacity="0.62"/>
<rect x="369.2" y="282.2" width="1.1" height="1.1" fill="#5068b0" fill-opacity="0.62"/>
<rect x="377.3" y="280.8" width="1.1" height="1.1" fill="#5068b0" fill-opacity="0.62"/>
<rect x="384.6" y="280.7" width="1.1" height="1.1" fill="#5068b0" fill-opacity="0.62"/>
<rect x="386.4" y="280.3" width="1.1" height="1.1" fill="#5068b0" fill-opacity="0.62"/>
<rect x="367.5" y="281.6" width="1.1" height="1.1" fill="#5068b0" fill-opacity="0.62"/>
<rect x="369.4" y="281.2" width="1.1" height="1.1" fill="#5068b0" fill-opacity="0.62"/>
<rect x="367.8" y="283.4" width="1.1" height="1.1" fill="#5068b0" fill-opacity="0.62"/>
<rect x="368.9" y="280.6" width="1.1" height="1.1" fill="#5068b0" fill-opacity="0.62"/>
<rect x="392.7" y="280.4" width="1.1" height="1.1" fill="#5068b0" fill-opacity="0.62"/>
<rect x="384.4" y="280.2" width="1.1" height="1.1" fill="#5068b0" fill-opacity="0.62"/>
<rect x="378.6" y="282.7" width="1.1" height="1.1" fill="#5068b0" fill-opacity="0.62"/>
<rect x="381.1" y="280.0" width="1.1" height="1.1" fill="#5068b0" fill-opacity="0.62"/>
<rect x="400.0" y="281.1" width="1.1" height="1.1" fill="#5068b0" fill-opacity="0.62"/>
<rect x="376.1" y="281.8" width="1.1" height="1.1" fill="#5068b0" fill-opacity="0.62"/>
<rect x="384.6" y="279.3" width="1.1" height="1.1" fill="#5068b0" fill-opacity="0.62"/>
<rect x="373.2" y="282.0" width="1.1" height="1.1" fill="#5068b0" fill-opacity="0.62"/>
<rect x="398.4" y="279.9" width="1.1" height="1.1" fill="#5068b0" fill-opacity="0.62"/>
<rect x="368.3" y="279.7" width="1.1" height="1.1" fill="#5068b0" fill-opacity="0.62"/>
<rect x="380.4" y="281.1" width="1.1" height="1.1" fill="#5068b0" fill-opacity="0.62"/>
<rect x="388.1" y="281.4" width="1.1" height="1.1" fill="#5068b0" fill-opacity="0.62"/>
<rect x="383.5" y="278.7" width="1.1" height="1.1" fill="#5068b0" fill-opacity="0.62"/>
<rect x="399.6" y="279.8" width="1.1" height="1.1" fill="#5068b0" fill-opacity="0.62"/>
<rect x="365.9" y="280.2" width="1.1" height="1.1" fill="#5068b0" fill-opacity="0.62"/>
<rect x="368.6" y="281.8" width="1.1" height="1.1" fill="#5068b0" fill-opacity="0.62"/>
<rect x="387.6" y="283.1" width="1.1" height="1.1" fill="#5068b0" fill-opacity="0.62"/>
<rect x="372.1" y="282.2" width="1.1" height="1.1" fill="#5068b0" fill-opacity="0.62"/>
<rect x="386.5" y="280.3" width="1.1" height="1.1" fill="#5068b0" fill-opacity="0.62"/>
<rect x="399.1" y="280.5" width="1.1" height="1.1" fill="#5068b0" fill-opacity="0.62"/>
<rect x="366.9" y="282.2" width="1.1" height="1.1" fill="#5068b0" fill-opacity="0.62"/>
<rect x="367.5" y="282.9" width="1.1" height="1.1" fill="#5068b0" fill-opacity="0.62"/>
<rect x="399.7" y="281.6" width="1.1" height="1.1" fill="#5068b0" fill-opacity="0.62"/>
<rect x="372.4" y="280.6" width="1.1" height="1.1" fill="#5068b0" fill-opacity="0.62"/>
<rect x="385.3" y="282.6" width="1.1" height="1.1" fill="#5068b0" fill-opacity="0.62"/>
<rect x="365.5" y="279.4" width="1.1" height="1.1" fill="#5068b0" fill-opacity="0.62"/>
<rect x="396.7" y="280.9" width="1.1" height="1.1" fill="#5068b0" fill-opacity="0.62"/>
<rect x="401.3" y="279.1" width="1.1" height="1.1" fill="#5068b0" fill-opacity="0.62"/>
<rect x="374.3" y="280.7" width="1.1" height="1.1" fill="#5068b0" fill-opacity="0.62"/>
<rect x="394.8" y="280.8" width="1.1" height="1.1" fill="#5068b0" fill-opacity="0.62"/>
<rect x="380.2" y="282.4" width="1.1" height="1.1" fill="#5068b0" fill-opacity="0.62"/>
<rect x="368.6" y="280.0" width="1.1" height="1.1" fill="#5068b0" fill-opacity="0.62"/>
<rect x="386.0" y="280.4" width="1.1" height="1.1" fill="#5068b0" fill-opacity="0.62"/>
<rect x="379.9" y="279.5" width="1.1" height="1.1" fill="#5068b0" fill-opacity="0.62"/>
<rect x="391.7" y="281.6" width="1.1" height="1.1" fill="#5068b0" fill-opacity="0.62"/>
<rect x="387.7" y="280.8" width="1.1" height="1.1" fill="#5068b0" fill-opacity="0.62"/>
<rect x="392.1" y="281.3" width="1.1" height="1.1" fill="#5068b0" fill-opacity="0.62"/>
<rect x="401.0" y="282.1" width="1.1" height="1.1" fill="#5068b0" fill-opacity="0.62"/>
<rect x="388.4" y="279.2" width="1.1" height="1.1" fill="#5068b0" fill-opacity="0.62"/>
<rect x="377.5" y="282.3" width="1.1" height="1.1" fill="#5068b0" fill-opacity="0.62"/>
<rect x="391.4" y="280.9" width="1.1" height="1.1" fill="#5068b0" fill-opacity="0.62"/>
<rect x="386.2" y="280.5" width="1.1" height="1.1" fill="#5068b0" fill-opacity="0.62"/>
<rect x="372.3" y="278.8" width="1.1" height="1.1" fill="#5068b0" fill-opacity="0.62"/>
<rect x="366.7" y="281.2" width="1.1" height="1.1" fill="#5068b0" fill-opacity="0.62"/>
<rect x="372.9" y="281.0" width="1.1" height="1.1" fill="#5068b0" fill-opacity="0.62"/>
<rect x="389.3" y="280.9" width="1.1" height="1.1" fill="#5068b0" fill-opacity="0.62"/>
<rect x="373.1" y="281.6" width="1.1" height="1.1" fill="#5068b0" fill-opacity="0.62"/>
<rect x="366.3" y="281.5" width="1.1" height="1.1" fill="#5068b0" fill-opacity="0.62"/>
<rect x="368.7" y="279.7" width="1.1" height="1.1" fill="#5068b0" fill-opacity="0.62"/>
<rect x="391.9" y="279.8" width="1.1" height="1.1" fill="#5068b0" fill-opacity="0.62"/>
<rect x="389.2" y="279.8" width="1.1" height="1.1" fill="#5068b0" fill-opacity="0.62"/>
<rect x="389.9" y="279.0" width="1.1" height="1.1" fill="#5068b0" fill-opacity="0.62"/>
<rect x="398.9" y="280.6" width="1.1" height="1.1" fill="#5068b0" fill-opacity="0.62"/>
<rect x="397.3" y="281.2" width="1.1" height="1.1" fill="#5068b0" fill-opacity="0.62"/>
<rect x="373.7" y="280.9" width="1.1" height="1.1" fill="#5068b0" fill-opacity="0.62"/>
<rect x="387.2" y="278.2" width="1.1" height="1.1" fill="#5068b0" fill-opacity="0.62"/>
<rect x="381.8" y="278.9" width="1.1" height="1.1" fill="#5068b0" fill-opacity="0.62"/>
<rect x="373.1" y="280.3" width="1.1" height="1.1" fill="#5068b0" fill-opacity="0.62"/>
<rect x="368.5" y="281.8" width="1.1" height="1.1" fill="#5068b0" fill-opacity="0.62"/>
<rect x="386.6" y="280.5" width="1.1" height="1.1" fill="#5068b0" fill-opacity="0.62"/>
<rect x="379.5" y="279.5" width="1.1" height="1.1" fill="#5068b0" fill-opacity="0.62"/>
<rect x="395.7" y="280.1" width="1.1" height="1.1" fill="#5068b0" fill-opacity="0.62"/>
<rect x="368.7" y="281.4" width="1.1" height="1.1" fill="#5068b0" fill-opacity="0.62"/>
<rect x="379.1" y="281.1" width="1.1" height="1.1" fill="#5068b0" fill-opacity="0.62"/>
<rect x="399.9" y="280.1" width="1.1" height="1.1" fill="#5068b0" fill-opacity="0.62"/>
<rect x="392.4" y="279.7" width="1.1" height="1.1" fill="#5068b0" fill-opacity="0.62"/>
<rect x="367.3" y="281.1" width="1.1" height="1.1" fill="#5068b0" fill-opacity="0.62"/>
<rect x="373.2" y="280.5" width="1.1" height="1.1" fill="#5068b0" fill-opacity="0.62"/>
<rect x="400.6" y="280.4" width="1.1" height="1.1" fill="#5068b0" fill-opacity="0.62"/>
<rect x="391.1" y="280.2" width="1.1" height="1.1" fill="#5068b0" fill-opacity="0.62"/>
<rect x="382.7" y="281.4" width="1.1" height="1.1" fill="#5068b0" fill-opacity="0.62"/>
<rect x="374.7" y="280.3" width="1.1" height="1.1" fill="#5068b0" fill-opacity="0.62"/>
<rect x="371.1" y="279.8" width="1.1" height="1.1" fill="#5068b0" fill-opacity="0.62"/>
<rect x="366.4" y="280.7" width="1.1" height="1.1" fill="#5068b0" fill-opacity="0.62"/>
<rect x="394.6" y="279.5" width="1.1" height="1.1" fill="#5068b0" fill-opacity="0.62"/>
<rect x="383.8" y="282.1" width="1.1" height="1.1" fill="#5068b0" fill-opacity="0.62"/>
<rect x="377.8" y="280.9" width="1.1" height="1.1" fill="#5068b0" fill-opacity="0.62"/>
<rect x="399.8" y="279.7" width="1.1" height="1.1" fill="#5068b0" fill-opacity="0.62"/>
<rect x="394.0" y="282.5" width="1.1" height="1.1" fill="#5068b0" fill-opacity="0.62"/>
<rect x="383.3" y="278.7" width="1.1" height="1.1" fill="#5068b0" fill-opacity="0.62"/>
<rect x="400.3" y="280.8" width="1.1" height="1.1" fill="#5068b0" fill-opacity="0.62"/>
<rect x="389.8" y="280.9" width="1.1" height="1.1" fill="#5068b0" fill-opacity="0.62"/>
<rect x="382.1" y="280.8" width="1.1" height="1.1" fill="#5068b0" fill-opacity="0.62"/>
<rect x="385.5" y="280.5" width="1.1" height="1.1" fill="#5068b0" fill-opacity="0.62"/>
<rect x="375.9" y="280.7" width="1.1" height="1.1" fill="#5068b0" fill-opacity="0.62"/>
<rect x="381.0" y="280.8" width="1.1" height="1.1" fill="#5068b0" fill-opacity="0.62"/>
<rect x="385.1" y="280.7" width="1.1" height="1.1" fill="#5068b0" fill-opacity="0.62"/>
<rect x="371.5" y="280.2" width="1.1" height="1.1" fill="#5068b0" fill-opacity="0.62"/>
<rect x="390.8" y="281.1" width="1.1" height="1.1" fill="#5068b0" fill-opacity="0.62"/>
<rect x="370.7" y="279.7" width="1.1" height="1.1" fill="#5068b0" fill-opacity="0.62"/>
<rect x="384.9" y="280.1" width="1.1" height="1.1" fill="#5068b0" fill-opacity="0.62"/>
<rect x="379.8" y="279.3" width="1.1" height="1.1" fill="#5068b0" fill-opacity="0.62"/>
<rect x="388.0" y="281.5" width="1.1" height="1.1" fill="#5068b0" fill-opacity="0.62"/>
<rect x="395.5" y="280.2" width="1.1" height="1.1" fill="#5068b0" fill-opacity="0.62"/>
<rect x="366.4" y="280.3" width="1.1" height="1.1" fill="#5068b0" fill-opacity="0.62"/>
<rect x="398.2" y="280.5" width="1.1" height="1.1" fill="#5068b0" fill-opacity="0.62"/>
<rect x="372.3" y="280.5" width="1.1" height="1.1" fill="#5068b0" fill-opacity="0.62"/>
<rect x="366.2" y="281.8" width="1.1" height="1.1" fill="#5068b0" fill-opacity="0.62"/>
<rect x="389.4" y="281.1" width="1.1" height="1.1" fill="#5068b0" fill-opacity="0.62"/>
<rect x="375.9" y="280.0" width="1.1" height="1.1" fill="#5068b0" fill-opacity="0.62"/>
<rect x="378.5" y="281.8" width="1.1" height="1.1" fill="#5068b0" fill-opacity="0.62"/>
<rect x="377.0" y="281.4" width="1.1" height="1.1" fill="#5068b0" fill-opacity="0.62"/>
<rect x="395.9" y="278.8" width="1.1" height="1.1" fill="#5068b0" fill-opacity="0.62"/>
<rect x="390.7" y="282.6" width="1.1" height="1.1" fill="#5068b0" fill-opacity="0.62"/>
<rect x="393.8" y="281.0" width="1.1" height="1.1" fill="#5068b0" fill-opacity="0.62"/>
<rect x="375.6" y="279.8" width="1.1" height="1.1" fill="#5068b0" fill-opacity="0.62"/>
<rect x="385.2" y="280.6" width="1.1" height="1.1" fill="#5068b0" fill-opacity="0.62"/>
<rect x="387.1" y="280.1" width="1.1" height="1.1" fill="#5068b0" fill-opacity="0.62"/>
<rect x="398.6" y="281.8" width="1.1" height="1.1" fill="#5068b0" fill-opacity="0.62"/>
<rect x="393.8" y="281.1" width="1.1" height="1.1" fill="#5068b0" fill-opacity="0.62"/>
<rect x="372.0" y="280.3" width="1.1" height="1.1" fill="#5068b0" fill-opacity="0.62"/>
<rect x="386.8" y="280.7" width="1.1" height="1.1" fill="#5068b0" fill-opacity="0.62"/>
<rect x="387.2" y="279.6" width="1.1" height="1.1" fill="#5068b0" fill-opacity="0.62"/>
<rect x="378.0" y="280.7" width="1.1" height="1.1" fill="#5068b0" fill-opacity="0.62"/>
<rect x="396.2" y="279.9" width="1.1" height="1.1" fill="#5068b0" fill-opacity="0.62"/>
<rect x="382.7" y="281.6" width="1.1" height="1.1" fill="#5068b0" fill-opacity="0.62"/>
<rect x="389.5" y="281.0" width="1.1" height="1.1" fill="#5068b0" fill-opacity="0.62"/>
<rect x="396.1" y="280.6" width="1.1" height="1.1" fill="#5068b0" fill-opacity="0.62"/>
<rect x="389.9" y="279.1" width="1.1" height="1.1" fill="#5068b0" fill-opacity="0.62"/>
<rect x="399.3" y="281.4" width="1.1" height="1.1" fill="#5068b0" fill-opacity="0.62"/>
<rect x="386.8" y="280.8" width="1.1" height="1.1" fill="#5068b0" fill-opacity="0.62"/>
<rect x="392.9" y="279.5" width="1.1" height="1.1" fill="#5068b0" fill-opacity="0.62"/>
<rect x="379.4" y="280.7" width="1.1" height="1.1" fill="#5068b0" fill-opacity="0.62"/>
<rect x="394.0" y="278.9" width="1.1" height="1.1" fill="#5068b0" fill-opacity="0.62"/>
<rect x="387.6" y="281.6" width="1.1" height="1.1" fill="#5068b0" fill-opacity="0.62"/>
<rect x="385.4" y="281.1" width="1.1" height="1.1" fill="#5068b0" fill-opacity="0.62"/>
<rect x="389.9" y="280.8" width="1.1" height="1.1" fill="#5068b0" fill-opacity="0.62"/>
<rect x="367.4" y="280.8" width="1.1" height="1.1" fill="#5068b0" fill-opacity="0.62"/>
<rect x="366.2" y="280.0" width="1.1" height="1.1" fill="#5068b0" fill-opacity="0.62"/>
<rect x="374.4" y="282.7" width="1.1" height="1.1" fill="#5068b0" fill-opacity="0.62"/>
<rect x="376.2" y="280.7" width="1.1" height="1.1" fill="#5068b0" fill-opacity="0.62"/>
<rect x="366.0" y="280.0" width="1.1" height="1.1" fill="#5068b0" fill-opacity="0.62"/>
<rect x="371.7" y="281.4" width="1.1" height="1.1" fill="#5068b0" fill-opacity="0.62"/>
<rect x="371.7" y="280.9" width="1.1" height="1.1" fill="#5068b0" fill-opacity="0.62"/>
<rect x="389.8" y="281.0" width="1.1" height="1.1" fill="#5068b0" fill-opacity="0.62"/>
<rect x="372.3" y="278.9" width="1.1" height="1.1" fill="#5068b0" fill-opacity="0.62"/>
<rect x="396.9" y="280.1" width="1.1" height="1.1" fill="#5068b0" fill-opacity="0.62"/>
<rect x="394.2" y="279.3" width="1.1" height="1.1" fill="#5068b0" fill-opacity="0.62"/>
<rect x="374.2" y="281.1" width="1.1" height="1.1" fill="#5068b0" fill-opacity="0.62"/>
<rect x="394.9" y="280.2" width="1.1" height="1.1" fill="#5068b0" fill-opacity="0.62"/>
<rect x="381.4" y="281.2" width="1.1" height="1.1" fill="#5068b0" fill-opacity="0.62"/>
<rect x="386.2" y="282.3" width="1.1" height="1.1" fill="#5068b0" fill-opacity="0.62"/>
<rect x="395.9" y="280.6" width="1.1" height="1.1" fill="#5068b0" fill-opacity="0.62"/>
<rect x="375.7" y="280.4" width="1.1" height="1.1" fill="#5068b0" fill-opacity="0.62"/>
<rect x="388.8" y="281.5" width="1.1" height="1.1" fill="#5068b0" fill-opacity="0.62"/>
<rect x="366.9" y="279.6" width="1.1" height="1.1" fill="#5068b0" fill-opacity="0.62"/>
<rect x="378.7" y="280.9" width="1.1" height="1.1" fill="#5068b0" fill-opacity="0.62"/>
<rect x="398.7" y="279.7" width="1.1" height="1.1" fill="#5068b0" fill-opacity="0.62"/>
<rect x="378.8" y="280.3" width="1.1" height="1.1" fill="#5068b0" fill-opacity="0.62"/>
<rect x="399.4" y="281.5" width="1.1" height="1.1" fill="#5068b0" fill-opacity="0.62"/>
<rect x="373.6" y="281.2" width="1.1" height="1.1" fill="#5068b0" fill-opacity="0.62"/>
<rect x="386.3" y="279.6" width="1.1" height="1.1" fill="#5068b0" fill-opacity="0.62"/>
<rect x="372.5" y="279.1" width="1.1" height="1.1" fill="#5068b0" fill-opacity="0.62"/>
<rect x="369.4" y="279.9" width="1.1" height="1.1" fill="#5068b0" fill-opacity="0.62"/>
<rect x="380.8" y="280.5" width="1.1" height="1.1" fill="#5068b0" fill-opacity="0.62"/>
<rect x="385.5" y="281.4" width="1.1" height="1.1" fill="#5068b0" fill-opacity="0.62"/>
<rect x="378.3" y="280.8" width="1.1" height="1.1" fill="#5068b0" fill-opacity="0.62"/>
<rect x="399.8" y="280.2" width="1.1" height="1.1" fill="#5068b0" fill-opacity="0.62"/>
<rect x="396.6" y="280.6" width="1.1" height="1.1" fill="#5068b0" fill-opacity="0.62"/>
<rect x="393.5" y="280.3" width="1.0" height="1.0" fill="#7088c8" fill-opacity="0.5"/>
<rect x="382.9" y="278.7" width="1.0" height="1.0" fill="#7088c8" fill-opacity="0.5"/>
<rect x="399.2" y="282.0" width="1.0" height="1.0" fill="#7088c8" fill-opacity="0.5"/>
<rect x="385.9" y="279.7" width="1.0" height="1.0" fill="#7088c8" fill-opacity="0.5"/>
<rect x="371.2" y="280.6" width="1.0" height="1.0" fill="#7088c8" fill-opacity="0.5"/>
<rect x="391.8" y="280.3" width="1.0" height="1.0" fill="#7088c8" fill-opacity="0.5"/>
<rect x="376.8" y="277.9" width="1.0" height="1.0" fill="#7088c8" fill-opacity="0.5"/>
<rect x="389.1" y="280.7" width="1.0" height="1.0" fill="#7088c8" fill-opacity="0.5"/>
<rect x="393.9" y="283.4" width="1.0" height="1.0" fill="#7088c8" fill-opacity="0.5"/>
<rect x="387.9" y="280.5" width="1.0" height="1.0" fill="#7088c8" fill-opacity="0.5"/>
<rect x="369.9" y="280.2" width="1.0" height="1.0" fill="#7088c8" fill-opacity="0.5"/>
<rect x="387.6" y="278.0" width="1.0" height="1.0" fill="#7088c8" fill-opacity="0.5"/>
<rect x="376.8" y="280.4" width="1.0" height="1.0" fill="#7088c8" fill-opacity="0.5"/>
<rect x="396.2" y="281.4" width="1.0" height="1.0" fill="#7088c8" fill-opacity="0.5"/>
<rect x="385.2" y="281.5" width="1.0" height="1.0" fill="#7088c8" fill-opacity="0.5"/>
<rect x="375.1" y="280.6" width="1.0" height="1.0" fill="#7088c8" fill-opacity="0.5"/>
<rect x="393.4" y="280.8" width="1.0" height="1.0" fill="#7088c8" fill-opacity="0.5"/>
<rect x="379.8" y="281.4" width="1.0" height="1.0" fill="#7088c8" fill-opacity="0.5"/>
<rect x="391.3" y="280.2" width="1.0" height="1.0" fill="#7088c8" fill-opacity="0.5"/>
<rect x="388.5" y="278.6" width="1.0" height="1.0" fill="#7088c8" fill-opacity="0.5"/>
<rect x="391.7" y="282.0" width="1.0" height="1.0" fill="#7088c8" fill-opacity="0.5"/>
<rect x="399.0" y="279.6" width="1.0" height="1.0" fill="#7088c8" fill-opacity="0.5"/>
<rect x="393.7" y="282.3" width="1.0" height="1.0" fill="#7088c8" fill-opacity="0.5"/>
<rect x="379.1" y="279.6" width="1.0" height="1.0" fill="#7088c8" fill-opacity="0.5"/>
<rect x="373.0" y="282.5" width="1.0" height="1.0" fill="#7088c8" fill-opacity="0.5"/>
<rect x="395.5" y="280.8" width="1.0" height="1.0" fill="#7088c8" fill-opacity="0.5"/>
<rect x="378.6" y="282.0" width="1.0" height="1.0" fill="#7088c8" fill-opacity="0.5"/>
<rect x="381.1" y="279.5" width="1.0" height="1.0" fill="#7088c8" fill-opacity="0.5"/>
<rect x="388.9" y="279.2" width="1.0" height="1.0" fill="#7088c8" fill-opacity="0.5"/>
<rect x="370.6" y="281.6" width="1.0" height="1.0" fill="#7088c8" fill-opacity="0.5"/>
<rect x="387.2" y="280.6" width="1.0" height="1.0" fill="#7088c8" fill-opacity="0.5"/>
<rect x="372.0" y="281.5" width="1.0" height="1.0" fill="#7088c8" fill-opacity="0.5"/>
<rect x="377.1" y="280.3" width="1.0" height="1.0" fill="#7088c8" fill-opacity="0.5"/>
<rect x="397.6" y="279.6" width="1.0" height="1.0" fill="#7088c8" fill-opacity="0.5"/>
<rect x="389.5" y="281.9" width="1.0" height="1.0" fill="#7088c8" fill-opacity="0.5"/>
<rect x="389.0" y="281.9" width="1.0" height="1.0" fill="#7088c8" fill-opacity="0.5"/>
<rect x="390.2" y="281.7" width="1.0" height="1.0" fill="#7088c8" fill-opacity="0.5"/>
<rect x="369.7" y="280.3" width="1.0" height="1.0" fill="#7088c8" fill-opacity="0.5"/>
<rect x="381.8" y="280.2" width="1.0" height="1.0" fill="#7088c8" fill-opacity="0.5"/>
<rect x="377.1" y="280.4" width="1.0" height="1.0" fill="#7088c8" fill-opacity="0.5"/>
<rect x="373.0" y="279.7" width="1.0" height="1.0" fill="#7088c8" fill-opacity="0.5"/>
<rect x="386.2" y="282.0" width="1.0" height="1.0" fill="#7088c8" fill-opacity="0.5"/>
<rect x="381.2" y="282.3" width="1.0" height="1.0" fill="#7088c8" fill-opacity="0.5"/>
<rect x="387.7" y="280.1" width="1.0" height="1.0" fill="#7088c8" fill-opacity="0.5"/>
<rect x="375.6" y="282.5" width="1.0" height="1.0" fill="#7088c8" fill-opacity="0.5"/>
<rect x="388.8" y="280.8" width="1.0" height="1.0" fill="#7088c8" fill-opacity="0.5"/>
<rect x="388.3" y="279.4" width="1.0" height="1.0" fill="#7088c8" fill-opacity="0.5"/>
<rect x="370.8" y="281.1" width="1.0" height="1.0" fill="#7088c8" fill-opacity="0.5"/>
<rect x="385.8" y="281.3" width="1.0" height="1.0" fill="#7088c8" fill-opacity="0.5"/>
<rect x="381.0" y="280.5" width="1.0" height="1.0" fill="#7088c8" fill-opacity="0.5"/>
<rect x="376.3" y="279.6" width="1.0" height="1.0" fill="#7088c8" fill-opacity="0.5"/>
<rect x="374.4" y="281.2" width="1.0" height="1.0" fill="#7088c8" fill-opacity="0.5"/>
<rect x="380.4" y="281.5" width="1.0" height="1.0" fill="#7088c8" fill-opacity="0.5"/>
<rect x="371.5" y="279.9" width="1.0" height="1.0" fill="#7088c8" fill-opacity="0.5"/>
<rect x="377.8" y="278.8" width="1.0" height="1.0" fill="#7088c8" fill-opacity="0.5"/>
<rect x="376.7" y="279.0" width="1.0" height="1.0" fill="#7088c8" fill-opacity="0.5"/>
<rect x="388.9" y="281.9" width="1.0" height="1.0" fill="#7088c8" fill-opacity="0.5"/>
<rect x="373.7" y="282.2" width="1.0" height="1.0" fill="#7088c8" fill-opacity="0.5"/>
<rect x="379.8" y="282.9" width="1.0" height="1.0" fill="#7088c8" fill-opacity="0.5"/>
<rect x="387.3" y="280.5" width="1.0" height="1.0" fill="#7088c8" fill-opacity="0.5"/>
<rect x="407.2" y="280.9" width="1.0" height="1.0" fill="#3c7ab0" fill-opacity="0.55"/>
<rect x="412.4" y="281.4" width="1.0" height="1.0" fill="#3c7ab0" fill-opacity="0.55"/>
<rect x="403.3" y="280.0" width="1.0" height="1.0" fill="#3c7ab0" fill-opacity="0.55"/>
<rect x="422.2" y="280.3" width="1.0" height="1.0" fill="#3c7ab0" fill-opacity="0.55"/>
<rect x="421.3" y="279.6" width="1.0" height="1.0" fill="#3c7ab0" fill-opacity="0.55"/>
<rect x="420.2" y="280.9" width="1.0" height="1.0" fill="#3c7ab0" fill-opacity="0.55"/>
<rect x="403.9" y="281.3" width="1.0" height="1.0" fill="#3c7ab0" fill-opacity="0.55"/>
<rect x="426.2" y="280.4" width="1.0" height="1.0" fill="#3c7ab0" fill-opacity="0.55"/>
<rect x="402.2" y="281.2" width="1.0" height="1.0" fill="#3c7ab0" fill-opacity="0.55"/>
<rect x="412.1" y="278.2" width="1.0" height="1.0" fill="#3c7ab0" fill-opacity="0.55"/>
<rect x="421.2" y="280.9" width="1.0" height="1.0" fill="#3c7ab0" fill-opacity="0.55"/>
<rect x="408.6" y="279.7" width="1.0" height="1.0" fill="#3c7ab0" fill-opacity="0.55"/>
<rect x="418.1" y="281.4" width="1.0" height="1.0" fill="#3c7ab0" fill-opacity="0.55"/>
<rect x="423.5" y="281.9" width="1.0" height="1.0" fill="#3c7ab0" fill-opacity="0.55"/>
<rect x="424.6" y="281.5" width="1.0" height="1.0" fill="#3c7ab0" fill-opacity="0.55"/>
<rect x="408.1" y="281.3" width="1.0" height="1.0" fill="#3c7ab0" fill-opacity="0.55"/>
<rect x="408.9" y="280.5" width="1.0" height="1.0" fill="#3c7ab0" fill-opacity="0.55"/>
<rect x="404.0" y="283.8" width="1.0" height="1.0" fill="#3c7ab0" fill-opacity="0.55"/>
<rect x="419.8" y="279.5" width="1.0" height="1.0" fill="#3c7ab0" fill-opacity="0.55"/>
<rect x="423.1" y="279.3" width="1.0" height="1.0" fill="#3c7ab0" fill-opacity="0.55"/>
<rect x="410.0" y="280.4" width="1.0" height="1.0" fill="#3c7ab0" fill-opacity="0.55"/>
<rect x="404.5" y="281.7" width="1.0" height="1.0" fill="#3c7ab0" fill-opacity="0.55"/>
<rect x="411.9" y="279.9" width="1.0" height="1.0" fill="#3c7ab0" fill-opacity="0.55"/>
<rect x="418.4" y="279.2" width="1.0" height="1.0" fill="#3c7ab0" fill-opacity="0.55"/>
<rect x="415.9" y="281.9" width="1.0" height="1.0" fill="#3c7ab0" fill-opacity="0.55"/>
<rect x="408.4" y="279.0" width="1.0" height="1.0" fill="#3c7ab0" fill-opacity="0.55"/>
<rect x="407.4" y="279.6" width="1.0" height="1.0" fill="#3c7ab0" fill-opacity="0.55"/>
<rect x="415.8" y="280.5" width="1.0" height="1.0" fill="#3c7ab0" fill-opacity="0.55"/>
<rect x="408.0" y="280.0" width="1.0" height="1.0" fill="#3c7ab0" fill-opacity="0.55"/>
<rect x="420.9" y="280.4" width="1.0" height="1.0" fill="#3c7ab0" fill-opacity="0.55"/>
<rect x="417.9" y="279.2" width="1.0" height="1.0" fill="#3c7ab0" fill-opacity="0.55"/>
<rect x="406.7" y="280.9" width="1.0" height="1.0" fill="#3c7ab0" fill-opacity="0.55"/>
<rect x="425.4" y="279.8" width="1.0" height="1.0" fill="#3c7ab0" fill-opacity="0.55"/>
<rect x="418.2" y="280.9" width="1.0" height="1.0" fill="#3c7ab0" fill-opacity="0.55"/>
<rect x="423.1" y="281.0" width="1.0" height="1.0" fill="#3c7ab0" fill-opacity="0.55"/>
<rect x="414.2" y="280.5" width="1.0" height="1.0" fill="#3c7ab0" fill-opacity="0.55"/>
<rect x="416.6" y="279.6" width="1.0" height="1.0" fill="#3c7ab0" fill-opacity="0.55"/>
<rect x="411.0" y="280.2" width="1.0" height="1.0" fill="#3c7ab0" fill-opacity="0.55"/>
<rect x="416.7" y="280.3" width="1.0" height="1.0" fill="#3c7ab0" fill-opacity="0.55"/>
<rect x="418.7" y="279.9" width="1.0" height="1.0" fill="#3c7ab0" fill-opacity="0.55"/>
<rect x="417.2" y="279.7" width="1.0" height="1.0" fill="#3c7ab0" fill-opacity="0.55"/>
<rect x="414.2" y="279.5" width="1.0" height="1.0" fill="#3c7ab0" fill-opacity="0.55"/>
<rect x="402.2" y="278.4" width="1.0" height="1.0" fill="#3c7ab0" fill-opacity="0.55"/>
<rect x="421.5" y="281.3" width="1.0" height="1.0" fill="#3c7ab0" fill-opacity="0.55"/>
<rect x="405.9" y="279.3" width="1.0" height="1.0" fill="#3c7ab0" fill-opacity="0.55"/>
<rect x="418.3" y="280.7" width="1.0" height="1.0" fill="#3c7ab0" fill-opacity="0.55"/>
<rect x="408.2" y="279.7" width="1.0" height="1.0" fill="#3c7ab0" fill-opacity="0.55"/>
<rect x="419.6" y="280.1" width="1.0" height="1.0" fill="#3c7ab0" fill-opacity="0.55"/>
<rect x="421.0" y="279.1" width="1.0" height="1.0" fill="#3c7ab0" fill-opacity="0.55"/>
<rect x="424.4" y="280.1" width="1.0" height="1.0" fill="#3c7ab0" fill-opacity="0.55"/>
<rect x="417.9" y="280.9" width="1.0" height="1.0" fill="#3c7ab0" fill-opacity="0.55"/>
<rect x="416.5" y="280.3" width="1.0" height="1.0" fill="#3c7ab0" fill-opacity="0.55"/>
<rect x="418.6" y="278.7" width="1.0" height="1.0" fill="#3c7ab0" fill-opacity="0.55"/>
<rect x="415.1" y="281.3" width="1.0" height="1.0" fill="#3c7ab0" fill-opacity="0.55"/>
<rect x="406.4" y="280.0" width="1.0" height="1.0" fill="#3c7ab0" fill-opacity="0.55"/>
<rect x="417.7" y="279.6" width="1.0" height="1.0" fill="#3c7ab0" fill-opacity="0.55"/>
<rect x="410.7" y="280.9" width="1.0" height="1.0" fill="#3c7ab0" fill-opacity="0.55"/>
<rect x="418.4" y="280.2" width="1.0" height="1.0" fill="#3c7ab0" fill-opacity="0.55"/>
<rect x="407.9" y="280.4" width="1.0" height="1.0" fill="#3c7ab0" fill-opacity="0.55"/>
<rect x="422.4" y="281.5" width="1.0" height="1.0" fill="#3c7ab0" fill-opacity="0.55"/>
<rect x="425.0" y="281.8" width="1.0" height="1.0" fill="#3c7ab0" fill-opacity="0.55"/>
<rect x="413.4" y="280.9" width="1.0" height="1.0" fill="#3c7ab0" fill-opacity="0.55"/>
<rect x="404.0" y="278.7" width="1.0" height="1.0" fill="#3c7ab0" fill-opacity="0.55"/>
<rect x="405.5" y="279.4" width="1.0" height="1.0" fill="#3c7ab0" fill-opacity="0.55"/>
<rect x="410.2" y="281.7" width="1.0" height="1.0" fill="#3c7ab0" fill-opacity="0.55"/>
<rect x="423.0" y="281.3" width="1.0" height="1.0" fill="#3c7ab0" fill-opacity="0.55"/>
<rect x="424.5" y="279.4" width="1.0" height="1.0" fill="#3c7ab0" fill-opacity="0.55"/>
<rect x="410.8" y="281.4" width="1.0" height="1.0" fill="#3c7ab0" fill-opacity="0.55"/>
<rect x="412.2" y="279.9" width="1.0" height="1.0" fill="#3c7ab0" fill-opacity="0.55"/>
<rect x="402.8" y="279.8" width="1.0" height="1.0" fill="#3c7ab0" fill-opacity="0.55"/>
<rect x="415.0" y="279.9" width="1.0" height="1.0" fill="#3c7ab0" fill-opacity="0.55"/>
<rect x="408.7" y="281.4" width="1.0" height="1.0" fill="#3c7ab0" fill-opacity="0.55"/>
<rect x="412.1" y="280.7" width="1.0" height="1.0" fill="#3c7ab0" fill-opacity="0.55"/>
<rect x="422.8" y="281.4" width="1.0" height="1.0" fill="#3c7ab0" fill-opacity="0.55"/>
<rect x="413.6" y="280.9" width="1.0" height="1.0" fill="#3c7ab0" fill-opacity="0.55"/>
<rect x="408.2" y="280.1" width="1.0" height="1.0" fill="#3c7ab0" fill-opacity="0.55"/>
<rect x="415.0" y="279.8" width="1.0" height="1.0" fill="#3c7ab0" fill-opacity="0.55"/>
<rect x="403.9" y="281.1" width="1.0" height="1.0" fill="#3c7ab0" fill-opacity="0.55"/>
<rect x="425.5" y="280.3" width="1.0" height="1.0" fill="#3c7ab0" fill-opacity="0.55"/>
<rect x="416.7" y="280.0" width="1.0" height="1.0" fill="#3c7ab0" fill-opacity="0.55"/>
<rect x="412.0" y="279.9" width="1.0" height="1.0" fill="#3c7ab0" fill-opacity="0.55"/>
<rect x="418.6" y="282.9" width="1.0" height="1.0" fill="#3c7ab0" fill-opacity="0.55"/>
<rect x="424.7" y="279.6" width="1.0" height="1.0" fill="#3c7ab0" fill-opacity="0.55"/>
<rect x="403.5" y="278.6" width="1.0" height="1.0" fill="#3c7ab0" fill-opacity="0.55"/>
<rect x="404.4" y="280.0" width="1.0" height="1.0" fill="#3c7ab0" fill-opacity="0.55"/>
<rect x="425.6" y="279.2" width="1.0" height="1.0" fill="#3c7ab0" fill-opacity="0.55"/>
<rect x="425.3" y="279.2" width="1.0" height="1.0" fill="#3c7ab0" fill-opacity="0.55"/>
<rect x="404.0" y="280.8" width="1.0" height="1.0" fill="#3c7ab0" fill-opacity="0.55"/>
<rect x="407.3" y="281.3" width="1.0" height="1.0" fill="#3c7ab0" fill-opacity="0.55"/>
<rect x="409.3" y="281.6" width="1.0" height="1.0" fill="#3c7ab0" fill-opacity="0.55"/>
<rect x="411.1" y="281.8" width="1.0" height="1.0" fill="#3c7ab0" fill-opacity="0.55"/>
<rect x="401.6" y="279.6" width="1.0" height="1.0" fill="#3c7ab0" fill-opacity="0.55"/>
<rect x="405.7" y="280.8" width="1.0" height="1.0" fill="#3c7ab0" fill-opacity="0.55"/>
<rect x="404.3" y="280.9" width="1.0" height="1.0" fill="#3c7ab0" fill-opacity="0.55"/>
<rect x="423.4" y="280.3" width="1.0" height="1.0" fill="#3c7ab0" fill-opacity="0.55"/>
<rect x="405.4" y="279.1" width="1.0" height="1.0" fill="#3c7ab0" fill-opacity="0.55"/>
<rect x="409.8" y="281.5" width="1.0" height="1.0" fill="#3c7ab0" fill-opacity="0.55"/>
<rect x="408.5" y="283.0" width="1.0" height="1.0" fill="#3c7ab0" fill-opacity="0.55"/>
<rect x="402.7" y="280.1" width="1.0" height="1.0" fill="#3c7ab0" fill-opacity="0.55"/>
<rect x="403.4" y="279.4" width="1.0" height="1.0" fill="#3c7ab0" fill-opacity="0.55"/>
<rect x="415.3" y="281.3" width="1.0" height="1.0" fill="#3c7ab0" fill-opacity="0.55"/>
<rect x="411.5" y="280.3" width="1.0" height="1.0" fill="#3c7ab0" fill-opacity="0.55"/>
<rect x="424.5" y="280.6" width="1.0" height="1.0" fill="#3c7ab0" fill-opacity="0.55"/>
<rect x="424.3" y="278.5" width="1.0" height="1.0" fill="#3c7ab0" fill-opacity="0.55"/>
<rect x="406.0" y="279.5" width="1.0" height="1.0" fill="#3c7ab0" fill-opacity="0.55"/>
<rect x="411.9" y="280.4" width="1.0" height="1.0" fill="#3c7ab0" fill-opacity="0.55"/>
<rect x="420.9" y="281.4" width="1.0" height="1.0" fill="#3c7ab0" fill-opacity="0.55"/>
<rect x="405.4" y="280.1" width="1.0" height="1.0" fill="#3c7ab0" fill-opacity="0.55"/>
<rect x="412.9" y="280.5" width="1.0" height="1.0" fill="#3c7ab0" fill-opacity="0.55"/>
<rect x="411.9" y="280.7" width="1.0" height="1.0" fill="#3c7ab0" fill-opacity="0.55"/>
<rect x="424.1" y="282.5" width="1.1" height="1.1" fill="#44ac38" fill-opacity="0.8"/>
<rect x="410.2" y="281.0" width="1.1" height="1.1" fill="#44ac38" fill-opacity="0.8"/>
<rect x="422.3" y="280.4" width="1.1" height="1.1" fill="#44ac38" fill-opacity="0.8"/>
<rect x="411.1" y="281.2" width="1.1" height="1.1" fill="#44ac38" fill-opacity="0.8"/>
<rect x="408.9" y="279.8" width="1.1" height="1.1" fill="#44ac38" fill-opacity="0.8"/>
<rect x="417.3" y="281.1" width="1.1" height="1.1" fill="#44ac38" fill-opacity="0.8"/>
<rect x="410.7" y="281.3" width="1.1" height="1.1" fill="#44ac38" fill-opacity="0.8"/>
<rect x="422.8" y="282.3" width="1.1" height="1.1" fill="#44ac38" fill-opacity="0.8"/>
<rect x="424.2" y="281.3" width="1.1" height="1.1" fill="#44ac38" fill-opacity="0.8"/>
<rect x="415.6" y="281.5" width="1.1" height="1.1" fill="#44ac38" fill-opacity="0.8"/>
<rect x="410.1" y="281.3" width="1.1" height="1.1" fill="#44ac38" fill-opacity="0.8"/>
<rect x="422.4" y="282.0" width="1.1" height="1.1" fill="#44ac38" fill-opacity="0.8"/>
<rect x="415.2" y="281.3" width="1.1" height="1.1" fill="#44ac38" fill-opacity="0.8"/>
<rect x="410.0" y="281.5" width="1.1" height="1.1" fill="#44ac38" fill-opacity="0.8"/>
<rect x="417.6" y="281.3" width="1.1" height="1.1" fill="#44ac38" fill-opacity="0.8"/>
<rect x="415.6" y="281.6" width="1.1" height="1.1" fill="#44ac38" fill-opacity="0.8"/>
<rect x="415.8" y="282.6" width="1.1" height="1.1" fill="#44ac38" fill-opacity="0.8"/>
<rect x="421.3" y="281.1" width="1.1" height="1.1" fill="#44ac38" fill-opacity="0.8"/>
<rect x="421.1" y="280.8" width="1.1" height="1.1" fill="#44ac38" fill-opacity="0.8"/>
<rect x="425.0" y="281.5" width="1.1" height="1.1" fill="#44ac38" fill-opacity="0.8"/>
<rect x="423.7" y="281.3" width="1.1" height="1.1" fill="#44ac38" fill-opacity="0.8"/>
<rect x="410.5" y="280.9" width="1.1" height="1.1" fill="#44ac38" fill-opacity="0.8"/>
<rect x="414.8" y="280.7" width="1.1" height="1.1" fill="#44ac38" fill-opacity="0.8"/>
<rect x="419.2" y="281.0" width="1.1" height="1.1" fill="#44ac38" fill-opacity="0.8"/>
<rect x="408.5" y="281.0" width="1.1" height="1.1" fill="#44ac38" fill-opacity="0.8"/>
<rect x="406.3" y="282.3" width="1.1" height="1.1" fill="#44ac38" fill-opacity="0.8"/>
<rect x="413.1" y="279.6" width="1.1" height="1.1" fill="#44ac38" fill-opacity="0.8"/>
<rect x="408.9" y="280.5" width="1.1" height="1.1" fill="#44ac38" fill-opacity="0.8"/>
<rect x="423.7" y="280.4" width="1.1" height="1.1" fill="#44ac38" fill-opacity="0.8"/>
<rect x="419.4" y="280.7" width="1.1" height="1.1" fill="#44ac38" fill-opacity="0.8"/>
<rect x="425.1" y="280.3" width="1.1" height="1.1" fill="#44ac38" fill-opacity="0.8"/>
<rect x="416.1" y="281.1" width="1.1" height="1.1" fill="#44ac38" fill-opacity="0.8"/>
<rect x="421.0" y="280.9" width="1.1" height="1.1" fill="#44ac38" fill-opacity="0.8"/>
<rect x="406.8" y="281.3" width="1.1" height="1.1" fill="#44ac38" fill-opacity="0.8"/>
<rect x="419.4" y="282.4" width="1.1" height="1.1" fill="#44ac38" fill-opacity="0.8"/>
<rect x="424.1" y="280.8" width="1.1" height="1.1" fill="#44ac38" fill-opacity="0.8"/>
<rect x="421.6" y="281.0" width="1.1" height="1.1" fill="#44ac38" fill-opacity="0.8"/>
<rect x="409.6" y="282.0" width="1.1" height="1.1" fill="#44ac38" fill-opacity="0.8"/>
<rect x="416.8" y="281.4" width="1.1" height="1.1" fill="#44ac38" fill-opacity="0.8"/>
<rect x="405.7" y="280.4" width="1.1" height="1.1" fill="#44ac38" fill-opacity="0.8"/>
<rect x="413.8" y="282.3" width="1.1" height="1.1" fill="#44ac38" fill-opacity="0.8"/>
<rect x="416.5" y="281.8" width="1.1" height="1.1" fill="#44ac38" fill-opacity="0.8"/>
<rect x="410.3" y="280.5" width="1.1" height="1.1" fill="#44ac38" fill-opacity="0.8"/>
<rect x="411.8" y="281.4" width="1.1" height="1.1" fill="#44ac38" fill-opacity="0.8"/>
<rect x="415.8" y="280.7" width="1.1" height="1.1" fill="#44ac38" fill-opacity="0.8"/>
<rect x="408.1" y="281.5" width="1.1" height="1.1" fill="#44ac38" fill-opacity="0.8"/>
<rect x="417.9" y="281.3" width="1.1" height="1.1" fill="#44ac38" fill-opacity="0.8"/>
<rect x="407.9" y="280.2" width="1.1" height="1.1" fill="#44ac38" fill-opacity="0.8"/>
<rect x="412.3" y="281.0" width="1.1" height="1.1" fill="#44ac38" fill-opacity="0.8"/>
<rect x="418.6" y="280.9" width="1.1" height="1.1" fill="#44ac38" fill-opacity="0.8"/>
<rect x="415.5" y="281.7" width="1.1" height="1.1" fill="#44ac38" fill-opacity="0.8"/>
<rect x="411.4" y="282.1" width="1.1" height="1.1" fill="#44ac38" fill-opacity="0.8"/>
<rect x="411.8" y="281.1" width="1.1" height="1.1" fill="#44ac38" fill-opacity="0.8"/>
<rect x="407.0" y="281.8" width="1.1" height="1.1" fill="#44ac38" fill-opacity="0.8"/>
<rect x="414.5" y="281.6" width="1.1" height="1.1" fill="#44ac38" fill-opacity="0.8"/>
<rect x="411.7" y="281.3" width="1.1" height="1.1" fill="#44ac38" fill-opacity="0.8"/>
<rect x="407.8" y="279.8" width="1.1" height="1.1" fill="#44ac38" fill-opacity="0.8"/>
<rect x="421.6" y="281.1" width="1.1" height="1.1" fill="#44ac38" fill-opacity="0.8"/>
<rect x="420.3" y="282.0" width="1.1" height="1.1" fill="#44ac38" fill-opacity="0.8"/>
<rect x="421.9" y="280.7" width="1.1" height="1.1" fill="#44ac38" fill-opacity="0.8"/>
<rect x="420.7" y="280.0" width="1.1" height="1.1" fill="#44ac38" fill-opacity="0.8"/>
<rect x="420.4" y="281.7" width="1.1" height="1.1" fill="#44ac38" fill-opacity="0.8"/>
<rect x="422.7" y="282.4" width="1.1" height="1.1" fill="#44ac38" fill-opacity="0.8"/>
<rect x="407.7" y="281.0" width="1.1" height="1.1" fill="#44ac38" fill-opacity="0.8"/>
<rect x="408.3" y="281.7" width="1.1" height="1.1" fill="#44ac38" fill-opacity="0.8"/>
<rect x="418.0" y="282.0" width="1.1" height="1.1" fill="#44ac38" fill-opacity="0.8"/>
<rect x="417.6" y="281.8" width="1.1" height="1.1" fill="#44ac38" fill-opacity="0.8"/>
<rect x="413.8" y="281.6" width="1.1" height="1.1" fill="#44ac38" fill-opacity="0.8"/>
<rect x="415.3" y="280.2" width="1.1" height="1.1" fill="#44ac38" fill-opacity="0.8"/>
<rect x="409.7" y="282.3" width="1.1" height="1.1" fill="#44ac38" fill-opacity="0.8"/>
<rect x="412.4" y="280.6" width="1.1" height="1.1" fill="#44ac38" fill-opacity="0.8"/>
<rect x="420.6" y="280.4" width="1.1" height="1.1" fill="#44ac38" fill-opacity="0.8"/>
<rect x="409.1" y="280.8" width="1.1" height="1.1" fill="#44ac38" fill-opacity="0.8"/>
<rect x="414.0" y="282.1" width="1.1" height="1.1" fill="#44ac38" fill-opacity="0.8"/>
<rect x="406.3" y="282.0" width="1.1" height="1.1" fill="#44ac38" fill-opacity="0.8"/>
<rect x="416.4" y="281.5" width="1.1" height="1.1" fill="#44ac38" fill-opacity="0.8"/>
<rect x="417.4" y="280.5" width="1.1" height="1.1" fill="#44ac38" fill-opacity="0.8"/>
<rect x="415.2" y="280.9" width="1.1" height="1.1" fill="#44ac38" fill-opacity="0.8"/>
<rect x="424.7" y="281.5" width="1.1" height="1.1" fill="#44ac38" fill-opacity="0.8"/>
<rect x="418.0" y="282.2" width="1.1" height="1.1" fill="#44ac38" fill-opacity="0.8"/>
<rect x="415.0" y="280.8" width="1.1" height="1.1" fill="#44ac38" fill-opacity="0.8"/>
<rect x="419.5" y="280.6" width="1.1" height="1.1" fill="#44ac38" fill-opacity="0.8"/>
<rect x="422.9" y="280.3" width="1.1" height="1.1" fill="#44ac38" fill-opacity="0.8"/>
<rect x="418.4" y="281.3" width="1.1" height="1.1" fill="#44ac38" fill-opacity="0.8"/>
<rect x="412.8" y="279.9" width="1.1" height="1.1" fill="#44ac38" fill-opacity="0.8"/>
<rect x="407.3" y="281.9" width="1.1" height="1.1" fill="#44ac38" fill-opacity="0.8"/>
<rect x="405.6" y="282.1" width="1.1" height="1.1" fill="#44ac38" fill-opacity="0.8"/>
<rect x="407.3" y="280.0" width="1.1" height="1.1" fill="#44ac38" fill-opacity="0.8"/>
<rect x="411.1" y="281.7" width="1.1" height="1.1" fill="#44ac38" fill-opacity="0.8"/>
<rect x="412.4" y="280.5" width="1.1" height="1.1" fill="#44ac38" fill-opacity="0.8"/>
<rect x="424.7" y="282.4" width="1.1" height="1.1" fill="#44ac38" fill-opacity="0.8"/>
<rect x="421.3" y="281.5" width="1.1" height="1.1" fill="#44ac38" fill-opacity="0.8"/>
<rect x="415.6" y="282.6" width="1.1" height="1.1" fill="#44ac38" fill-opacity="0.8"/>
<rect x="424.9" y="280.8" width="1.1" height="1.1" fill="#44ac38" fill-opacity="0.8"/>
<rect x="419.4" y="281.7" width="1.1" height="1.1" fill="#44ac38" fill-opacity="0.8"/>
<rect x="416.7" y="282.0" width="1.1" height="1.1" fill="#44ac38" fill-opacity="0.8"/>
<rect x="424.0" y="279.8" width="1.1" height="1.1" fill="#44ac38" fill-opacity="0.8"/>
<rect x="418.8" y="280.8" width="1.1" height="1.1" fill="#44ac38" fill-opacity="0.8"/>
<rect x="409.9" y="281.1" width="1.1" height="1.1" fill="#44ac38" fill-opacity="0.8"/>
<rect x="409.9" y="281.5" width="1.1" height="1.1" fill="#44ac38" fill-opacity="0.8"/>
<rect x="407.7" y="281.3" width="1.1" height="1.1" fill="#44ac38" fill-opacity="0.8"/>
<rect x="419.2" y="281.0" width="1.1" height="1.1" fill="#44ac38" fill-opacity="0.8"/>
<rect x="417.8" y="281.0" width="1.1" height="1.1" fill="#44ac38" fill-opacity="0.8"/>
<rect x="412.3" y="281.6" width="1.1" height="1.1" fill="#44ac38" fill-opacity="0.8"/>
<rect x="414.3" y="281.3" width="1.1" height="1.1" fill="#44ac38" fill-opacity="0.8"/>
<rect x="421.8" y="280.8" width="1.1" height="1.1" fill="#44ac38" fill-opacity="0.8"/>
<rect x="424.3" y="281.5" width="1.1" height="1.1" fill="#44ac38" fill-opacity="0.8"/>
<rect x="414.9" y="281.9" width="1.1" height="1.1" fill="#44ac38" fill-opacity="0.8"/>
<rect x="407.3" y="281.4" width="1.1" height="1.1" fill="#44ac38" fill-opacity="0.8"/>
<rect x="415.2" y="281.1" width="1.1" height="1.1" fill="#44ac38" fill-opacity="0.8"/>
<rect x="407.2" y="282.7" width="1.1" height="1.1" fill="#44ac38" fill-opacity="0.8"/>
<rect x="424.1" y="282.3" width="1.1" height="1.1" fill="#44ac38" fill-opacity="0.8"/>
<rect x="406.7" y="281.1" width="1.1" height="1.1" fill="#44ac38" fill-opacity="0.8"/>
<rect x="416.1" y="281.9" width="1.1" height="1.1" fill="#44ac38" fill-opacity="0.8"/>
<rect x="407.4" y="281.6" width="1.1" height="1.1" fill="#44ac38" fill-opacity="0.8"/>
<rect x="424.0" y="280.7" width="1.1" height="1.1" fill="#44ac38" fill-opacity="0.8"/>
<rect x="409.9" y="279.8" width="1.1" height="1.1" fill="#44ac38" fill-opacity="0.8"/>
<rect x="407.0" y="281.6" width="1.1" height="1.1" fill="#44ac38" fill-opacity="0.8"/>
<rect x="417.2" y="281.1" width="1.1" height="1.1" fill="#44ac38" fill-opacity="0.8"/>
<rect x="413.8" y="281.5" width="1.1" height="1.1" fill="#44ac38" fill-opacity="0.8"/>
<rect x="421.6" y="281.8" width="1.1" height="1.1" fill="#44ac38" fill-opacity="0.8"/>
<rect x="423.7" y="281.4" width="1.1" height="1.1" fill="#44ac38" fill-opacity="0.8"/>
<rect x="421.6" y="281.0" width="1.1" height="1.1" fill="#44ac38" fill-opacity="0.8"/>
<rect x="422.6" y="281.4" width="1.1" height="1.1" fill="#44ac38" fill-opacity="0.8"/>
<rect x="413.8" y="280.6" width="1.1" height="1.1" fill="#44ac38" fill-opacity="0.8"/>
<rect x="417.4" y="281.6" width="1.1" height="1.1" fill="#44ac38" fill-opacity="0.8"/>
<rect x="414.2" y="280.0" width="1.1" height="1.1" fill="#44ac38" fill-opacity="0.8"/>
<rect x="411.6" y="281.3" width="1.1" height="1.1" fill="#44ac38" fill-opacity="0.8"/>
<rect x="410.9" y="280.8" width="1.1" height="1.1" fill="#44ac38" fill-opacity="0.8"/>
<rect x="416.2" y="282.8" width="1.1" height="1.1" fill="#44ac38" fill-opacity="0.8"/>
<rect x="412.8" y="281.0" width="1.1" height="1.1" fill="#44ac38" fill-opacity="0.8"/>
<rect x="417.1" y="281.3" width="1.1" height="1.1" fill="#44ac38" fill-opacity="0.8"/>
<rect x="421.4" y="282.1" width="1.1" height="1.1" fill="#44ac38" fill-opacity="0.8"/>
<rect x="405.6" y="281.8" width="1.1" height="1.1" fill="#44ac38" fill-opacity="0.8"/>
<rect x="420.6" y="281.5" width="1.1" height="1.1" fill="#44ac38" fill-opacity="0.8"/>
<rect x="421.5" y="281.7" width="1.1" height="1.1" fill="#44ac38" fill-opacity="0.8"/>
<rect x="417.4" y="281.2" width="1.1" height="1.1" fill="#44ac38" fill-opacity="0.8"/>
<rect x="405.6" y="281.1" width="1.1" height="1.1" fill="#44ac38" fill-opacity="0.8"/>
<rect x="416.2" y="281.6" width="1.1" height="1.1" fill="#44ac38" fill-opacity="0.8"/>
<rect x="413.5" y="281.9" width="1.1" height="1.1" fill="#44ac38" fill-opacity="0.8"/>
<rect x="422.1" y="281.1" width="1.1" height="1.1" fill="#44ac38" fill-opacity="0.8"/>
<rect x="413.2" y="281.0" width="1.1" height="1.1" fill="#44ac38" fill-opacity="0.8"/>
<rect x="410.8" y="279.8" width="1.1" height="1.1" fill="#44ac38" fill-opacity="0.8"/>
<rect x="419.4" y="282.4" width="1.1" height="1.1" fill="#44ac38" fill-opacity="0.8"/>
<rect x="421.2" y="281.6" width="1.1" height="1.1" fill="#44ac38" fill-opacity="0.8"/>
<rect x="424.6" y="281.7" width="1.1" height="1.1" fill="#44ac38" fill-opacity="0.8"/>
<rect x="423.4" y="281.7" width="1.1" height="1.1" fill="#44ac38" fill-opacity="0.8"/>
<rect x="425.2" y="280.5" width="1.1" height="1.1" fill="#44ac38" fill-opacity="0.8"/>
<rect x="423.9" y="281.9" width="1.1" height="1.1" fill="#44ac38" fill-opacity="0.8"/>
<rect x="416.2" y="280.1" width="1.1" height="1.1" fill="#44ac38" fill-opacity="0.8"/>
<rect x="402.0" y="273.6" width="0.9" height="0.9" fill="#a8b4e0" fill-opacity="0.5"/>
<rect x="373.4" y="274.4" width="0.9" height="0.9" fill="#a8b4e0" fill-opacity="0.5"/>
<rect x="365.0" y="269.4" width="0.9" height="0.9" fill="#a8b4e0" fill-opacity="0.5"/>
<rect x="382.6" y="273.6" width="0.9" height="0.9" fill="#a8b4e0" fill-opacity="0.5"/>
<rect x="424.6" y="278.6" width="0.9" height="0.9" fill="#a8b4e0" fill-opacity="0.5"/>
<rect x="407.0" y="276.3" width="0.9" height="0.9" fill="#a8b4e0" fill-opacity="0.5"/>
<rect x="419.5" y="274.7" width="0.9" height="0.9" fill="#a8b4e0" fill-opacity="0.5"/>
<rect x="424.5" y="276.9" width="0.9" height="0.9" fill="#a8b4e0" fill-opacity="0.5"/>
<rect x="389.9" y="275.7" width="0.9" height="0.9" fill="#a8b4e0" fill-opacity="0.5"/>
<rect x="428.9" y="270.6" width="0.9" height="0.9" fill="#a8b4e0" fill-opacity="0.5"/>
<rect x="392.0" y="267.5" width="0.9" height="0.9" fill="#a8b4e0" fill-opacity="0.5"/>
<rect x="404.0" y="276.0" width="0.9" height="0.9" fill="#a8b4e0" fill-opacity="0.5"/>
<rect x="411.5" y="274.0" width="0.9" height="0.9" fill="#a8b4e0" fill-opacity="0.5"/>
<rect x="381.2" y="276.2" width="0.9" height="0.9" fill="#a8b4e0" fill-opacity="0.5"/>
<rect x="376.0" y="274.5" width="0.9" height="0.9" fill="#a8b4e0" fill-opacity="0.5"/>
<rect x="395.5" y="276.4" width="0.9" height="0.9" fill="#a8b4e0" fill-opacity="0.5"/>
<rect x="418.6" y="274.3" width="0.9" height="0.9" fill="#a8b4e0" fill-opacity="0.5"/>
<rect x="398.1" y="274.2" width="0.9" height="0.9" fill="#a8b4e0" fill-opacity="0.5"/>
<rect x="376.7" y="274.3" width="0.9" height="0.9" fill="#a8b4e0" fill-opacity="0.5"/>
<rect x="399.7" y="274.8" width="0.9" height="0.9" fill="#a8b4e0" fill-opacity="0.5"/>
<rect x="373.5" y="278.4" width="0.9" height="0.9" fill="#a8b4e0" fill-opacity="0.5"/>
<rect x="413.8" y="277.8" width="0.9" height="0.9" fill="#a8b4e0" fill-opacity="0.5"/>
<rect x="422.0" y="271.0" width="0.9" height="0.9" fill="#a8b4e0" fill-opacity="0.5"/>
<rect x="377.8" y="277.3" width="0.9" height="0.9" fill="#a8b4e0" fill-opacity="0.5"/>
<rect x="425.7" y="271.0" width="0.9" height="0.9" fill="#a8b4e0" fill-opacity="0.5"/>
<rect x="408.5" y="277.9" width="0.9" height="0.9" fill="#a8b4e0" fill-opacity="0.5"/>
<rect x="384.3" y="277.2" width="0.9" height="0.9" fill="#a8b4e0" fill-opacity="0.5"/>
<rect x="427.0" y="276.6" width="0.9" height="0.9" fill="#a8b4e0" fill-opacity="0.5"/>
<rect x="430.9" y="267.3" width="0.9" height="0.9" fill="#a8b4e0" fill-opacity="0.5"/>
<rect x="408.7" y="275.2" width="0.9" height="0.9" fill="#a8b4e0" fill-opacity="0.5"/>
<rect x="371.2" y="277.2" width="0.9" height="0.9" fill="#a8b4e0" fill-opacity="0.5"/>
<rect x="423.1" y="277.4" width="0.9" height="0.9" fill="#a8b4e0" fill-opacity="0.5"/>
<rect x="401.3" y="275.0" width="0.9" height="0.9" fill="#a8b4e0" fill-opacity="0.5"/>
<rect x="425.3" y="277.4" width="0.9" height="0.9" fill="#a8b4e0" fill-opacity="0.5"/>
<rect x="403.4" y="275.5" width="0.9" height="0.9" fill="#a8b4e0" fill-opacity="0.5"/>
<rect x="425.4" y="275.4" width="0.9" height="0.9" fill="#a8b4e0" fill-opacity="0.5"/>
<rect x="415.7" y="272.2" width="0.9" height="0.9" fill="#a8b4e0" fill-opacity="0.5"/>
<rect x="411.5" y="276.9" width="0.9" height="0.9" fill="#a8b4e0" fill-opacity="0.5"/>
<rect x="414.3" y="276.2" width="0.9" height="0.9" fill="#a8b4e0" fill-opacity="0.5"/>
<rect x="428.3" y="275.8" width="0.9" height="0.9" fill="#a8b4e0" fill-opacity="0.5"/>
<ellipse cx="363.6" cy="281.2" rx="2.9" ry="3.0" fill="#62a02a" fill-opacity="1"/>
<ellipse cx="363.4" cy="281.2" rx="1.5" ry="1.4" fill="#e0c81c" fill-opacity="0.95"/>
<ellipse cx="368.4" cy="281.2" rx="2.2" ry="1.6" fill="#2d5868" fill-opacity="0.85"/>
<rect x="422.4" y="274.3" width="1.1" height="1.1" fill="#4558b0" fill-opacity="0.64"/>
<rect x="421.4" y="238.8" width="1.1" height="1.1" fill="#5870c0" fill-opacity="0.64"/>
<rect x="423.8" y="243.2" width="1.1" height="1.1" fill="#4558b0" fill-opacity="0.64"/>
<rect x="419.9" y="241.3" width="1.1" height="1.1" fill="#4558b0" fill-opacity="0.64"/>
<rect x="425.9" y="277.8" width="1.1" height="1.1" fill="#5870c0" fill-opacity="0.64"/>
<rect x="423.8" y="277.7" width="1.1" height="1.1" fill="#9aa6dc" fill-opacity="0.64"/>
<rect x="419.9" y="235.0" width="1.1" height="1.1" fill="#34449a" fill-opacity="0.64"/>
<rect x="423.9" y="251.6" width="1.1" height="1.1" fill="#34449a" fill-opacity="0.64"/>
<rect x="426.3" y="277.5" width="1.1" height="1.1" fill="#5870c0" fill-opacity="0.64"/>
<rect x="422.0" y="250.0" width="1.1" height="1.1" fill="#5870c0" fill-opacity="0.64"/>
<rect x="423.3" y="262.9" width="1.1" height="1.1" fill="#9aa6dc" fill-opacity="0.64"/>
<rect x="425.5" y="250.4" width="1.1" height="1.1" fill="#7a8ad0" fill-opacity="0.64"/>
<rect x="421.1" y="278.4" width="1.1" height="1.1" fill="#7a8ad0" fill-opacity="0.64"/>
<rect x="423.5" y="275.4" width="1.1" height="1.1" fill="#5870c0" fill-opacity="0.64"/>
<rect x="421.3" y="244.8" width="1.1" height="1.1" fill="#4558b0" fill-opacity="0.64"/>
<rect x="421.6" y="252.8" width="1.1" height="1.1" fill="#9aa6dc" fill-opacity="0.64"/>
<rect x="421.9" y="274.3" width="1.1" height="1.1" fill="#4558b0" fill-opacity="0.64"/>
<rect x="424.0" y="268.2" width="1.1" height="1.1" fill="#4558b0" fill-opacity="0.64"/>
<rect x="427.5" y="267.8" width="1.1" height="1.1" fill="#9aa6dc" fill-opacity="0.64"/>
<rect x="422.2" y="239.6" width="1.1" height="1.1" fill="#5870c0" fill-opacity="0.64"/>
<rect x="425.2" y="256.1" width="1.1" height="1.1" fill="#5870c0" fill-opacity="0.64"/>
<rect x="415.9" y="263.0" width="1.1" height="1.1" fill="#4558b0" fill-opacity="0.64"/>
<rect x="421.0" y="256.3" width="1.1" height="1.1" fill="#9aa6dc" fill-opacity="0.64"/>
<rect x="421.5" y="267.1" width="1.1" height="1.1" fill="#4558b0" fill-opacity="0.64"/>
<rect x="424.0" y="278.4" width="1.1" height="1.1" fill="#5870c0" fill-opacity="0.64"/>
<rect x="418.8" y="256.7" width="1.1" height="1.1" fill="#4558b0" fill-opacity="0.64"/>
<rect x="425.4" y="247.4" width="1.1" height="1.1" fill="#5870c0" fill-opacity="0.64"/>
<rect x="422.3" y="250.8" width="1.1" height="1.1" fill="#9aa6dc" fill-opacity="0.64"/>
<rect x="417.6" y="268.8" width="1.1" height="1.1" fill="#5870c0" fill-opacity="0.64"/>
<rect x="428.9" y="269.1" width="1.1" height="1.1" fill="#4558b0" fill-opacity="0.64"/>
<rect x="424.5" y="251.7" width="1.1" height="1.1" fill="#5870c0" fill-opacity="0.64"/>
<rect x="423.8" y="248.9" width="1.1" height="1.1" fill="#4558b0" fill-opacity="0.64"/>
<rect x="417.7" y="256.5" width="1.1" height="1.1" fill="#34449a" fill-opacity="0.64"/>
<rect x="425.0" y="255.3" width="1.1" height="1.1" fill="#7a8ad0" fill-opacity="0.64"/>
<rect x="421.6" y="257.5" width="1.1" height="1.1" fill="#9aa6dc" fill-opacity="0.64"/>
<rect x="424.6" y="269.7" width="1.1" height="1.1" fill="#34449a" fill-opacity="0.64"/>
<rect x="424.6" y="268.2" width="1.1" height="1.1" fill="#9aa6dc" fill-opacity="0.64"/>
<rect x="419.6" y="267.5" width="1.1" height="1.1" fill="#5870c0" fill-opacity="0.64"/>
<rect x="421.4" y="267.8" width="1.1" height="1.1" fill="#9aa6dc" fill-opacity="0.64"/>
<rect x="426.7" y="275.6" width="1.1" height="1.1" fill="#34449a" fill-opacity="0.64"/>
<rect x="423.8" y="249.1" width="1.1" height="1.1" fill="#4558b0" fill-opacity="0.64"/>
<rect x="422.9" y="243.7" width="1.1" height="1.1" fill="#9aa6dc" fill-opacity="0.64"/>
<rect x="424.3" y="247.2" width="1.1" height="1.1" fill="#9aa6dc" fill-opacity="0.64"/>
<rect x="425.4" y="264.0" width="1.1" height="1.1" fill="#5870c0" fill-opacity="0.64"/>
<rect x="425.2" y="275.5" width="1.1" height="1.1" fill="#34449a" fill-opacity="0.64"/>
<rect x="421.9" y="277.5" width="1.1" height="1.1" fill="#5870c0" fill-opacity="0.64"/>
<rect x="426.0" y="266.3" width="1.1" height="1.1" fill="#34449a" fill-opacity="0.64"/>
<rect x="423.9" y="276.6" width="1.1" height="1.1" fill="#7a8ad0" fill-opacity="0.64"/>
<rect x="420.7" y="269.7" width="1.1" height="1.1" fill="#9aa6dc" fill-opacity="0.64"/>
<rect x="421.5" y="235.0" width="1.1" height="1.1" fill="#34449a" fill-opacity="0.64"/>
<rect x="420.6" y="240.2" width="1.1" height="1.1" fill="#4558b0" fill-opacity="0.64"/>
<rect x="425.4" y="262.0" width="1.1" height="1.1" fill="#9aa6dc" fill-opacity="0.64"/>
<rect x="424.6" y="237.5" width="1.1" height="1.1" fill="#9aa6dc" fill-opacity="0.64"/>
<rect x="425.8" y="257.1" width="1.1" height="1.1" fill="#7a8ad0" fill-opacity="0.64"/>
<rect x="425.7" y="277.4" width="1.1" height="1.1" fill="#5870c0" fill-opacity="0.64"/>
<rect x="419.6" y="242.7" width="1.1" height="1.1" fill="#5870c0" fill-opacity="0.64"/>
<rect x="422.2" y="278.1" width="1.1" height="1.1" fill="#9aa6dc" fill-opacity="0.64"/>
<rect x="421.8" y="278.4" width="1.1" height="1.1" fill="#5870c0" fill-opacity="0.64"/>
<rect x="426.0" y="252.4" width="1.1" height="1.1" fill="#5870c0" fill-opacity="0.64"/>
<rect x="425.2" y="268.6" width="1.1" height="1.1" fill="#9aa6dc" fill-opacity="0.64"/>
<rect x="418.0" y="275.8" width="1.1" height="1.1" fill="#34449a" fill-opacity="0.64"/>
<rect x="421.9" y="251.9" width="1.1" height="1.1" fill="#34449a" fill-opacity="0.64"/>
<rect x="422.8" y="267.8" width="1.1" height="1.1" fill="#7a8ad0" fill-opacity="0.64"/>
<rect x="420.5" y="239.2" width="1.1" height="1.1" fill="#4558b0" fill-opacity="0.64"/>
<rect x="422.5" y="236.6" width="1.1" height="1.1" fill="#9aa6dc" fill-opacity="0.64"/>
<rect x="414.5" y="261.8" width="1.1" height="1.1" fill="#5870c0" fill-opacity="0.64"/>
<rect x="425.6" y="274.6" width="1.1" height="1.1" fill="#9aa6dc" fill-opacity="0.64"/>
<rect x="423.6" y="266.1" width="1.1" height="1.1" fill="#34449a" fill-opacity="0.64"/>
<rect x="422.9" y="270.9" width="1.1" height="1.1" fill="#4558b0" fill-opacity="0.64"/>
<rect x="422.7" y="274.7" width="1.1" height="1.1" fill="#9aa6dc" fill-opacity="0.64"/>
<rect x="417.9" y="264.8" width="1.1" height="1.1" fill="#34449a" fill-opacity="0.64"/>
<rect x="427.1" y="269.5" width="1.1" height="1.1" fill="#7a8ad0" fill-opacity="0.64"/>
<rect x="423.0" y="259.7" width="1.1" height="1.1" fill="#9aa6dc" fill-opacity="0.64"/>
<rect x="422.9" y="255.4" width="1.1" height="1.1" fill="#9aa6dc" fill-opacity="0.64"/>
<rect x="422.0" y="277.7" width="1.1" height="1.1" fill="#7a8ad0" fill-opacity="0.64"/>
<rect x="420.7" y="271.9" width="1.1" height="1.1" fill="#7a8ad0" fill-opacity="0.64"/>
<rect x="421.1" y="261.0" width="1.1" height="1.1" fill="#7a8ad0" fill-opacity="0.64"/>
<rect x="422.5" y="259.2" width="1.1" height="1.1" fill="#4558b0" fill-opacity="0.64"/>
<rect x="423.5" y="244.8" width="1.1" height="1.1" fill="#7a8ad0" fill-opacity="0.64"/>
<rect x="421.0" y="270.0" width="1.1" height="1.1" fill="#4558b0" fill-opacity="0.64"/>
<rect x="426.5" y="278.4" width="1.1" height="1.1" fill="#34449a" fill-opacity="0.64"/>
<rect x="420.2" y="277.8" width="1.1" height="1.1" fill="#5870c0" fill-opacity="0.64"/>
<rect x="423.5" y="272.1" width="1.1" height="1.1" fill="#34449a" fill-opacity="0.64"/>
<rect x="420.8" y="259.6" width="1.1" height="1.1" fill="#4558b0" fill-opacity="0.64"/>
<rect x="425.6" y="275.8" width="1.1" height="1.1" fill="#5870c0" fill-opacity="0.64"/>
<rect x="424.8" y="244.7" width="1.1" height="1.1" fill="#7a8ad0" fill-opacity="0.64"/>
<rect x="423.5" y="257.5" width="1.1" height="1.1" fill="#9aa6dc" fill-opacity="0.64"/>
<rect x="420.4" y="258.6" width="1.1" height="1.1" fill="#9aa6dc" fill-opacity="0.64"/>
<rect x="421.1" y="272.0" width="1.1" height="1.1" fill="#5870c0" fill-opacity="0.64"/>
<rect x="422.9" y="272.6" width="1.1" height="1.1" fill="#7a8ad0" fill-opacity="0.64"/>
<rect x="423.4" y="275.8" width="1.1" height="1.1" fill="#4558b0" fill-opacity="0.64"/>
<rect x="420.8" y="260.8" width="1.1" height="1.1" fill="#34449a" fill-opacity="0.64"/>
<rect x="423.8" y="265.0" width="1.1" height="1.1" fill="#5870c0" fill-opacity="0.64"/>
<rect x="422.8" y="241.4" width="1.1" height="1.1" fill="#5870c0" fill-opacity="0.64"/>
<rect x="422.5" y="235.5" width="1.1" height="1.1" fill="#5870c0" fill-opacity="0.64"/>
<rect x="423.2" y="237.9" width="1.1" height="1.1" fill="#7a8ad0" fill-opacity="0.64"/>
<rect x="422.5" y="234.7" width="1.1" height="1.1" fill="#34449a" fill-opacity="0.64"/>
<rect x="425.3" y="245.7" width="1.1" height="1.1" fill="#9aa6dc" fill-opacity="0.64"/>
<rect x="417.2" y="244.1" width="1.1" height="1.1" fill="#4558b0" fill-opacity="0.64"/>
<rect x="425.4" y="275.4" width="1.1" height="1.1" fill="#7a8ad0" fill-opacity="0.64"/>
<rect x="422.3" y="278.2" width="1.1" height="1.1" fill="#9aa6dc" fill-opacity="0.64"/>
<rect x="427.6" y="275.4" width="1.1" height="1.1" fill="#34449a" fill-opacity="0.64"/>
<rect x="419.7" y="263.4" width="1.1" height="1.1" fill="#7a8ad0" fill-opacity="0.64"/>
<rect x="424.6" y="252.2" width="1.1" height="1.1" fill="#5870c0" fill-opacity="0.64"/>
<rect x="423.4" y="241.0" width="1.1" height="1.1" fill="#7a8ad0" fill-opacity="0.64"/>
<rect x="425.2" y="269.1" width="1.1" height="1.1" fill="#7a8ad0" fill-opacity="0.64"/>
<rect x="422.7" y="277.5" width="1.1" height="1.1" fill="#7a8ad0" fill-opacity="0.64"/>
<rect x="419.6" y="270.2" width="1.1" height="1.1" fill="#5870c0" fill-opacity="0.64"/>
<rect x="424.6" y="247.6" width="1.1" height="1.1" fill="#7a8ad0" fill-opacity="0.64"/>
<rect x="422.1" y="241.3" width="1.1" height="1.1" fill="#34449a" fill-opacity="0.64"/>
<rect x="415.3" y="269.7" width="1.1" height="1.1" fill="#9aa6dc" fill-opacity="0.64"/>
<rect x="419.8" y="260.9" width="1.1" height="1.1" fill="#7a8ad0" fill-opacity="0.64"/>
<rect x="419.7" y="258.6" width="1.1" height="1.1" fill="#4558b0" fill-opacity="0.64"/>
<rect x="421.9" y="248.3" width="1.1" height="1.1" fill="#5870c0" fill-opacity="0.64"/>
<rect x="422.1" y="244.9" width="1.1" height="1.1" fill="#5870c0" fill-opacity="0.64"/>
<rect x="416.9" y="261.0" width="1.1" height="1.1" fill="#4558b0" fill-opacity="0.64"/>
<rect x="424.4" y="237.6" width="1.1" height="1.1" fill="#7a8ad0" fill-opacity="0.64"/>
<rect x="425.4" y="252.3" width="1.1" height="1.1" fill="#4558b0" fill-opacity="0.64"/>
<rect x="419.0" y="275.4" width="1.1" height="1.1" fill="#4558b0" fill-opacity="0.64"/>
<rect x="422.3" y="275.4" width="1.1" height="1.1" fill="#4558b0" fill-opacity="0.64"/>
<rect x="425.0" y="255.9" width="1.1" height="1.1" fill="#7a8ad0" fill-opacity="0.64"/>
<rect x="420.1" y="244.7" width="1.1" height="1.1" fill="#9aa6dc" fill-opacity="0.64"/>
<rect x="419.9" y="257.1" width="1.1" height="1.1" fill="#4558b0" fill-opacity="0.64"/>
<rect x="419.9" y="278.2" width="1.1" height="1.1" fill="#34449a" fill-opacity="0.64"/>
<rect x="426.1" y="264.3" width="1.1" height="1.1" fill="#9aa6dc" fill-opacity="0.64"/>
<rect x="417.9" y="277.3" width="1.1" height="1.1" fill="#7a8ad0" fill-opacity="0.64"/>
<rect x="420.2" y="277.8" width="1.1" height="1.1" fill="#9aa6dc" fill-opacity="0.64"/>
<rect x="421.5" y="273.2" width="1.1" height="1.1" fill="#7a8ad0" fill-opacity="0.64"/>
<rect x="421.5" y="273.0" width="1.1" height="1.1" fill="#5870c0" fill-opacity="0.64"/>
<rect x="423.0" y="274.9" width="1.1" height="1.1" fill="#4558b0" fill-opacity="0.64"/>
<rect x="421.5" y="267.7" width="1.1" height="1.1" fill="#7a8ad0" fill-opacity="0.64"/>
<rect x="423.6" y="239.6" width="1.1" height="1.1" fill="#9aa6dc" fill-opacity="0.64"/>
<rect x="420.8" y="270.6" width="1.1" height="1.1" fill="#7a8ad0" fill-opacity="0.64"/>
<rect x="421.2" y="271.4" width="1.1" height="1.1" fill="#7a8ad0" fill-opacity="0.64"/>
<rect x="419.4" y="240.7" width="1.1" height="1.1" fill="#9aa6dc" fill-opacity="0.64"/>
<rect x="427.2" y="278.1" width="1.1" height="1.1" fill="#4558b0" fill-opacity="0.64"/>
<rect x="423.0" y="269.4" width="1.1" height="1.1" fill="#9aa6dc" fill-opacity="0.64"/>
<rect x="422.9" y="271.8" width="1.1" height="1.1" fill="#4558b0" fill-opacity="0.64"/>
<rect x="422.7" y="276.5" width="1.1" height="1.1" fill="#5870c0" fill-opacity="0.64"/>
<rect x="421.1" y="270.8" width="1.1" height="1.1" fill="#34449a" fill-opacity="0.64"/>
<rect x="425.6" y="241.1" width="1.1" height="1.1" fill="#7a8ad0" fill-opacity="0.64"/>
<rect x="422.5" y="256.2" width="1.1" height="1.1" fill="#7a8ad0" fill-opacity="0.64"/>
<rect x="420.1" y="255.2" width="1.1" height="1.1" fill="#5870c0" fill-opacity="0.64"/>
<rect x="421.1" y="256.2" width="1.1" height="1.1" fill="#34449a" fill-opacity="0.64"/>
<rect x="419.3" y="271.8" width="1.1" height="1.1" fill="#7a8ad0" fill-opacity="0.64"/>
<rect x="417.7" y="253.1" width="1.1" height="1.1" fill="#7a8ad0" fill-opacity="0.64"/>
<rect x="417.8" y="267.1" width="1.1" height="1.1" fill="#9aa6dc" fill-opacity="0.64"/>
<rect x="424.4" y="270.0" width="1.1" height="1.1" fill="#9aa6dc" fill-opacity="0.64"/>
<rect x="423.9" y="244.8" width="1.1" height="1.1" fill="#9aa6dc" fill-opacity="0.64"/>
<rect x="422.9" y="256.6" width="1.1" height="1.1" fill="#34449a" fill-opacity="0.64"/>
<rect x="417.9" y="275.8" width="1.1" height="1.1" fill="#34449a" fill-opacity="0.64"/>
<rect x="424.2" y="278.2" width="1.1" height="1.1" fill="#5870c0" fill-opacity="0.64"/>
<rect x="420.7" y="260.3" width="1.1" height="1.1" fill="#9aa6dc" fill-opacity="0.64"/>
<rect x="422.9" y="276.9" width="1.1" height="1.1" fill="#7a8ad0" fill-opacity="0.64"/>
<rect x="422.6" y="252.2" width="1.1" height="1.1" fill="#4558b0" fill-opacity="0.64"/>
<rect x="422.2" y="274.1" width="1.1" height="1.1" fill="#7a8ad0" fill-opacity="0.64"/>
<rect x="420.3" y="257.1" width="1.1" height="1.1" fill="#5870c0" fill-opacity="0.64"/>
<rect x="417.9" y="262.5" width="1.1" height="1.1" fill="#7a8ad0" fill-opacity="0.64"/>
<rect x="418.7" y="270.0" width="1.1" height="1.1" fill="#7a8ad0" fill-opacity="0.64"/>
<rect x="423.3" y="270.7" width="1.1" height="1.1" fill="#4558b0" fill-opacity="0.64"/>
<rect x="426.5" y="257.1" width="1.1" height="1.1" fill="#9aa6dc" fill-opacity="0.64"/>
<rect x="421.9" y="248.4" width="1.1" height="1.1" fill="#7a8ad0" fill-opacity="0.64"/>
<rect x="420.6" y="270.2" width="1.1" height="1.1" fill="#9aa6dc" fill-opacity="0.64"/>
<rect x="424.3" y="273.9" width="1.1" height="1.1" fill="#7a8ad0" fill-opacity="0.64"/>
<rect x="416.5" y="235.5" width="1.1" height="1.1" fill="#9aa6dc" fill-opacity="0.64"/>
<rect x="422.7" y="274.8" width="1.1" height="1.1" fill="#5870c0" fill-opacity="0.64"/>
<rect x="425.5" y="276.8" width="1.1" height="1.1" fill="#9aa6dc" fill-opacity="0.64"/>
<rect x="422.8" y="272.4" width="1.1" height="1.1" fill="#5870c0" fill-opacity="0.64"/>
<rect x="419.1" y="234.9" width="1.1" height="1.1" fill="#9aa6dc" fill-opacity="0.64"/>
<rect x="422.9" y="267.3" width="1.1" height="1.1" fill="#9aa6dc" fill-opacity="0.64"/>
<rect x="424.5" y="271.0" width="1.1" height="1.1" fill="#4558b0" fill-opacity="0.64"/>
<rect x="419.8" y="264.5" width="1.1" height="1.1" fill="#5870c0" fill-opacity="0.64"/>
<rect x="419.5" y="248.9" width="1.1" height="1.1" fill="#34449a" fill-opacity="0.64"/>
<rect x="424.5" y="274.6" width="1.1" height="1.1" fill="#7a8ad0" fill-opacity="0.64"/>
<rect x="422.1" y="274.2" width="1.1" height="1.1" fill="#9aa6dc" fill-opacity="0.64"/>
<rect x="421.0" y="272.7" width="1.1" height="1.1" fill="#34449a" fill-opacity="0.64"/>
<rect x="422.6" y="276.8" width="1.1" height="1.1" fill="#7a8ad0" fill-opacity="0.64"/>
<rect x="422.3" y="239.8" width="1.1" height="1.1" fill="#5870c0" fill-opacity="0.64"/>
<rect x="423.8" y="277.1" width="1.1" height="1.1" fill="#34449a" fill-opacity="0.64"/>
<rect x="415.5" y="267.0" width="1.1" height="1.1" fill="#34449a" fill-opacity="0.64"/>
<rect x="424.6" y="242.0" width="1.1" height="1.1" fill="#5870c0" fill-opacity="0.64"/>
<rect x="424.5" y="244.9" width="1.1" height="1.1" fill="#4558b0" fill-opacity="0.64"/>
<rect x="420.6" y="246.3" width="1.1" height="1.1" fill="#9aa6dc" fill-opacity="0.64"/>
<rect x="420.9" y="252.2" width="1.1" height="1.1" fill="#34449a" fill-opacity="0.64"/>
<rect x="423.1" y="258.9" width="1.1" height="1.1" fill="#7a8ad0" fill-opacity="0.64"/>
<rect x="421.8" y="261.8" width="1.1" height="1.1" fill="#34449a" fill-opacity="0.64"/>
<rect x="420.6" y="261.5" width="1.1" height="1.1" fill="#7a8ad0" fill-opacity="0.64"/>
<rect x="423.1" y="264.7" width="1.1" height="1.1" fill="#9aa6dc" fill-opacity="0.64"/>
<rect x="419.4" y="241.0" width="1.1" height="1.1" fill="#7a8ad0" fill-opacity="0.64"/>
<rect x="423.2" y="272.1" width="1.1" height="1.1" fill="#9aa6dc" fill-opacity="0.64"/>
<rect x="420.5" y="250.9" width="1.1" height="1.1" fill="#5870c0" fill-opacity="0.64"/>
<rect x="424.8" y="261.3" width="1.1" height="1.1" fill="#34449a" fill-opacity="0.64"/>
<rect x="420.3" y="256.0" width="1.1" height="1.1" fill="#5870c0" fill-opacity="0.64"/>
<rect x="420.6" y="266.0" width="1.1" height="1.1" fill="#5870c0" fill-opacity="0.64"/>
<rect x="418.8" y="257.5" width="1.1" height="1.1" fill="#9aa6dc" fill-opacity="0.64"/>
<rect x="422.0" y="272.2" width="1.1" height="1.1" fill="#7a8ad0" fill-opacity="0.64"/>
<rect x="429.4" y="249.0" width="1.1" height="1.1" fill="#4558b0" fill-opacity="0.64"/>
<rect x="427.1" y="259.9" width="1.1" height="1.1" fill="#34449a" fill-opacity="0.64"/>
<rect x="423.5" y="236.3" width="1.1" height="1.1" fill="#4558b0" fill-opacity="0.64"/>
<rect x="417.2" y="243.5" width="1.1" height="1.1" fill="#4558b0" fill-opacity="0.64"/>
<rect x="421.1" y="236.7" width="1.1" height="1.1" fill="#5870c0" fill-opacity="0.64"/>
<rect x="425.9" y="269.2" width="1.1" height="1.1" fill="#5870c0" fill-opacity="0.64"/>
<rect x="419.5" y="244.7" width="1.1" height="1.1" fill="#7a8ad0" fill-opacity="0.64"/>
<rect x="419.2" y="256.8" width="1.1" height="1.1" fill="#4558b0" fill-opacity="0.64"/>
<rect x="422.6" y="252.7" width="1.1" height="1.1" fill="#5870c0" fill-opacity="0.64"/>
<rect x="425.2" y="250.2" width="1.1" height="1.1" fill="#5870c0" fill-opacity="0.64"/>
<rect x="421.1" y="238.9" width="1.1" height="1.1" fill="#5870c0" fill-opacity="0.64"/>
<rect x="422.6" y="248.5" width="1.1" height="1.1" fill="#5870c0" fill-opacity="0.64"/>
<rect x="421.5" y="270.8" width="1.1" height="1.1" fill="#7a8ad0" fill-opacity="0.64"/>
<rect x="421.9" y="277.6" width="1.1" height="1.1" fill="#34449a" fill-opacity="0.64"/>
<rect x="421.7" y="260.9" width="1.1" height="1.1" fill="#9aa6dc" fill-opacity="0.64"/>
<rect x="420.8" y="271.2" width="1.1" height="1.1" fill="#4558b0" fill-opacity="0.64"/>
<rect x="425.3" y="268.5" width="1.1" height="1.1" fill="#9aa6dc" fill-opacity="0.64"/>
<rect x="422.4" y="255.0" width="1.1" height="1.1" fill="#34449a" fill-opacity="0.64"/>
<rect x="421.8" y="276.9" width="1.1" height="1.1" fill="#4558b0" fill-opacity="0.64"/>
<rect x="421.6" y="276.2" width="1.1" height="1.1" fill="#4558b0" fill-opacity="0.64"/>
<rect x="423.2" y="259.2" width="1.1" height="1.1" fill="#9aa6dc" fill-opacity="0.64"/>
<rect x="424.5" y="263.6" width="1.1" height="1.1" fill="#7a8ad0" fill-opacity="0.64"/>
<rect x="424.8" y="262.9" width="1.1" height="1.1" fill="#7a8ad0" fill-opacity="0.64"/>
<rect x="419.8" y="263.7" width="1.1" height="1.1" fill="#9aa6dc" fill-opacity="0.64"/>
<rect x="422.5" y="273.5" width="1.1" height="1.1" fill="#9aa6dc" fill-opacity="0.64"/>
<rect x="419.8" y="271.7" width="1.1" height="1.1" fill="#4558b0" fill-opacity="0.64"/>
<rect x="423.9" y="242.6" width="1.1" height="1.1" fill="#9aa6dc" fill-opacity="0.64"/>
<rect x="423.5" y="258.3" width="1.1" height="1.1" fill="#34449a" fill-opacity="0.64"/>
<rect x="418.9" y="278.4" width="1.1" height="1.1" fill="#5870c0" fill-opacity="0.64"/>
<rect x="426.5" y="271.4" width="1.1" height="1.1" fill="#4558b0" fill-opacity="0.64"/>
<rect x="421.3" y="261.6" width="1.1" height="1.1" fill="#34449a" fill-opacity="0.64"/>
<rect x="423.4" y="251.9" width="1.1" height="1.1" fill="#34449a" fill-opacity="0.64"/>
<rect x="424.8" y="277.3" width="1.1" height="1.1" fill="#7a8ad0" fill-opacity="0.64"/>
<rect x="418.1" y="247.4" width="1.1" height="1.1" fill="#4558b0" fill-opacity="0.64"/>
<rect x="420.9" y="246.4" width="1.1" height="1.1" fill="#5870c0" fill-opacity="0.64"/>
<rect x="427.5" y="249.6" width="1.1" height="1.1" fill="#34449a" fill-opacity="0.64"/>
<rect x="424.4" y="241.4" width="1.1" height="1.1" fill="#9aa6dc" fill-opacity="0.64"/>
<rect x="422.7" y="264.3" width="1.1" height="1.1" fill="#9aa6dc" fill-opacity="0.64"/>
<rect x="423.2" y="264.6" width="1.1" height="1.1" fill="#4558b0" fill-opacity="0.64"/>
<rect x="418.9" y="261.6" width="1.1" height="1.1" fill="#9aa6dc" fill-opacity="0.64"/>
<rect x="420.6" y="271.6" width="1.1" height="1.1" fill="#5870c0" fill-opacity="0.64"/>
<rect x="427.8" y="277.0" width="1.1" height="1.1" fill="#34449a" fill-opacity="0.64"/>
<rect x="421.6" y="274.9" width="1.1" height="1.1" fill="#7a8ad0" fill-opacity="0.64"/>
<rect x="421.6" y="243.4" width="1.1" height="1.1" fill="#4558b0" fill-opacity="0.64"/>
<rect x="420.6" y="275.5" width="1.1" height="1.1" fill="#4558b0" fill-opacity="0.64"/>
<rect x="421.6" y="247.8" width="1.1" height="1.1" fill="#5870c0" fill-opacity="0.64"/>
<rect x="427.5" y="253.2" width="1.1" height="1.1" fill="#4558b0" fill-opacity="0.64"/>
<rect x="423.8" y="263.4" width="1.1" height="1.1" fill="#4558b0" fill-opacity="0.64"/>
<rect x="422.7" y="247.1" width="1.1" height="1.1" fill="#9aa6dc" fill-opacity="0.64"/>
<rect x="420.8" y="278.3" width="1.1" height="1.1" fill="#9aa6dc" fill-opacity="0.64"/>
<rect x="420.6" y="256.2" width="1.1" height="1.1" fill="#4558b0" fill-opacity="0.64"/>
<rect x="422.2" y="247.5" width="1.1" height="1.1" fill="#34449a" fill-opacity="0.64"/>
<rect x="419.8" y="260.0" width="1.1" height="1.1" fill="#9aa6dc" fill-opacity="0.64"/>
<rect x="420.6" y="257.4" width="1.1" height="1.1" fill="#5870c0" fill-opacity="0.64"/>
<rect x="424.3" y="265.2" width="1.1" height="1.1" fill="#7a8ad0" fill-opacity="0.64"/>
<rect x="420.6" y="235.3" width="1.1" height="1.1" fill="#9aa6dc" fill-opacity="0.64"/>
<rect x="421.5" y="259.9" width="1.1" height="1.1" fill="#34449a" fill-opacity="0.64"/>
<rect x="422.0" y="271.7" width="1.1" height="1.1" fill="#9aa6dc" fill-opacity="0.64"/>
<rect x="420.4" y="275.0" width="1.1" height="1.1" fill="#7a8ad0" fill-opacity="0.64"/>
<rect x="423.3" y="274.4" width="1.1" height="1.1" fill="#4558b0" fill-opacity="0.64"/>
<rect x="421.6" y="241.1" width="1.1" height="1.1" fill="#5870c0" fill-opacity="0.64"/>
<rect x="424.3" y="277.3" width="1.1" height="1.1" fill="#9aa6dc" fill-opacity="0.64"/>
<rect x="422.6" y="254.7" width="1.1" height="1.1" fill="#9aa6dc" fill-opacity="0.64"/>
<rect x="419.3" y="236.1" width="1.1" height="1.1" fill="#5870c0" fill-opacity="0.64"/>
<rect x="420.0" y="252.4" width="1.1" height="1.1" fill="#7a8ad0" fill-opacity="0.64"/>
<rect x="422.3" y="244.3" width="1.1" height="1.1" fill="#5870c0" fill-opacity="0.64"/>
<rect x="423.3" y="272.3" width="1.1" height="1.1" fill="#34449a" fill-opacity="0.64"/>
<rect x="420.1" y="278.4" width="1.1" height="1.1" fill="#34449a" fill-opacity="0.64"/>
<rect x="417.2" y="253.7" width="1.1" height="1.1" fill="#4558b0" fill-opacity="0.64"/>
<rect x="421.5" y="240.1" width="1.1" height="1.1" fill="#4558b0" fill-opacity="0.64"/>
<rect x="422.4" y="246.4" width="1.1" height="1.1" fill="#7a8ad0" fill-opacity="0.64"/>
<rect x="422.9" y="277.3" width="1.1" height="1.1" fill="#34449a" fill-opacity="0.64"/>
<rect x="420.4" y="267.9" width="1.1" height="1.1" fill="#9aa6dc" fill-opacity="0.64"/>
<rect x="420.2" y="244.0" width="1.1" height="1.1" fill="#7a8ad0" fill-opacity="0.64"/>
<rect x="425.4" y="240.2" width="1.1" height="1.1" fill="#7a8ad0" fill-opacity="0.64"/>
<rect x="419.7" y="261.4" width="1.1" height="1.1" fill="#34449a" fill-opacity="0.64"/>
<rect x="425.5" y="253.1" width="1.1" height="1.1" fill="#4558b0" fill-opacity="0.64"/>
<rect x="421.6" y="235.4" width="1.1" height="1.1" fill="#9aa6dc" fill-opacity="0.64"/>
<rect x="421.7" y="257.1" width="1.1" height="1.1" fill="#5870c0" fill-opacity="0.64"/>
<rect x="419.5" y="250.1" width="1.1" height="1.1" fill="#9aa6dc" fill-opacity="0.64"/>
<rect x="425.8" y="257.8" width="1.1" height="1.1" fill="#9aa6dc" fill-opacity="0.64"/>
<rect x="421.5" y="277.4" width="1.1" height="1.1" fill="#34449a" fill-opacity="0.64"/>
<rect x="429.4" y="252.4" width="1.1" height="1.1" fill="#5870c0" fill-opacity="0.64"/>
<rect x="424.2" y="272.4" width="1.1" height="1.1" fill="#9aa6dc" fill-opacity="0.64"/>
<rect x="424.8" y="255.0" width="1.1" height="1.1" fill="#34449a" fill-opacity="0.64"/>
<rect x="419.5" y="257.3" width="1.1" height="1.1" fill="#7a8ad0" fill-opacity="0.64"/>
<rect x="420.3" y="262.7" width="1.1" height="1.1" fill="#7a8ad0" fill-opacity="0.64"/>
<rect x="425.4" y="248.7" width="1.1" height="1.1" fill="#7a8ad0" fill-opacity="0.64"/>
<rect x="425.3" y="276.0" width="1.1" height="1.1" fill="#5870c0" fill-opacity="0.64"/>
<rect x="423.0" y="244.7" width="1.1" height="1.1" fill="#7a8ad0" fill-opacity="0.64"/>
<rect x="421.1" y="256.0" width="1.1" height="1.1" fill="#34449a" fill-opacity="0.64"/>
<rect x="420.5" y="248.9" width="1.1" height="1.1" fill="#7a8ad0" fill-opacity="0.64"/>
<rect x="420.2" y="273.6" width="1.1" height="1.1" fill="#4558b0" fill-opacity="0.64"/>
<rect x="423.6" y="249.6" width="1.1" height="1.1" fill="#7a8ad0" fill-opacity="0.64"/>
<rect x="421.1" y="269.7" width="1.1" height="1.1" fill="#34449a" fill-opacity="0.64"/>
<rect x="423.9" y="267.3" width="1.1" height="1.1" fill="#7a8ad0" fill-opacity="0.64"/>
<rect x="421.4" y="274.8" width="1.1" height="1.1" fill="#34449a" fill-opacity="0.64"/>
<rect x="420.7" y="271.2" width="1.1" height="1.1" fill="#7a8ad0" fill-opacity="0.64"/>
<rect x="428.0" y="264.5" width="1.1" height="1.1" fill="#5870c0" fill-opacity="0.64"/>
<rect x="421.7" y="243.6" width="1.1" height="1.1" fill="#5870c0" fill-opacity="0.64"/>
<rect x="420.1" y="238.5" width="1.1" height="1.1" fill="#4558b0" fill-opacity="0.64"/>
<rect x="424.1" y="278.1" width="1.1" height="1.1" fill="#9aa6dc" fill-opacity="0.64"/>
<rect x="422.2" y="268.7" width="1.1" height="1.1" fill="#5870c0" fill-opacity="0.64"/>
<rect x="422.3" y="277.1" width="1.1" height="1.1" fill="#5870c0" fill-opacity="0.64"/>
<rect x="422.3" y="278.4" width="1.1" height="1.1" fill="#4558b0" fill-opacity="0.64"/>
<rect x="421.7" y="275.1" width="1.1" height="1.1" fill="#34449a" fill-opacity="0.64"/>
<rect x="420.6" y="272.2" width="1.1" height="1.1" fill="#5870c0" fill-opacity="0.64"/>
<rect x="420.7" y="271.9" width="1.1" height="1.1" fill="#9aa6dc" fill-opacity="0.64"/>
<rect x="424.7" y="269.4" width="1.1" height="1.1" fill="#7a8ad0" fill-opacity="0.64"/>
<rect x="421.9" y="277.4" width="1.1" height="1.1" fill="#4558b0" fill-opacity="0.64"/>
<rect x="419.6" y="244.6" width="1.1" height="1.1" fill="#4558b0" fill-opacity="0.64"/>
<rect x="418.5" y="255.3" width="1.1" height="1.1" fill="#7a8ad0" fill-opacity="0.64"/>
<rect x="422.7" y="266.7" width="1.1" height="1.1" fill="#4558b0" fill-opacity="0.64"/>
<rect x="425.2" y="266.9" width="1.1" height="1.1" fill="#9aa6dc" fill-opacity="0.64"/>
<rect x="426.0" y="248.3" width="1.1" height="1.1" fill="#5870c0" fill-opacity="0.64"/>
<rect x="420.8" y="277.0" width="1.1" height="1.1" fill="#7a8ad0" fill-opacity="0.64"/>
<rect x="424.2" y="252.5" width="1.1" height="1.1" fill="#9aa6dc" fill-opacity="0.64"/>
<rect x="425.0" y="260.9" width="1.1" height="1.1" fill="#9aa6dc" fill-opacity="0.64"/>
<rect x="421.7" y="269.4" width="1.1" height="1.1" fill="#4558b0" fill-opacity="0.64"/>
<rect x="426.5" y="266.1" width="1.1" height="1.1" fill="#4558b0" fill-opacity="0.64"/>
<rect x="416.3" y="253.6" width="1.1" height="1.1" fill="#4558b0" fill-opacity="0.64"/>
<rect x="421.5" y="263.2" width="1.1" height="1.1" fill="#34449a" fill-opacity="0.64"/>
<rect x="419.8" y="234.5" width="1.1" height="1.1" fill="#9aa6dc" fill-opacity="0.64"/>
<rect x="421.4" y="275.1" width="1.1" height="1.1" fill="#4558b0" fill-opacity="0.64"/>
<rect x="420.8" y="274.4" width="1.1" height="1.1" fill="#9aa6dc" fill-opacity="0.64"/>
<rect x="420.5" y="277.8" width="1.1" height="1.1" fill="#34449a" fill-opacity="0.64"/>
<rect x="423.3" y="257.8" width="1.1" height="1.1" fill="#34449a" fill-opacity="0.64"/>
<rect x="420.0" y="270.3" width="1.1" height="1.1" fill="#34449a" fill-opacity="0.64"/>
<rect x="421.7" y="260.2" width="1.1" height="1.1" fill="#4558b0" fill-opacity="0.64"/>
<rect x="425.0" y="267.1" width="1.1" height="1.1" fill="#4558b0" fill-opacity="0.64"/>
<rect x="422.9" y="266.3" width="1.1" height="1.1" fill="#4558b0" fill-opacity="0.64"/>
<rect x="420.0" y="259.3" width="1.1" height="1.1" fill="#4558b0" fill-opacity="0.64"/>
<rect x="423.6" y="257.5" width="1.1" height="1.1" fill="#4558b0" fill-opacity="0.64"/>
<rect x="418.3" y="253.7" width="1.1" height="1.1" fill="#34449a" fill-opacity="0.64"/>
<rect x="420.1" y="263.5" width="1.1" height="1.1" fill="#5870c0" fill-opacity="0.64"/>
<rect x="417.9" y="264.5" width="1.1" height="1.1" fill="#9aa6dc" fill-opacity="0.64"/>
<rect x="421.3" y="243.8" width="1.1" height="1.1" fill="#9aa6dc" fill-opacity="0.64"/>
<rect x="418.7" y="274.6" width="1.1" height="1.1" fill="#5870c0" fill-opacity="0.64"/>
<rect x="422.7" y="236.3" width="1.1" height="1.1" fill="#9aa6dc" fill-opacity="0.64"/>
<rect x="420.1" y="247.5" width="1.1" height="1.1" fill="#5870c0" fill-opacity="0.64"/>
<rect x="422.5" y="266.5" width="1.1" height="1.1" fill="#5870c0" fill-opacity="0.64"/>
<rect x="419.8" y="274.5" width="1.1" height="1.1" fill="#9aa6dc" fill-opacity="0.64"/>
<rect x="423.2" y="251.2" width="1.1" height="1.1" fill="#9aa6dc" fill-opacity="0.64"/>
<rect x="423.4" y="251.7" width="1.1" height="1.1" fill="#4558b0" fill-opacity="0.64"/>
<rect x="426.3" y="241.4" width="1.1" height="1.1" fill="#5870c0" fill-opacity="0.64"/>
<rect x="423.7" y="270.3" width="1.1" height="1.1" fill="#4558b0" fill-opacity="0.64"/>
<rect x="423.2" y="265.2" width="1.1" height="1.1" fill="#5870c0" fill-opacity="0.64"/>
<rect x="424.2" y="260.5" width="1.1" height="1.1" fill="#4558b0" fill-opacity="0.64"/>
<rect x="421.9" y="243.5" width="1.1" height="1.1" fill="#7a8ad0" fill-opacity="0.64"/>
<rect x="419.8" y="262.4" width="1.1" height="1.1" fill="#4558b0" fill-opacity="0.64"/>
<rect x="419.8" y="274.0" width="1.1" height="1.1" fill="#7a8ad0" fill-opacity="0.64"/>
<rect x="422.3" y="263.1" width="1.1" height="1.1" fill="#5870c0" fill-opacity="0.64"/>
<rect x="422.8" y="273.9" width="1.1" height="1.1" fill="#4558b0" fill-opacity="0.64"/>
<rect x="423.2" y="253.0" width="1.1" height="1.1" fill="#34449a" fill-opacity="0.64"/>
<rect x="419.3" y="249.7" width="1.1" height="1.1" fill="#7a8ad0" fill-opacity="0.64"/>
<rect x="418.4" y="238.7" width="1.1" height="1.1" fill="#9aa6dc" fill-opacity="0.64"/>
<rect x="422.4" y="262.8" width="1.1" height="1.1" fill="#34449a" fill-opacity="0.64"/>
<rect x="419.3" y="237.0" width="1.1" height="1.1" fill="#34449a" fill-opacity="0.64"/>
<rect x="422.4" y="249.6" width="1.1" height="1.1" fill="#4558b0" fill-opacity="0.64"/>
<rect x="419.2" y="274.0" width="1.1" height="1.1" fill="#34449a" fill-opacity="0.64"/>
<rect x="423.4" y="274.3" width="1.1" height="1.1" fill="#4558b0" fill-opacity="0.64"/>
<rect x="420.1" y="235.2" width="1.1" height="1.1" fill="#9aa6dc" fill-opacity="0.64"/>
<rect x="424.8" y="276.2" width="1.1" height="1.1" fill="#7a8ad0" fill-opacity="0.64"/>
<rect x="423.1" y="271.4" width="1.1" height="1.1" fill="#5870c0" fill-opacity="0.64"/>
<rect x="423.8" y="251.2" width="1.1" height="1.1" fill="#4558b0" fill-opacity="0.64"/>
<rect x="426.3" y="244.1" width="1.1" height="1.1" fill="#34449a" fill-opacity="0.64"/>
<rect x="424.1" y="235.7" width="1.1" height="1.1" fill="#5870c0" fill-opacity="0.64"/>
<rect x="418.6" y="249.5" width="1.1" height="1.1" fill="#5870c0" fill-opacity="0.64"/>
<rect x="426.8" y="271.0" width="1.1" height="1.1" fill="#34449a" fill-opacity="0.64"/>
<rect x="424.4" y="239.8" width="1.1" height="1.1" fill="#9aa6dc" fill-opacity="0.64"/>
<rect x="418.8" y="245.0" width="1.1" height="1.1" fill="#9aa6dc" fill-opacity="0.64"/>
<rect x="420.6" y="244.2" width="1.1" height="1.1" fill="#5870c0" fill-opacity="0.64"/>
<rect x="425.6" y="261.1" width="1.1" height="1.1" fill="#5870c0" fill-opacity="0.64"/>
<rect x="422.1" y="274.1" width="1.1" height="1.1" fill="#34449a" fill-opacity="0.64"/>
<rect x="424.7" y="257.0" width="1.1" height="1.1" fill="#5870c0" fill-opacity="0.64"/>
<rect x="421.8" y="241.5" width="1.1" height="1.1" fill="#34449a" fill-opacity="0.64"/>
<rect x="421.6" y="247.4" width="1.1" height="1.1" fill="#9aa6dc" fill-opacity="0.64"/>
<rect x="424.5" y="237.8" width="1.1" height="1.1" fill="#9aa6dc" fill-opacity="0.64"/>
<rect x="424.4" y="248.1" width="1.1" height="1.1" fill="#5870c0" fill-opacity="0.64"/>
<rect x="424.9" y="237.0" width="1.1" height="1.1" fill="#34449a" fill-opacity="0.64"/>
<rect x="423.8" y="236.2" width="1.1" height="1.1" fill="#4558b0" fill-opacity="0.64"/>
<rect x="421.4" y="269.0" width="1.1" height="1.1" fill="#4558b0" fill-opacity="0.64"/>
<rect x="420.1" y="238.7" width="1.1" height="1.1" fill="#7a8ad0" fill-opacity="0.64"/>
<rect x="417.2" y="246.6" width="1.1" height="1.1" fill="#4558b0" fill-opacity="0.64"/>
<rect x="423.1" y="254.0" width="1.1" height="1.1" fill="#5870c0" fill-opacity="0.64"/>
<rect x="422.3" y="244.6" width="1.1" height="1.1" fill="#7a8ad0" fill-opacity="0.64"/>
<rect x="420.4" y="254.8" width="1.1" height="1.1" fill="#7a8ad0" fill-opacity="0.64"/>
<rect x="424.4" y="278.1" width="1.1" height="1.1" fill="#9aa6dc" fill-opacity="0.64"/>
<rect x="413.6" y="255.7" width="1.1" height="1.1" fill="#5870c0" fill-opacity="0.64"/>
<rect x="420.2" y="258.3" width="1.1" height="1.1" fill="#9aa6dc" fill-opacity="0.64"/>
<rect x="424.5" y="276.8" width="1.1" height="1.1" fill="#9aa6dc" fill-opacity="0.64"/>
<rect x="425.0" y="262.0" width="1.1" height="1.1" fill="#34449a" fill-opacity="0.64"/>
<rect x="430.4" y="262.1" width="1.1" height="1.1" fill="#7a8ad0" fill-opacity="0.64"/>
<rect x="422.0" y="256.0" width="1.1" height="1.1" fill="#34449a" fill-opacity="0.64"/>
<rect x="428.7" y="266.8" width="1.1" height="1.1" fill="#9aa6dc" fill-opacity="0.64"/>
<rect x="421.7" y="249.3" width="1.1" height="1.1" fill="#9aa6dc" fill-opacity="0.64"/>
<rect x="422.7" y="255.8" width="1.1" height="1.1" fill="#34449a" fill-opacity="0.64"/>
<rect x="420.2" y="267.4" width="1.1" height="1.1" fill="#34449a" fill-opacity="0.64"/>
<rect x="427.0" y="267.7" width="1.1" height="1.1" fill="#4558b0" fill-opacity="0.64"/>
<rect x="428.6" y="252.7" width="1.1" height="1.1" fill="#5870c0" fill-opacity="0.64"/>
<rect x="417.3" y="248.0" width="1.1" height="1.1" fill="#5870c0" fill-opacity="0.64"/>
<rect x="421.5" y="268.2" width="1.1" height="1.1" fill="#34449a" fill-opacity="0.64"/>
<rect x="422.5" y="235.0" width="1.1" height="1.1" fill="#34449a" fill-opacity="0.64"/>
<rect x="424.9" y="269.9" width="1.1" height="1.1" fill="#4558b0" fill-opacity="0.64"/>
<rect x="421.2" y="264.3" width="1.1" height="1.1" fill="#7a8ad0" fill-opacity="0.64"/>
<rect x="425.8" y="263.3" width="1.1" height="1.1" fill="#4558b0" fill-opacity="0.64"/>
<rect x="424.4" y="269.9" width="1.1" height="1.1" fill="#34449a" fill-opacity="0.64"/>
<rect x="423.1" y="276.6" width="1.1" height="1.1" fill="#9aa6dc" fill-opacity="0.64"/>
<rect x="423.3" y="277.0" width="1.1" height="1.1" fill="#7a8ad0" fill-opacity="0.64"/>
<rect x="422.8" y="237.9" width="1.1" height="1.1" fill="#9aa6dc" fill-opacity="0.64"/>
<rect x="422.1" y="267.5" width="1.1" height="1.1" fill="#4558b0" fill-opacity="0.64"/>
<rect x="423.7" y="246.9" width="1.1" height="1.1" fill="#5870c0" fill-opacity="0.64"/>
<rect x="423.2" y="258.0" width="1.1" height="1.1" fill="#4558b0" fill-opacity="0.64"/>
<rect x="423.8" y="266.0" width="1.1" height="1.1" fill="#5870c0" fill-opacity="0.64"/>
<rect x="423.2" y="270.2" width="1.1" height="1.1" fill="#4558b0" fill-opacity="0.64"/>
<rect x="422.2" y="275.9" width="1.1" height="1.1" fill="#4558b0" fill-opacity="0.64"/>
<rect x="420.6" y="262.4" width="1.1" height="1.1" fill="#9aa6dc" fill-opacity="0.64"/>
<rect x="423.5" y="257.1" width="1.1" height="1.1" fill="#5870c0" fill-opacity="0.64"/>
<rect x="423.2" y="275.1" width="1.1" height="1.1" fill="#34449a" fill-opacity="0.64"/>
<rect x="419.6" y="278.3" width="1.1" height="1.1" fill="#5870c0" fill-opacity="0.64"/>
<rect x="424.8" y="244.9" width="1.1" height="1.1" fill="#34449a" fill-opacity="0.64"/>
<rect x="423.6" y="277.5" width="1.1" height="1.1" fill="#9aa6dc" fill-opacity="0.64"/>
<rect x="423.5" y="255.3" width="1.1" height="1.1" fill="#4558b0" fill-opacity="0.64"/>
<rect x="425.4" y="249.5" width="1.1" height="1.1" fill="#34449a" fill-opacity="0.64"/>
<rect x="424.2" y="277.2" width="1.1" height="1.1" fill="#9aa6dc" fill-opacity="0.64"/>
<rect x="425.2" y="257.1" width="1.1" height="1.1" fill="#5870c0" fill-opacity="0.64"/>
<rect x="420.7" y="257.2" width="1.1" height="1.1" fill="#4558b0" fill-opacity="0.64"/>
<rect x="426.5" y="262.0" width="1.1" height="1.1" fill="#9aa6dc" fill-opacity="0.64"/>
<rect x="423.5" y="263.5" width="1.1" height="1.1" fill="#4558b0" fill-opacity="0.64"/>
<rect x="424.2" y="276.6" width="1.1" height="1.1" fill="#5870c0" fill-opacity="0.64"/>
<rect x="421.6" y="272.7" width="1.1" height="1.1" fill="#5870c0" fill-opacity="0.64"/>
<rect x="422.9" y="274.0" width="1.1" height="1.1" fill="#9aa6dc" fill-opacity="0.64"/>
<rect x="423.8" y="273.9" width="1.1" height="1.1" fill="#7a8ad0" fill-opacity="0.64"/>
<rect x="425.8" y="257.7" width="1.1" height="1.1" fill="#4558b0" fill-opacity="0.64"/>
<rect x="422.5" y="256.2" width="1.1" height="1.1" fill="#7a8ad0" fill-opacity="0.64"/>
<rect x="423.0" y="242.1" width="1.1" height="1.1" fill="#7a8ad0" fill-opacity="0.64"/>
<rect x="421.1" y="246.4" width="1.1" height="1.1" fill="#9aa6dc" fill-opacity="0.64"/>
<rect x="418.9" y="255.1" width="1.1" height="1.1" fill="#9aa6dc" fill-opacity="0.64"/>
<rect x="420.6" y="237.8" width="1.1" height="1.1" fill="#34449a" fill-opacity="0.64"/>
<rect x="424.0" y="277.5" width="1.1" height="1.1" fill="#9aa6dc" fill-opacity="0.64"/>
<rect x="421.5" y="262.7" width="1.1" height="1.1" fill="#34449a" fill-opacity="0.64"/>
<rect x="421.4" y="275.2" width="1.1" height="1.1" fill="#9aa6dc" fill-opacity="0.64"/>
<rect x="425.4" y="255.2" width="1.1" height="1.1" fill="#34449a" fill-opacity="0.64"/>
<rect x="422.5" y="274.1" width="1.1" height="1.1" fill="#4558b0" fill-opacity="0.64"/>
<rect x="422.2" y="243.8" width="1.1" height="1.1" fill="#9aa6dc" fill-opacity="0.64"/>
<rect x="422.5" y="262.0" width="1.1" height="1.1" fill="#7a8ad0" fill-opacity="0.64"/>
<rect x="420.6" y="249.5" width="1.1" height="1.1" fill="#5870c0" fill-opacity="0.64"/>
<rect x="422.8" y="267.6" width="1.1" height="1.1" fill="#34449a" fill-opacity="0.64"/>
<rect x="419.9" y="247.1" width="1.1" height="1.1" fill="#34449a" fill-opacity="0.64"/>
<rect x="425.8" y="245.5" width="1.1" height="1.1" fill="#5870c0" fill-opacity="0.64"/>
<rect x="422.3" y="264.5" width="1.1" height="1.1" fill="#5870c0" fill-opacity="0.64"/>
<rect x="423.1" y="261.3" width="1.1" height="1.1" fill="#4558b0" fill-opacity="0.64"/>
<rect x="426.5" y="256.5" width="1.1" height="1.1" fill="#5870c0" fill-opacity="0.64"/>
<rect x="420.0" y="249.1" width="1.1" height="1.1" fill="#5870c0" fill-opacity="0.64"/>
<rect x="419.9" y="239.2" width="1.1" height="1.1" fill="#9aa6dc" fill-opacity="0.64"/>
<rect x="420.2" y="263.2" width="1.1" height="1.1" fill="#34449a" fill-opacity="0.64"/>
<rect x="422.1" y="237.9" width="1.1" height="1.1" fill="#9aa6dc" fill-opacity="0.64"/>
<rect x="424.3" y="257.5" width="1.1" height="1.1" fill="#7a8ad0" fill-opacity="0.64"/>
<rect x="422.3" y="250.5" width="1.1" height="1.1" fill="#7a8ad0" fill-opacity="0.64"/>
<rect x="422.3" y="274.2" width="1.1" height="1.1" fill="#5870c0" fill-opacity="0.64"/>
<rect x="422.0" y="261.3" width="1.1" height="1.1" fill="#5870c0" fill-opacity="0.64"/>
<rect x="420.8" y="236.0" width="1.1" height="1.1" fill="#4558b0" fill-opacity="0.64"/>
<rect x="417.3" y="259.2" width="1.1" height="1.1" fill="#7a8ad0" fill-opacity="0.64"/>
<rect x="424.3" y="260.9" width="1.1" height="1.1" fill="#9aa6dc" fill-opacity="0.64"/>
<rect x="420.4" y="271.2" width="1.1" height="1.1" fill="#34449a" fill-opacity="0.64"/>
<rect x="417.1" y="245.2" width="1.1" height="1.1" fill="#5870c0" fill-opacity="0.64"/>
<rect x="423.4" y="245.6" width="1.1" height="1.1" fill="#7a8ad0" fill-opacity="0.64"/>
<rect x="422.4" y="277.9" width="1.1" height="1.1" fill="#5870c0" fill-opacity="0.64"/>
<rect x="424.0" y="244.9" width="1.1" height="1.1" fill="#5870c0" fill-opacity="0.64"/>
<rect x="421.7" y="240.4" width="1.1" height="1.1" fill="#7a8ad0" fill-opacity="0.64"/>
<rect x="417.3" y="250.1" width="1.1" height="1.1" fill="#4558b0" fill-opacity="0.64"/>
<rect x="419.9" y="277.3" width="1.1" height="1.1" fill="#4558b0" fill-opacity="0.64"/>
<rect x="419.2" y="270.1" width="1.1" height="1.1" fill="#34449a" fill-opacity="0.64"/>
<rect x="419.3" y="261.0" width="1.1" height="1.1" fill="#34449a" fill-opacity="0.64"/>
<rect x="423.9" y="240.0" width="1.1" height="1.1" fill="#4558b0" fill-opacity="0.64"/>
<rect x="416.1" y="243.5" width="1.1" height="1.1" fill="#34449a" fill-opacity="0.64"/>
<rect x="426.8" y="249.2" width="1.1" height="1.1" fill="#34449a" fill-opacity="0.64"/>
<rect x="421.3" y="269.8" width="1.1" height="1.1" fill="#7a8ad0" fill-opacity="0.64"/>
<rect x="421.0" y="270.3" width="1.1" height="1.1" fill="#34449a" fill-opacity="0.64"/>
<rect x="419.5" y="275.1" width="1.1" height="1.1" fill="#4558b0" fill-opacity="0.64"/>
<rect x="420.7" y="266.3" width="1.1" height="1.1" fill="#9aa6dc" fill-opacity="0.64"/>
<rect x="422.8" y="278.0" width="1.1" height="1.1" fill="#34449a" fill-opacity="0.64"/>
<rect x="417.8" y="267.3" width="1.1" height="1.1" fill="#4558b0" fill-opacity="0.64"/>
<rect x="421.4" y="248.7" width="1.1" height="1.1" fill="#9aa6dc" fill-opacity="0.64"/>
<rect x="422.2" y="247.3" width="1.1" height="1.1" fill="#5870c0" fill-opacity="0.64"/>
<rect x="420.5" y="239.7" width="1.1" height="1.1" fill="#9aa6dc" fill-opacity="0.64"/>
<rect x="425.3" y="277.4" width="1.1" height="1.1" fill="#7a8ad0" fill-opacity="0.64"/>
<rect x="424.5" y="259.1" width="1.1" height="1.1" fill="#5870c0" fill-opacity="0.64"/>
<rect x="422.6" y="277.9" width="1.1" height="1.1" fill="#9aa6dc" fill-opacity="0.64"/>
<rect x="424.4" y="277.6" width="1.1" height="1.1" fill="#7a8ad0" fill-opacity="0.64"/>
<rect x="420.9" y="277.0" width="1.1" height="1.1" fill="#4558b0" fill-opacity="0.64"/>
<rect x="425.6" y="277.4" width="1.1" height="1.1" fill="#7a8ad0" fill-opacity="0.64"/>
<rect x="421.6" y="265.0" width="1.1" height="1.1" fill="#4558b0" fill-opacity="0.64"/>
<rect x="423.7" y="278.4" width="1.1" height="1.1" fill="#4558b0" fill-opacity="0.64"/>
<rect x="419.6" y="237.2" width="1.1" height="1.1" fill="#7a8ad0" fill-opacity="0.64"/>
<rect x="417.7" y="260.5" width="1.1" height="1.1" fill="#34449a" fill-opacity="0.64"/>
<rect x="422.5" y="273.8" width="1.1" height="1.1" fill="#7a8ad0" fill-opacity="0.64"/>
<rect x="418.7" y="237.1" width="1.1" height="1.1" fill="#7a8ad0" fill-opacity="0.64"/>
<rect x="424.3" y="272.4" width="1.1" height="1.1" fill="#7a8ad0" fill-opacity="0.64"/>
<rect x="429.5" y="278.3" width="1.1" height="1.1" fill="#34449a" fill-opacity="0.64"/>
<rect x="418.9" y="254.0" width="1.1" height="1.1" fill="#4558b0" fill-opacity="0.64"/>
<rect x="424.0" y="271.0" width="1.1" height="1.1" fill="#9aa6dc" fill-opacity="0.64"/>
<rect x="425.8" y="262.4" width="1.1" height="1.1" fill="#4558b0" fill-opacity="0.64"/>
<rect x="424.2" y="234.8" width="1.1" height="1.1" fill="#5870c0" fill-opacity="0.64"/>
<rect x="421.4" y="275.7" width="1.1" height="1.1" fill="#34449a" fill-opacity="0.64"/>
<rect x="422.3" y="240.3" width="1.1" height="1.1" fill="#9aa6dc" fill-opacity="0.64"/>
<rect x="418.7" y="259.1" width="1.1" height="1.1" fill="#34449a" fill-opacity="0.64"/>
<rect x="417.3" y="248.1" width="1.1" height="1.1" fill="#9aa6dc" fill-opacity="0.64"/>
<rect x="422.3" y="273.1" width="1.1" height="1.1" fill="#7a8ad0" fill-opacity="0.64"/>
<rect x="420.3" y="278.1" width="1.1" height="1.1" fill="#34449a" fill-opacity="0.64"/>
<rect x="424.0" y="264.8" width="1.1" height="1.1" fill="#7a8ad0" fill-opacity="0.64"/>
<rect x="419.9" y="262.5" width="1.1" height="1.1" fill="#9aa6dc" fill-opacity="0.64"/>
<rect x="423.7" y="242.6" width="1.1" height="1.1" fill="#34449a" fill-opacity="0.64"/>
<rect x="420.2" y="276.9" width="1.1" height="1.1" fill="#5870c0" fill-opacity="0.64"/>
<rect x="422.9" y="273.1" width="1.1" height="1.1" fill="#4558b0" fill-opacity="0.64"/>
<rect x="422.8" y="273.5" width="1.1" height="1.1" fill="#9aa6dc" fill-opacity="0.64"/>
<rect x="423.5" y="266.4" width="1.1" height="1.1" fill="#7a8ad0" fill-opacity="0.64"/>
<rect x="427.7" y="248.1" width="1.1" height="1.1" fill="#7a8ad0" fill-opacity="0.64"/>
<rect x="423.7" y="252.0" width="1.1" height="1.1" fill="#7a8ad0" fill-opacity="0.64"/>
<rect x="421.7" y="278.4" width="1.1" height="1.1" fill="#9aa6dc" fill-opacity="0.64"/>
<rect x="425.2" y="260.8" width="1.1" height="1.1" fill="#4558b0" fill-opacity="0.64"/>
<rect x="418.7" y="278.3" width="1.1" height="1.1" fill="#4558b0" fill-opacity="0.64"/>
<rect x="423.2" y="238.2" width="1.1" height="1.1" fill="#34449a" fill-opacity="0.64"/>
<rect x="424.6" y="267.8" width="1.1" height="1.1" fill="#7a8ad0" fill-opacity="0.64"/>
<rect x="420.3" y="278.3" width="1.1" height="1.1" fill="#4558b0" fill-opacity="0.64"/>
<rect x="421.4" y="274.3" width="1.1" height="1.1" fill="#34449a" fill-opacity="0.64"/>
<rect x="420.9" y="276.1" width="1.1" height="1.1" fill="#7a8ad0" fill-opacity="0.64"/>
<rect x="423.1" y="276.6" width="1.1" height="1.1" fill="#7a8ad0" fill-opacity="0.64"/>
<rect x="422.2" y="250.5" width="1.1" height="1.1" fill="#9aa6dc" fill-opacity="0.64"/>
<rect x="419.6" y="254.6" width="1.1" height="1.1" fill="#7a8ad0" fill-opacity="0.64"/>
<rect x="421.3" y="259.9" width="1.1" height="1.1" fill="#34449a" fill-opacity="0.64"/>
<rect x="423.1" y="242.4" width="1.1" height="1.1" fill="#9aa6dc" fill-opacity="0.64"/>
<rect x="425.9" y="272.0" width="1.1" height="1.1" fill="#4558b0" fill-opacity="0.64"/>
<rect x="422.2" y="240.7" width="1.1" height="1.1" fill="#34449a" fill-opacity="0.64"/>
<rect x="429.6" y="253.2" width="1.1" height="1.1" fill="#34449a" fill-opacity="0.64"/>
<rect x="423.3" y="269.2" width="1.1" height="1.1" fill="#9aa6dc" fill-opacity="0.64"/>
<rect x="427.7" y="261.3" width="1.1" height="1.1" fill="#4558b0" fill-opacity="0.64"/>
<rect x="425.6" y="265.9" width="1.1" height="1.1" fill="#7a8ad0" fill-opacity="0.64"/>
<rect x="421.2" y="274.3" width="1.1" height="1.1" fill="#4558b0" fill-opacity="0.64"/>
<rect x="424.3" y="246.6" width="1.1" height="1.1" fill="#4558b0" fill-opacity="0.64"/>
<rect x="417.9" y="250.0" width="1.1" height="1.1" fill="#7a8ad0" fill-opacity="0.64"/>
<rect x="424.3" y="277.4" width="1.1" height="1.1" fill="#34449a" fill-opacity="0.64"/>
<rect x="426.3" y="247.8" width="1.1" height="1.1" fill="#5870c0" fill-opacity="0.64"/>
<rect x="418.2" y="264.5" width="1.1" height="1.1" fill="#9aa6dc" fill-opacity="0.64"/>
<rect x="416.8" y="255.3" width="1.1" height="1.1" fill="#34449a" fill-opacity="0.64"/>
<rect x="422.4" y="248.9" width="1.1" height="1.1" fill="#5870c0" fill-opacity="0.64"/>
<rect x="425.3" y="263.9" width="1.1" height="1.1" fill="#9aa6dc" fill-opacity="0.64"/>
<rect x="419.9" y="277.0" width="1.1" height="1.1" fill="#34449a" fill-opacity="0.64"/>
<rect x="424.9" y="259.1" width="1.1" height="1.1" fill="#7a8ad0" fill-opacity="0.64"/>
<rect x="426.3" y="275.7" width="1.1" height="1.1" fill="#34449a" fill-opacity="0.64"/>
<rect x="416.2" y="261.3" width="1.1" height="1.1" fill="#9aa6dc" fill-opacity="0.64"/>
<rect x="424.5" y="266.2" width="1.1" height="1.1" fill="#34449a" fill-opacity="0.64"/>
<rect x="421.2" y="266.9" width="1.1" height="1.1" fill="#4558b0" fill-opacity="0.64"/>
<rect x="423.4" y="235.2" width="1.1" height="1.1" fill="#7a8ad0" fill-opacity="0.64"/>
<rect x="422.6" y="251.0" width="1.1" height="1.1" fill="#34449a" fill-opacity="0.64"/>
<rect x="423.0" y="246.9" width="1.1" height="1.1" fill="#34449a" fill-opacity="0.64"/>
<rect x="427.5" y="257.7" width="1.1" height="1.1" fill="#4558b0" fill-opacity="0.64"/>
<rect x="421.1" y="250.1" width="1.1" height="1.1" fill="#5870c0" fill-opacity="0.64"/>
<rect x="426.2" y="262.9" width="1.1" height="1.1" fill="#5870c0" fill-opacity="0.64"/>
<rect x="421.4" y="273.6" width="1.1" height="1.1" fill="#5870c0" fill-opacity="0.64"/>
<rect x="420.2" y="277.6" width="1.1" height="1.1" fill="#9aa6dc" fill-opacity="0.64"/>
<rect x="420.3" y="235.0" width="1.1" height="1.1" fill="#7a8ad0" fill-opacity="0.64"/>
<rect x="426.2" y="243.0" width="1.1" height="1.1" fill="#4558b0" fill-opacity="0.64"/>
<rect x="421.7" y="250.0" width="1.1" height="1.1" fill="#4558b0" fill-opacity="0.64"/>
<rect x="427.3" y="261.7" width="1.1" height="1.1" fill="#34449a" fill-opacity="0.64"/>
<rect x="425.5" y="276.6" width="1.1" height="1.1" fill="#4558b0" fill-opacity="0.64"/>
<rect x="423.0" y="277.8" width="1.1" height="1.1" fill="#4558b0" fill-opacity="0.64"/>
<rect x="425.2" y="254.7" width="1.1" height="1.1" fill="#5870c0" fill-opacity="0.64"/>
<rect x="421.7" y="239.5" width="1.1" height="1.1" fill="#34449a" fill-opacity="0.64"/>
<rect x="422.9" y="255.8" width="1.1" height="1.1" fill="#5870c0" fill-opacity="0.64"/>
<rect x="422.5" y="274.1" width="1.1" height="1.1" fill="#9aa6dc" fill-opacity="0.64"/>
<rect x="424.2" y="277.6" width="1.1" height="1.1" fill="#7a8ad0" fill-opacity="0.64"/>
<rect x="423.8" y="263.2" width="1.1" height="1.1" fill="#4558b0" fill-opacity="0.64"/>
<rect x="417.7" y="264.3" width="1.1" height="1.1" fill="#34449a" fill-opacity="0.64"/>
<rect x="424.0" y="260.9" width="1.1" height="1.1" fill="#4558b0" fill-opacity="0.64"/>
<rect x="420.7" y="250.5" width="1.1" height="1.1" fill="#34449a" fill-opacity="0.64"/>
<rect x="422.6" y="252.5" width="1.1" height="1.1" fill="#9aa6dc" fill-opacity="0.64"/>
<rect x="426.2" y="276.4" width="1.1" height="1.1" fill="#34449a" fill-opacity="0.64"/>
<rect x="419.5" y="274.6" width="1.1" height="1.1" fill="#4558b0" fill-opacity="0.64"/>
<rect x="425.5" y="266.2" width="1.1" height="1.1" fill="#34449a" fill-opacity="0.64"/>
<rect x="415.8" y="244.2" width="1.1" height="1.1" fill="#4558b0" fill-opacity="0.64"/>
<rect x="420.2" y="276.5" width="1.1" height="1.1" fill="#9aa6dc" fill-opacity="0.64"/>
<rect x="420.0" y="251.8" width="1.1" height="1.1" fill="#9aa6dc" fill-opacity="0.64"/>
<rect x="422.8" y="241.7" width="1.1" height="1.1" fill="#34449a" fill-opacity="0.64"/>
<rect x="425.1" y="255.6" width="1.1" height="1.1" fill="#9aa6dc" fill-opacity="0.64"/>
<rect x="424.0" y="254.3" width="1.1" height="1.1" fill="#34449a" fill-opacity="0.64"/>
<rect x="423.2" y="240.9" width="1.1" height="1.1" fill="#9aa6dc" fill-opacity="0.64"/>
<rect x="422.2" y="254.8" width="1.1" height="1.1" fill="#34449a" fill-opacity="0.64"/>
<rect x="422.5" y="254.9" width="1.1" height="1.1" fill="#7a8ad0" fill-opacity="0.64"/>
<rect x="422.4" y="259.9" width="1.1" height="1.1" fill="#7a8ad0" fill-opacity="0.64"/>
<rect x="425.0" y="267.0" width="1.1" height="1.1" fill="#7a8ad0" fill-opacity="0.64"/>
<rect x="421.3" y="239.1" width="1.1" height="1.1" fill="#7a8ad0" fill-opacity="0.64"/>
<rect x="421.3" y="246.0" width="1.1" height="1.1" fill="#9aa6dc" fill-opacity="0.64"/>
<rect x="425.4" y="236.3" width="1.1" height="1.1" fill="#4558b0" fill-opacity="0.64"/>
<rect x="418.2" y="278.1" width="1.1" height="1.1" fill="#5870c0" fill-opacity="0.64"/>
<rect x="426.8" y="237.4" width="1.1" height="1.1" fill="#9aa6dc" fill-opacity="0.64"/>
<rect x="420.2" y="234.5" width="1.1" height="1.1" fill="#5870c0" fill-opacity="0.64"/>
<rect x="420.1" y="259.4" width="1.1" height="1.1" fill="#34449a" fill-opacity="0.64"/>
<rect x="422.1" y="266.1" width="1.1" height="1.1" fill="#7a8ad0" fill-opacity="0.64"/>
<rect x="424.4" y="242.9" width="1.1" height="1.1" fill="#34449a" fill-opacity="0.64"/>
<rect x="424.5" y="276.8" width="1.1" height="1.1" fill="#9aa6dc" fill-opacity="0.64"/>
<rect x="424.9" y="252.9" width="1.1" height="1.1" fill="#5870c0" fill-opacity="0.64"/>
<rect x="422.0" y="273.2" width="1.1" height="1.1" fill="#9aa6dc" fill-opacity="0.64"/>
<rect x="422.4" y="245.6" width="1.1" height="1.1" fill="#4558b0" fill-opacity="0.64"/>
<rect x="426.8" y="263.2" width="1.1" height="1.1" fill="#4558b0" fill-opacity="0.64"/>
<rect x="423.5" y="272.8" width="1.1" height="1.1" fill="#4558b0" fill-opacity="0.64"/>
<rect x="424.1" y="278.1" width="1.1" height="1.1" fill="#7a8ad0" fill-opacity="0.64"/>
<rect x="422.5" y="258.7" width="1.1" height="1.1" fill="#4558b0" fill-opacity="0.64"/>
<rect x="423.7" y="241.5" width="1.1" height="1.1" fill="#5870c0" fill-opacity="0.64"/>
<rect x="422.6" y="236.6" width="1.1" height="1.1" fill="#9aa6dc" fill-opacity="0.64"/>
<rect x="420.9" y="243.4" width="1.1" height="1.1" fill="#34449a" fill-opacity="0.64"/>
<rect x="425.6" y="240.3" width="1.1" height="1.1" fill="#9aa6dc" fill-opacity="0.64"/>
<rect x="421.6" y="246.6" width="1.1" height="1.1" fill="#9aa6dc" fill-opacity="0.64"/>
<rect x="420.7" y="235.4" width="1.1" height="1.1" fill="#5870c0" fill-opacity="0.64"/>
<rect x="425.6" y="257.8" width="1.1" height="1.1" fill="#34449a" fill-opacity="0.64"/>
<rect x="422.9" y="262.0" width="1.1" height="1.1" fill="#5870c0" fill-opacity="0.64"/>
<rect x="423.1" y="248.3" width="1.1" height="1.1" fill="#4558b0" fill-opacity="0.64"/>
<rect x="426.7" y="263.9" width="1.1" height="1.1" fill="#4558b0" fill-opacity="0.64"/>
<rect x="422.7" y="264.3" width="1.1" height="1.1" fill="#34449a" fill-opacity="0.64"/>
<rect x="422.1" y="254.4" width="1.1" height="1.1" fill="#7a8ad0" fill-opacity="0.64"/>
<rect x="420.1" y="272.8" width="1.1" height="1.1" fill="#4558b0" fill-opacity="0.64"/>
<rect x="419.3" y="239.7" width="1.1" height="1.1" fill="#4558b0" fill-opacity="0.64"/>
<rect x="424.6" y="246.1" width="1.1" height="1.1" fill="#5870c0" fill-opacity="0.64"/>
<rect x="420.8" y="235.0" width="1.1" height="1.1" fill="#9aa6dc" fill-opacity="0.64"/>
<rect x="422.1" y="259.8" width="1.1" height="1.1" fill="#9aa6dc" fill-opacity="0.64"/>
<rect x="417.1" y="251.1" width="1.1" height="1.1" fill="#4558b0" fill-opacity="0.64"/>
<rect x="423.1" y="242.9" width="1.1" height="1.1" fill="#4558b0" fill-opacity="0.64"/>
<rect x="421.4" y="237.9" width="1.1" height="1.1" fill="#7a8ad0" fill-opacity="0.64"/>
<rect x="424.9" y="273.8" width="1.1" height="1.1" fill="#7a8ad0" fill-opacity="0.64"/>
<rect x="418.6" y="250.0" width="1.1" height="1.1" fill="#34449a" fill-opacity="0.64"/>
<rect x="426.0" y="255.2" width="1.1" height="1.1" fill="#7a8ad0" fill-opacity="0.64"/>
<rect x="427.7" y="261.4" width="1.1" height="1.1" fill="#4558b0" fill-opacity="0.64"/>
<rect x="421.5" y="275.9" width="1.1" height="1.1" fill="#4558b0" fill-opacity="0.64"/>
<rect x="419.1" y="263.8" width="1.1" height="1.1" fill="#5870c0" fill-opacity="0.64"/>
<rect x="423.5" y="245.9" width="1.1" height="1.1" fill="#9aa6dc" fill-opacity="0.64"/>
<rect x="422.0" y="239.6" width="1.1" height="1.1" fill="#4558b0" fill-opacity="0.64"/>
<rect x="424.3" y="244.3" width="1.1" height="1.1" fill="#4558b0" fill-opacity="0.64"/>
<rect x="423.2" y="268.9" width="1.1" height="1.1" fill="#9aa6dc" fill-opacity="0.64"/>
<rect x="425.6" y="253.7" width="1.1" height="1.1" fill="#5870c0" fill-opacity="0.64"/>
<rect x="420.3" y="261.5" width="1.1" height="1.1" fill="#34449a" fill-opacity="0.64"/>
<rect x="423.3" y="278.0" width="1.1" height="1.1" fill="#7a8ad0" fill-opacity="0.64"/>
<rect x="423.9" y="278.2" width="1.1" height="1.1" fill="#4558b0" fill-opacity="0.64"/>
<rect x="425.4" y="262.5" width="1.1" height="1.1" fill="#4558b0" fill-opacity="0.64"/>
<rect x="424.6" y="242.6" width="1.1" height="1.1" fill="#7a8ad0" fill-opacity="0.64"/>
<rect x="420.9" y="218.8" width="0.9" height="0.9" fill="#a0a8dc" fill-opacity="0.55"/>
<rect x="417.6" y="219.6" width="0.9" height="0.9" fill="#a0a8dc" fill-opacity="0.55"/>
<rect x="421.4" y="226.4" width="0.9" height="0.9" fill="#a0a8dc" fill-opacity="0.55"/>
<rect x="421.1" y="228.0" width="0.9" height="0.9" fill="#a0a8dc" fill-opacity="0.55"/>
<rect x="422.3" y="215.6" width="0.9" height="0.9" fill="#a0a8dc" fill-opacity="0.55"/>
<rect x="427.0" y="238.7" width="0.9" height="0.9" fill="#a0a8dc" fill-opacity="0.55"/>
<rect x="421.2" y="218.2" width="0.9" height="0.9" fill="#a0a8dc" fill-opacity="0.55"/>
<rect x="422.8" y="219.9" width="0.9" height="0.9" fill="#a0a8dc" fill-opacity="0.55"/>
<rect x="425.2" y="234.9" width="0.9" height="0.9" fill="#a0a8dc" fill-opacity="0.55"/>
<rect x="422.8" y="225.7" width="0.9" height="0.9" fill="#a0a8dc" fill-opacity="0.55"/>
<rect x="418.2" y="236.0" width="0.9" height="0.9" fill="#a0a8dc" fill-opacity="0.55"/>
<rect x="423.2" y="210.1" width="0.9" height="0.9" fill="#a0a8dc" fill-opacity="0.55"/>
<rect x="417.5" y="224.3" width="0.9" height="0.9" fill="#a0a8dc" fill-opacity="0.55"/>
<rect x="426.7" y="236.3" width="0.9" height="0.9" fill="#a0a8dc" fill-opacity="0.55"/>
<rect x="426.9" y="234.0" width="0.9" height="0.9" fill="#a0a8dc" fill-opacity="0.55"/>
<rect x="416.0" y="234.7" width="0.9" height="0.9" fill="#a0a8dc" fill-opacity="0.55"/>
<rect x="423.9" y="225.0" width="0.9" height="0.9" fill="#a0a8dc" fill-opacity="0.55"/>
<rect x="427.4" y="235.9" width="0.9" height="0.9" fill="#a0a8dc" fill-opacity="0.55"/>
<rect x="422.8" y="224.3" width="0.9" height="0.9" fill="#a0a8dc" fill-opacity="0.55"/>
<rect x="421.6" y="238.2" width="0.9" height="0.9" fill="#a0a8dc" fill-opacity="0.55"/>
<rect x="422.3" y="235.7" width="0.9" height="0.9" fill="#a0a8dc" fill-opacity="0.55"/>
<rect x="425.9" y="212.8" width="0.9" height="0.9" fill="#a0a8dc" fill-opacity="0.55"/>
<rect x="424.2" y="220.5" width="0.9" height="0.9" fill="#a0a8dc" fill-opacity="0.55"/>
<rect x="425.4" y="220.5" width="0.9" height="0.9" fill="#a0a8dc" fill-opacity="0.55"/>
<rect x="421.6" y="231.5" width="0.9" height="0.9" fill="#a0a8dc" fill-opacity="0.55"/>
<rect x="422.6" y="218.6" width="0.9" height="0.9" fill="#a0a8dc" fill-opacity="0.55"/>
<rect x="421.6" y="216.4" width="0.9" height="0.9" fill="#a0a8dc" fill-opacity="0.55"/>
<rect x="424.0" y="229.5" width="0.9" height="0.9" fill="#a0a8dc" fill-opacity="0.55"/>
<rect x="417.2" y="233.8" width="0.9" height="0.9" fill="#a0a8dc" fill-opacity="0.55"/>
<rect x="416.1" y="237.0" width="0.9" height="0.9" fill="#a0a8dc" fill-opacity="0.55"/>
<rect x="419.5" y="204.6" width="0.9" height="0.9" fill="#a0a8dc" fill-opacity="0.55"/>
<rect x="422.5" y="211.7" width="0.9" height="0.9" fill="#a0a8dc" fill-opacity="0.55"/>
<rect x="415.1" y="209.0" width="0.9" height="0.9" fill="#a0a8dc" fill-opacity="0.55"/>
<rect x="420.7" y="230.3" width="0.9" height="0.9" fill="#a0a8dc" fill-opacity="0.55"/>
<rect x="416.9" y="227.7" width="0.9" height="0.9" fill="#a0a8dc" fill-opacity="0.55"/>
<rect x="421.3" y="216.8" width="0.9" height="0.9" fill="#a0a8dc" fill-opacity="0.55"/>
<rect x="426.1" y="220.6" width="0.9" height="0.9" fill="#a0a8dc" fill-opacity="0.55"/>
<rect x="426.6" y="229.2" width="0.9" height="0.9" fill="#a0a8dc" fill-opacity="0.55"/>
<rect x="422.2" y="204.6" width="0.9" height="0.9" fill="#a0a8dc" fill-opacity="0.55"/>
<rect x="422.8" y="223.2" width="0.9" height="0.9" fill="#a0a8dc" fill-opacity="0.55"/>
</g>
<rect x="338.9" y="199.4" width="106.5" height="106.5" fill="none" stroke="#333" stroke-width="1.05"/>
<path d="M406.7,199.7 V267.2 H439.6 V199.7 Z" fill="none" stroke="#333" stroke-width="1.05"/>
<path d="M345.5,305.9 v2.8" stroke="#222" stroke-width="1"/>
<path d="M364.3,305.9 v2.8" stroke="#222" stroke-width="1"/>
<path d="M380.7,305.9 v2.8" stroke="#222" stroke-width="1"/>
<path d="M409.0,305.9 v2.8" stroke="#222" stroke-width="1"/>
<path d="M434.9,305.9 v2.8" stroke="#222" stroke-width="1"/>
<path d="M338.9,298.9 h-2.8" stroke="#222" stroke-width="1"/>
<path d="M338.9,281.8 h-2.8" stroke="#222" stroke-width="1"/>
<path d="M338.9,263.9 h-2.8" stroke="#222" stroke-width="1"/>
<path d="M338.9,234.8 h-2.8" stroke="#222" stroke-width="1"/>
<path d="M338.9,209.5 h-2.8" stroke="#222" stroke-width="1"/>
<path d="M389.2,305.9 v1.7" stroke="#444" stroke-width="0.8"/>
<path d="M338.9,255.1 h-1.7" stroke="#444" stroke-width="0.8"/>
<path d="M394.2,305.9 v1.7" stroke="#444" stroke-width="0.8"/>
<path d="M338.9,250.0 h-1.7" stroke="#444" stroke-width="0.8"/>
<path d="M397.7,305.9 v1.7" stroke="#444" stroke-width="0.8"/>
<path d="M338.9,246.4 h-1.7" stroke="#444" stroke-width="0.8"/>
<path d="M400.5,305.9 v1.7" stroke="#444" stroke-width="0.8"/>
<path d="M338.9,243.6 h-1.7" stroke="#444" stroke-width="0.8"/>
<path d="M402.7,305.9 v1.7" stroke="#444" stroke-width="0.8"/>
<path d="M338.9,241.3 h-1.7" stroke="#444" stroke-width="0.8"/>
<path d="M404.6,305.9 v1.7" stroke="#444" stroke-width="0.8"/>
<path d="M338.9,239.3 h-1.7" stroke="#444" stroke-width="0.8"/>
<path d="M406.3,305.9 v1.7" stroke="#444" stroke-width="0.8"/>
<path d="M338.9,237.6 h-1.7" stroke="#444" stroke-width="0.8"/>
<path d="M407.7,305.9 v1.7" stroke="#444" stroke-width="0.8"/>
<path d="M338.9,236.1 h-1.7" stroke="#444" stroke-width="0.8"/>
<path d="M416.8,305.9 v1.7" stroke="#444" stroke-width="0.8"/>
<path d="M338.9,227.2 h-1.7" stroke="#444" stroke-width="0.8"/>
<path d="M421.4,305.9 v1.7" stroke="#444" stroke-width="0.8"/>
<path d="M338.9,222.7 h-1.7" stroke="#444" stroke-width="0.8"/>
<path d="M424.6,305.9 v1.7" stroke="#444" stroke-width="0.8"/>
<path d="M338.9,219.6 h-1.7" stroke="#444" stroke-width="0.8"/>
<path d="M427.1,305.9 v1.7" stroke="#444" stroke-width="0.8"/>
<path d="M338.9,217.1 h-1.7" stroke="#444" stroke-width="0.8"/>
<path d="M429.2,305.9 v1.7" stroke="#444" stroke-width="0.8"/>
<path d="M338.9,215.1 h-1.7" stroke="#444" stroke-width="0.8"/>
<path d="M430.9,305.9 v1.7" stroke="#444" stroke-width="0.8"/>
<path d="M338.9,213.4 h-1.7" stroke="#444" stroke-width="0.8"/>
<path d="M432.4,305.9 v1.7" stroke="#444" stroke-width="0.8"/>
<path d="M338.9,212.0 h-1.7" stroke="#444" stroke-width="0.8"/>
<path d="M433.7,305.9 v1.7" stroke="#444" stroke-width="0.8"/>
<path d="M338.9,210.7 h-1.7" stroke="#444" stroke-width="0.8"/>
<path d="M442.7,305.9 v1.7" stroke="#444" stroke-width="0.8"/>
<path d="M338.9,201.9 h-1.7" stroke="#444" stroke-width="0.8"/>
<path d="M367.6,305.9 v1.7" stroke="#444" stroke-width="0.8"/>
<path d="M338.9,278.2 h-1.7" stroke="#444" stroke-width="0.8"/>
<path d="M370.9,305.9 v1.7" stroke="#444" stroke-width="0.8"/>
<path d="M338.9,274.6 h-1.7" stroke="#444" stroke-width="0.8"/>
<path d="M374.1,305.9 v1.7" stroke="#444" stroke-width="0.8"/>
<path d="M338.9,271.1 h-1.7" stroke="#444" stroke-width="0.8"/>
<path d="M377.4,305.9 v1.7" stroke="#444" stroke-width="0.8"/>
<path d="M338.9,267.5 h-1.7" stroke="#444" stroke-width="0.8"/>
<path d="M360.5,305.9 v1.7" stroke="#444" stroke-width="0.8"/>
<path d="M338.9,285.2 h-1.7" stroke="#444" stroke-width="0.8"/>
<path d="M356.8,305.9 v1.7" stroke="#444" stroke-width="0.8"/>
<path d="M338.9,288.6 h-1.7" stroke="#444" stroke-width="0.8"/>
<path d="M353.0,305.9 v1.7" stroke="#444" stroke-width="0.8"/>
<path d="M338.9,292.1 h-1.7" stroke="#444" stroke-width="0.8"/>
<path d="M349.3,305.9 v1.7" stroke="#444" stroke-width="0.8"/>
<path d="M338.9,295.5 h-1.7" stroke="#444" stroke-width="0.8"/>
<text x="335.0" y="318.4" font-size="7.9">−10<tspan dx="0.4" dy="-2.9" font-size="5.6" stroke-width="0.05">3</tspan></text>
<text x="364.7" y="318.4" font-size="7.9" text-anchor="middle">0</text>
<text x="374.5" y="318.4" font-size="7.9">10<tspan dx="0.4" dy="-2.9" font-size="5.6" stroke-width="0.05">3</tspan></text>
<text x="403.9" y="318.4" font-size="7.9">10<tspan dx="0.4" dy="-2.9" font-size="5.6" stroke-width="0.05">4</tspan></text>
<text x="428.7" y="318.4" font-size="7.9">10<tspan dx="0.4" dy="-2.9" font-size="5.6" stroke-width="0.05">5</tspan></text>
<text x="332.7" y="301.7" font-size="7.9" text-anchor="end">−10<tspan dx="0.4" dy="-2.9" font-size="5.6" stroke-width="0.05">3</tspan></text>
<text x="332.7" y="284.6" font-size="7.9" text-anchor="end">0</text>
<text x="332.7" y="266.7" font-size="7.9" text-anchor="end">10<tspan dx="0.4" dy="-2.9" font-size="5.6" stroke-width="0.05">3</tspan></text>
<text x="332.7" y="237.6" font-size="7.9" text-anchor="end">10<tspan dx="0.4" dy="-2.9" font-size="5.6" stroke-width="0.05">4</tspan></text>
<text x="332.7" y="212.3" font-size="7.9" text-anchor="end">10<tspan dx="0.4" dy="-2.9" font-size="5.6" stroke-width="0.05">5</tspan></text>
<text transform="translate(375.1,332.3) scale(0.57,1)" font-size="10.0" font-weight="700" letter-spacing="0.6" fill="#262626" stroke="none">CD8-BV421</text>
<text transform="translate(313.3,278.4) rotate(-90) scale(0.69,1)" font-size="9.0" letter-spacing="0.4" fill="#222" stroke="#222" stroke-width="0.25">Tetramer-PE-Cy7</text>
<text x="376.6" y="212.0" font-size="7.2" text-anchor="middle">PE-Cy7 Tetramer</text>
<text x="376.6" y="220.8" font-size="7.2" text-anchor="middle">17.7</text>
<path d="M360.5,306.1 h5.4 l-0.8,3 h-1.2 l-0.9,-1.6 l-0.9,1.6 h-1.2 z" fill="#151515"/>
<rect x="336.1" y="280.0" width="2.4" height="3.6" fill="#151515"/>
</svg></body></html>
